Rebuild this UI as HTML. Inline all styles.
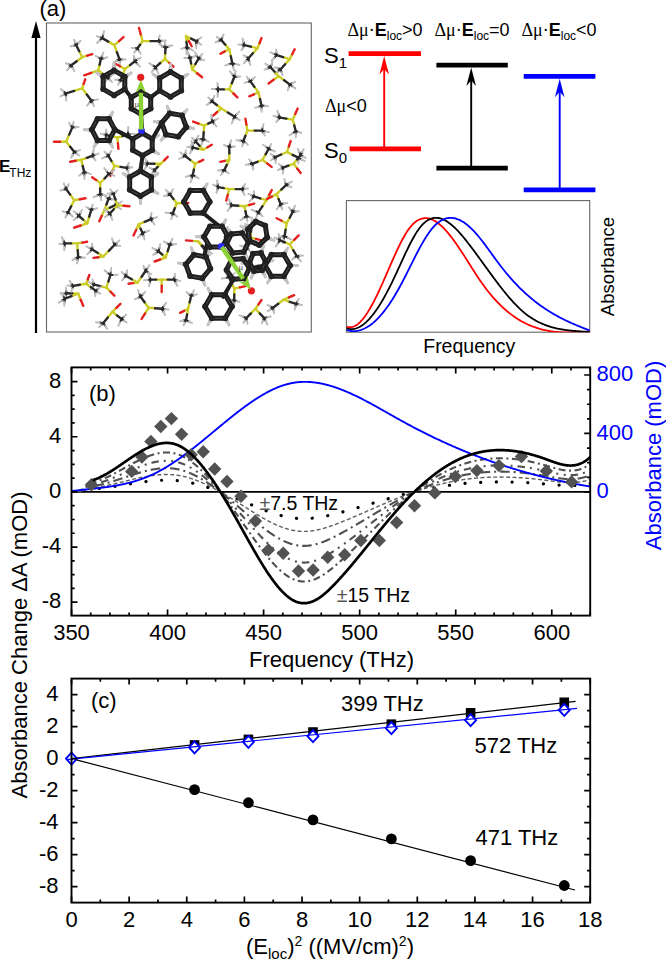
<!DOCTYPE html><html><head><meta charset="utf-8"><style>
html,body{margin:0;padding:0;background:#fff;width:666px;height:961px;overflow:hidden}
svg{display:block} text{font-family:"Liberation Sans", sans-serif;fill:#000}
.t21{font-size:22px}.t20{font-size:20px}.t18{font-size:18px}.t16{font-size:16px}.t15{font-size:15px}.r12{font-size:12px;font-weight:normal}
.b17{font-size:17px;font-weight:bold}.sub{font-size:15px}.sup{font-size:14px}
.serif{font-family:"Liberation Serif", serif}
</style></head><body>
<svg width="666" height="961" viewBox="0 0 666 961">
<rect width="666" height="961" fill="#fff"/>
<g id="panela">
<text x="39.5" y="16" class="t21">(a)</text>
<line x1="36" y1="333" x2="36" y2="34" stroke="#000" stroke-width="2.2"/>
<path d="M36,21 L40.6,38 L31.4,38 Z" fill="#000"/>
<text x="-1" y="172" class="b17">E<tspan class="r12" dy="5" dx="-1">THz</tspan></text>
<rect x="46.5" y="23" width="264.8" height="309" fill="#fff" stroke="#666" stroke-width="1.1"/>
<clipPath id="clipm"><rect x="47" y="23.5" width="263.8" height="308"/></clipPath>
<g clip-path="url(#clipm)">
<line x1="76.2" y1="45.1" x2="73.4" y2="45.7" stroke="#2a2a2a" stroke-width="2.0" stroke-linecap="round"/>
<line x1="73.4" y1="45.7" x2="70.5" y2="46.3" stroke="#bdbdbd" stroke-width="2.0" stroke-linecap="round"/>
<line x1="76.2" y1="45.1" x2="75.1" y2="42.5" stroke="#2a2a2a" stroke-width="2.0" stroke-linecap="round"/>
<line x1="75.1" y1="42.5" x2="74.1" y2="39.9" stroke="#bdbdbd" stroke-width="2.0" stroke-linecap="round"/>
<line x1="76.2" y1="45.1" x2="78.4" y2="42.9" stroke="#2a2a2a" stroke-width="2.0" stroke-linecap="round"/>
<line x1="78.4" y1="42.9" x2="80.6" y2="40.7" stroke="#bdbdbd" stroke-width="2.0" stroke-linecap="round"/>
<line x1="71.2" y1="65.3" x2="72.8" y2="68.1" stroke="#2a2a2a" stroke-width="2.0" stroke-linecap="round"/>
<line x1="72.8" y1="68.1" x2="74.4" y2="71.0" stroke="#bdbdbd" stroke-width="2.0" stroke-linecap="round"/>
<line x1="71.2" y1="65.3" x2="69.2" y2="67.7" stroke="#2a2a2a" stroke-width="2.0" stroke-linecap="round"/>
<line x1="69.2" y1="67.7" x2="67.1" y2="70.2" stroke="#bdbdbd" stroke-width="2.0" stroke-linecap="round"/>
<line x1="71.2" y1="65.3" x2="68.5" y2="64.3" stroke="#2a2a2a" stroke-width="2.0" stroke-linecap="round"/>
<line x1="68.5" y1="64.3" x2="65.9" y2="63.3" stroke="#bdbdbd" stroke-width="2.0" stroke-linecap="round"/>
<line x1="82.2" y1="57.2" x2="79.2" y2="51.2" stroke="#cccc28" stroke-width="2.4" stroke-linecap="round"/>
<line x1="79.2" y1="51.2" x2="76.2" y2="45.1" stroke="#2a2a2a" stroke-width="2.4" stroke-linecap="round"/>
<line x1="82.2" y1="57.2" x2="76.7" y2="61.2" stroke="#cccc28" stroke-width="2.4" stroke-linecap="round"/>
<line x1="76.7" y1="61.2" x2="71.2" y2="65.3" stroke="#2a2a2a" stroke-width="2.4" stroke-linecap="round"/>
<line x1="82.2" y1="57.2" x2="87.2" y2="55.7" stroke="#cccc28" stroke-width="2.4" stroke-linecap="round"/>
<line x1="87.2" y1="55.7" x2="92.3" y2="54.2" stroke="#e42020" stroke-width="2.4" stroke-linecap="round"/>
<line x1="102.3" y1="38.1" x2="99.7" y2="40.5" stroke="#2a2a2a" stroke-width="2.0" stroke-linecap="round"/>
<line x1="99.7" y1="40.5" x2="97.0" y2="42.9" stroke="#bdbdbd" stroke-width="2.0" stroke-linecap="round"/>
<line x1="102.3" y1="38.1" x2="99.5" y2="37.1" stroke="#2a2a2a" stroke-width="2.0" stroke-linecap="round"/>
<line x1="99.5" y1="37.1" x2="96.7" y2="36.2" stroke="#bdbdbd" stroke-width="2.0" stroke-linecap="round"/>
<line x1="102.3" y1="38.1" x2="103.2" y2="34.5" stroke="#2a2a2a" stroke-width="2.0" stroke-linecap="round"/>
<line x1="103.2" y1="34.5" x2="104.1" y2="30.9" stroke="#bdbdbd" stroke-width="2.0" stroke-linecap="round"/>
<line x1="119.4" y1="59.2" x2="122.5" y2="59.4" stroke="#2a2a2a" stroke-width="2.0" stroke-linecap="round"/>
<line x1="122.5" y1="59.4" x2="125.7" y2="59.5" stroke="#bdbdbd" stroke-width="2.0" stroke-linecap="round"/>
<line x1="119.4" y1="59.2" x2="119.7" y2="62.0" stroke="#2a2a2a" stroke-width="2.0" stroke-linecap="round"/>
<line x1="119.7" y1="62.0" x2="119.9" y2="64.8" stroke="#bdbdbd" stroke-width="2.0" stroke-linecap="round"/>
<line x1="119.4" y1="59.2" x2="116.7" y2="60.7" stroke="#2a2a2a" stroke-width="2.0" stroke-linecap="round"/>
<line x1="116.7" y1="60.7" x2="114.1" y2="62.1" stroke="#bdbdbd" stroke-width="2.0" stroke-linecap="round"/>
<line x1="114.4" y1="45.1" x2="108.3" y2="41.6" stroke="#cccc28" stroke-width="2.4" stroke-linecap="round"/>
<line x1="108.3" y1="41.6" x2="102.3" y2="38.1" stroke="#2a2a2a" stroke-width="2.4" stroke-linecap="round"/>
<line x1="114.4" y1="45.1" x2="116.9" y2="52.2" stroke="#cccc28" stroke-width="2.4" stroke-linecap="round"/>
<line x1="116.9" y1="52.2" x2="119.4" y2="59.2" stroke="#2a2a2a" stroke-width="2.4" stroke-linecap="round"/>
<line x1="114.4" y1="45.1" x2="119.0" y2="41.1" stroke="#cccc28" stroke-width="2.4" stroke-linecap="round"/>
<line x1="119.0" y1="41.1" x2="123.5" y2="37.1" stroke="#e42020" stroke-width="2.4" stroke-linecap="round"/>
<line x1="158.7" y1="41.1" x2="159.2" y2="38.3" stroke="#2a2a2a" stroke-width="2.0" stroke-linecap="round"/>
<line x1="159.2" y1="38.3" x2="159.6" y2="35.4" stroke="#bdbdbd" stroke-width="2.0" stroke-linecap="round"/>
<line x1="158.7" y1="41.1" x2="162.2" y2="40.7" stroke="#2a2a2a" stroke-width="2.0" stroke-linecap="round"/>
<line x1="162.2" y1="40.7" x2="165.8" y2="40.4" stroke="#bdbdbd" stroke-width="2.0" stroke-linecap="round"/>
<line x1="158.7" y1="41.1" x2="160.3" y2="44.0" stroke="#2a2a2a" stroke-width="2.0" stroke-linecap="round"/>
<line x1="160.3" y1="44.0" x2="162.0" y2="46.9" stroke="#bdbdbd" stroke-width="2.0" stroke-linecap="round"/>
<line x1="137.5" y1="48.2" x2="139.1" y2="50.9" stroke="#2a2a2a" stroke-width="2.0" stroke-linecap="round"/>
<line x1="139.1" y1="50.9" x2="140.6" y2="53.6" stroke="#bdbdbd" stroke-width="2.0" stroke-linecap="round"/>
<line x1="137.5" y1="48.2" x2="135.8" y2="50.4" stroke="#2a2a2a" stroke-width="2.0" stroke-linecap="round"/>
<line x1="135.8" y1="50.4" x2="134.1" y2="52.7" stroke="#bdbdbd" stroke-width="2.0" stroke-linecap="round"/>
<line x1="137.5" y1="48.2" x2="134.5" y2="48.1" stroke="#2a2a2a" stroke-width="2.0" stroke-linecap="round"/>
<line x1="134.5" y1="48.1" x2="131.6" y2="47.9" stroke="#bdbdbd" stroke-width="2.0" stroke-linecap="round"/>
<line x1="142.6" y1="41.1" x2="150.6" y2="41.1" stroke="#cccc28" stroke-width="2.4" stroke-linecap="round"/>
<line x1="150.6" y1="41.1" x2="158.7" y2="41.1" stroke="#2a2a2a" stroke-width="2.4" stroke-linecap="round"/>
<line x1="142.6" y1="41.1" x2="140.1" y2="44.7" stroke="#cccc28" stroke-width="2.4" stroke-linecap="round"/>
<line x1="140.1" y1="44.7" x2="137.5" y2="48.2" stroke="#2a2a2a" stroke-width="2.4" stroke-linecap="round"/>
<line x1="142.6" y1="41.1" x2="140.8" y2="34.5" stroke="#cccc28" stroke-width="2.4" stroke-linecap="round"/>
<line x1="140.8" y1="34.5" x2="139.0" y2="28.0" stroke="#e42020" stroke-width="2.4" stroke-linecap="round"/>
<line x1="100.8" y1="59.0" x2="98.2" y2="57.4" stroke="#2a2a2a" stroke-width="2.0" stroke-linecap="round"/>
<line x1="98.2" y1="57.4" x2="95.6" y2="55.8" stroke="#bdbdbd" stroke-width="2.0" stroke-linecap="round"/>
<line x1="100.8" y1="59.0" x2="102.1" y2="55.8" stroke="#2a2a2a" stroke-width="2.0" stroke-linecap="round"/>
<line x1="102.1" y1="55.8" x2="103.4" y2="52.6" stroke="#bdbdbd" stroke-width="2.0" stroke-linecap="round"/>
<line x1="100.8" y1="59.0" x2="104.1" y2="58.2" stroke="#2a2a2a" stroke-width="2.0" stroke-linecap="round"/>
<line x1="104.1" y1="58.2" x2="107.3" y2="57.3" stroke="#bdbdbd" stroke-width="2.0" stroke-linecap="round"/>
<line x1="107.7" y1="77.7" x2="110.8" y2="75.8" stroke="#2a2a2a" stroke-width="2.0" stroke-linecap="round"/>
<line x1="110.8" y1="75.8" x2="113.9" y2="73.9" stroke="#bdbdbd" stroke-width="2.0" stroke-linecap="round"/>
<line x1="107.7" y1="77.7" x2="109.9" y2="79.8" stroke="#2a2a2a" stroke-width="2.0" stroke-linecap="round"/>
<line x1="109.9" y1="79.8" x2="112.0" y2="82.0" stroke="#bdbdbd" stroke-width="2.0" stroke-linecap="round"/>
<line x1="107.7" y1="77.7" x2="106.2" y2="80.1" stroke="#2a2a2a" stroke-width="2.0" stroke-linecap="round"/>
<line x1="106.2" y1="80.1" x2="104.6" y2="82.5" stroke="#bdbdbd" stroke-width="2.0" stroke-linecap="round"/>
<line x1="98.3" y1="70.3" x2="99.6" y2="64.7" stroke="#cccc28" stroke-width="2.4" stroke-linecap="round"/>
<line x1="99.6" y1="64.7" x2="100.8" y2="59.0" stroke="#2a2a2a" stroke-width="2.4" stroke-linecap="round"/>
<line x1="98.3" y1="70.3" x2="103.0" y2="74.0" stroke="#cccc28" stroke-width="2.4" stroke-linecap="round"/>
<line x1="103.0" y1="74.0" x2="107.7" y2="77.7" stroke="#2a2a2a" stroke-width="2.4" stroke-linecap="round"/>
<line x1="98.3" y1="70.3" x2="91.2" y2="72.8" stroke="#cccc28" stroke-width="2.4" stroke-linecap="round"/>
<line x1="91.2" y1="72.8" x2="84.2" y2="75.3" stroke="#e42020" stroke-width="2.4" stroke-linecap="round"/>
<line x1="66.1" y1="93.4" x2="66.1" y2="96.9" stroke="#2a2a2a" stroke-width="2.0" stroke-linecap="round"/>
<line x1="66.1" y1="96.9" x2="66.1" y2="100.4" stroke="#bdbdbd" stroke-width="2.0" stroke-linecap="round"/>
<line x1="66.1" y1="93.4" x2="63.2" y2="94.9" stroke="#2a2a2a" stroke-width="2.0" stroke-linecap="round"/>
<line x1="63.2" y1="94.9" x2="60.4" y2="96.4" stroke="#bdbdbd" stroke-width="2.0" stroke-linecap="round"/>
<line x1="66.1" y1="93.4" x2="63.4" y2="91.3" stroke="#2a2a2a" stroke-width="2.0" stroke-linecap="round"/>
<line x1="63.4" y1="91.3" x2="60.8" y2="89.1" stroke="#bdbdbd" stroke-width="2.0" stroke-linecap="round"/>
<line x1="91.3" y1="100.5" x2="94.6" y2="100.0" stroke="#2a2a2a" stroke-width="2.0" stroke-linecap="round"/>
<line x1="94.6" y1="100.0" x2="97.9" y2="99.5" stroke="#bdbdbd" stroke-width="2.0" stroke-linecap="round"/>
<line x1="91.3" y1="100.5" x2="92.6" y2="103.3" stroke="#2a2a2a" stroke-width="2.0" stroke-linecap="round"/>
<line x1="92.6" y1="103.3" x2="94.0" y2="106.0" stroke="#bdbdbd" stroke-width="2.0" stroke-linecap="round"/>
<line x1="91.3" y1="100.5" x2="89.2" y2="103.1" stroke="#2a2a2a" stroke-width="2.0" stroke-linecap="round"/>
<line x1="89.2" y1="103.1" x2="87.1" y2="105.7" stroke="#bdbdbd" stroke-width="2.0" stroke-linecap="round"/>
<line x1="82.2" y1="88.4" x2="74.2" y2="90.9" stroke="#cccc28" stroke-width="2.4" stroke-linecap="round"/>
<line x1="74.2" y1="90.9" x2="66.1" y2="93.4" stroke="#2a2a2a" stroke-width="2.4" stroke-linecap="round"/>
<line x1="82.2" y1="88.4" x2="86.8" y2="94.5" stroke="#cccc28" stroke-width="2.4" stroke-linecap="round"/>
<line x1="86.8" y1="94.5" x2="91.3" y2="100.5" stroke="#2a2a2a" stroke-width="2.4" stroke-linecap="round"/>
<line x1="82.2" y1="88.4" x2="83.7" y2="83.8" stroke="#cccc28" stroke-width="2.4" stroke-linecap="round"/>
<line x1="83.7" y1="83.8" x2="85.2" y2="79.3" stroke="#e42020" stroke-width="2.4" stroke-linecap="round"/>
<line x1="134.9" y1="61.2" x2="134.3" y2="58.5" stroke="#2a2a2a" stroke-width="2.0" stroke-linecap="round"/>
<line x1="134.3" y1="58.5" x2="133.7" y2="55.8" stroke="#bdbdbd" stroke-width="2.0" stroke-linecap="round"/>
<line x1="134.9" y1="61.2" x2="137.8" y2="59.4" stroke="#2a2a2a" stroke-width="2.0" stroke-linecap="round"/>
<line x1="137.8" y1="59.4" x2="140.7" y2="57.6" stroke="#bdbdbd" stroke-width="2.0" stroke-linecap="round"/>
<line x1="134.9" y1="61.2" x2="137.4" y2="63.8" stroke="#2a2a2a" stroke-width="2.0" stroke-linecap="round"/>
<line x1="137.4" y1="63.8" x2="139.8" y2="66.5" stroke="#bdbdbd" stroke-width="2.0" stroke-linecap="round"/>
<line x1="120.7" y1="79.9" x2="123.3" y2="81.7" stroke="#2a2a2a" stroke-width="2.0" stroke-linecap="round"/>
<line x1="123.3" y1="81.7" x2="125.8" y2="83.5" stroke="#bdbdbd" stroke-width="2.0" stroke-linecap="round"/>
<line x1="120.7" y1="79.9" x2="119.5" y2="82.3" stroke="#2a2a2a" stroke-width="2.0" stroke-linecap="round"/>
<line x1="119.5" y1="82.3" x2="118.2" y2="84.8" stroke="#bdbdbd" stroke-width="2.0" stroke-linecap="round"/>
<line x1="120.7" y1="79.9" x2="117.8" y2="79.8" stroke="#2a2a2a" stroke-width="2.0" stroke-linecap="round"/>
<line x1="117.8" y1="79.8" x2="114.9" y2="79.8" stroke="#bdbdbd" stroke-width="2.0" stroke-linecap="round"/>
<line x1="125.0" y1="69.0" x2="130.0" y2="65.1" stroke="#cccc28" stroke-width="2.4" stroke-linecap="round"/>
<line x1="130.0" y1="65.1" x2="134.9" y2="61.2" stroke="#2a2a2a" stroke-width="2.4" stroke-linecap="round"/>
<line x1="125.0" y1="69.0" x2="122.9" y2="74.4" stroke="#cccc28" stroke-width="2.4" stroke-linecap="round"/>
<line x1="122.9" y1="74.4" x2="120.7" y2="79.9" stroke="#2a2a2a" stroke-width="2.4" stroke-linecap="round"/>
<line x1="125.0" y1="69.0" x2="120.0" y2="66.2" stroke="#cccc28" stroke-width="2.4" stroke-linecap="round"/>
<line x1="120.0" y1="66.2" x2="114.9" y2="63.5" stroke="#e42020" stroke-width="2.4" stroke-linecap="round"/>
<line x1="155.6" y1="67.1" x2="157.0" y2="70.4" stroke="#2a2a2a" stroke-width="2.0" stroke-linecap="round"/>
<line x1="157.0" y1="70.4" x2="158.5" y2="73.7" stroke="#bdbdbd" stroke-width="2.0" stroke-linecap="round"/>
<line x1="155.6" y1="67.1" x2="153.6" y2="69.6" stroke="#2a2a2a" stroke-width="2.0" stroke-linecap="round"/>
<line x1="153.6" y1="69.6" x2="151.7" y2="72.2" stroke="#bdbdbd" stroke-width="2.0" stroke-linecap="round"/>
<line x1="155.6" y1="67.1" x2="152.4" y2="65.2" stroke="#2a2a2a" stroke-width="2.0" stroke-linecap="round"/>
<line x1="152.4" y1="65.2" x2="149.3" y2="63.3" stroke="#bdbdbd" stroke-width="2.0" stroke-linecap="round"/>
<line x1="165.5" y1="47.9" x2="162.4" y2="46.0" stroke="#2a2a2a" stroke-width="2.0" stroke-linecap="round"/>
<line x1="162.4" y1="46.0" x2="159.3" y2="44.1" stroke="#bdbdbd" stroke-width="2.0" stroke-linecap="round"/>
<line x1="165.5" y1="47.9" x2="165.2" y2="44.7" stroke="#2a2a2a" stroke-width="2.0" stroke-linecap="round"/>
<line x1="165.2" y1="44.7" x2="165.0" y2="41.6" stroke="#bdbdbd" stroke-width="2.0" stroke-linecap="round"/>
<line x1="165.5" y1="47.9" x2="168.8" y2="46.5" stroke="#2a2a2a" stroke-width="2.0" stroke-linecap="round"/>
<line x1="168.8" y1="46.5" x2="172.2" y2="45.2" stroke="#bdbdbd" stroke-width="2.0" stroke-linecap="round"/>
<line x1="165.0" y1="59.0" x2="160.3" y2="63.0" stroke="#cccc28" stroke-width="2.4" stroke-linecap="round"/>
<line x1="160.3" y1="63.0" x2="155.6" y2="67.1" stroke="#2a2a2a" stroke-width="2.4" stroke-linecap="round"/>
<line x1="165.0" y1="59.0" x2="165.2" y2="53.4" stroke="#cccc28" stroke-width="2.4" stroke-linecap="round"/>
<line x1="165.2" y1="53.4" x2="165.5" y2="47.9" stroke="#2a2a2a" stroke-width="2.4" stroke-linecap="round"/>
<line x1="165.0" y1="59.0" x2="169.3" y2="62.9" stroke="#cccc28" stroke-width="2.4" stroke-linecap="round"/>
<line x1="169.3" y1="62.9" x2="173.5" y2="66.7" stroke="#e42020" stroke-width="2.4" stroke-linecap="round"/>
<line x1="72.2" y1="127.6" x2="70.6" y2="125.2" stroke="#2a2a2a" stroke-width="2.0" stroke-linecap="round"/>
<line x1="70.6" y1="125.2" x2="69.1" y2="122.7" stroke="#bdbdbd" stroke-width="2.0" stroke-linecap="round"/>
<line x1="72.2" y1="127.6" x2="72.9" y2="124.7" stroke="#2a2a2a" stroke-width="2.0" stroke-linecap="round"/>
<line x1="72.9" y1="124.7" x2="73.6" y2="121.8" stroke="#bdbdbd" stroke-width="2.0" stroke-linecap="round"/>
<line x1="72.2" y1="127.6" x2="75.4" y2="127.3" stroke="#2a2a2a" stroke-width="2.0" stroke-linecap="round"/>
<line x1="75.4" y1="127.3" x2="78.6" y2="127.1" stroke="#bdbdbd" stroke-width="2.0" stroke-linecap="round"/>
<line x1="74.2" y1="151.8" x2="77.1" y2="151.0" stroke="#2a2a2a" stroke-width="2.0" stroke-linecap="round"/>
<line x1="77.1" y1="151.0" x2="80.0" y2="150.1" stroke="#bdbdbd" stroke-width="2.0" stroke-linecap="round"/>
<line x1="74.2" y1="151.8" x2="76.8" y2="153.7" stroke="#2a2a2a" stroke-width="2.0" stroke-linecap="round"/>
<line x1="76.8" y1="153.7" x2="79.3" y2="155.6" stroke="#bdbdbd" stroke-width="2.0" stroke-linecap="round"/>
<line x1="74.2" y1="151.8" x2="72.7" y2="154.7" stroke="#2a2a2a" stroke-width="2.0" stroke-linecap="round"/>
<line x1="72.7" y1="154.7" x2="71.2" y2="157.7" stroke="#bdbdbd" stroke-width="2.0" stroke-linecap="round"/>
<line x1="66.1" y1="141.7" x2="69.2" y2="134.6" stroke="#cccc28" stroke-width="2.4" stroke-linecap="round"/>
<line x1="69.2" y1="134.6" x2="72.2" y2="127.6" stroke="#2a2a2a" stroke-width="2.4" stroke-linecap="round"/>
<line x1="66.1" y1="141.7" x2="70.2" y2="146.8" stroke="#cccc28" stroke-width="2.4" stroke-linecap="round"/>
<line x1="70.2" y1="146.8" x2="74.2" y2="151.8" stroke="#2a2a2a" stroke-width="2.4" stroke-linecap="round"/>
<line x1="66.1" y1="141.7" x2="60.0" y2="141.7" stroke="#cccc28" stroke-width="2.4" stroke-linecap="round"/>
<line x1="60.0" y1="141.7" x2="54.0" y2="141.7" stroke="#e42020" stroke-width="2.4" stroke-linecap="round"/>
<line x1="92.3" y1="155.8" x2="93.1" y2="152.5" stroke="#2a2a2a" stroke-width="2.0" stroke-linecap="round"/>
<line x1="93.1" y1="152.5" x2="93.9" y2="149.1" stroke="#bdbdbd" stroke-width="2.0" stroke-linecap="round"/>
<line x1="92.3" y1="155.8" x2="95.5" y2="154.7" stroke="#2a2a2a" stroke-width="2.0" stroke-linecap="round"/>
<line x1="95.5" y1="154.7" x2="98.7" y2="153.6" stroke="#bdbdbd" stroke-width="2.0" stroke-linecap="round"/>
<line x1="92.3" y1="155.8" x2="93.9" y2="158.1" stroke="#2a2a2a" stroke-width="2.0" stroke-linecap="round"/>
<line x1="93.9" y1="158.1" x2="95.5" y2="160.4" stroke="#bdbdbd" stroke-width="2.0" stroke-linecap="round"/>
<line x1="84.2" y1="171.9" x2="87.6" y2="173.0" stroke="#2a2a2a" stroke-width="2.0" stroke-linecap="round"/>
<line x1="87.6" y1="173.0" x2="90.9" y2="174.1" stroke="#bdbdbd" stroke-width="2.0" stroke-linecap="round"/>
<line x1="84.2" y1="171.9" x2="84.4" y2="175.4" stroke="#2a2a2a" stroke-width="2.0" stroke-linecap="round"/>
<line x1="84.4" y1="175.4" x2="84.5" y2="179.0" stroke="#bdbdbd" stroke-width="2.0" stroke-linecap="round"/>
<line x1="84.2" y1="171.9" x2="81.7" y2="173.8" stroke="#2a2a2a" stroke-width="2.0" stroke-linecap="round"/>
<line x1="81.7" y1="173.8" x2="79.2" y2="175.7" stroke="#bdbdbd" stroke-width="2.0" stroke-linecap="round"/>
<line x1="81.2" y1="159.8" x2="86.8" y2="157.8" stroke="#cccc28" stroke-width="2.4" stroke-linecap="round"/>
<line x1="86.8" y1="157.8" x2="92.3" y2="155.8" stroke="#2a2a2a" stroke-width="2.4" stroke-linecap="round"/>
<line x1="81.2" y1="159.8" x2="82.7" y2="165.9" stroke="#cccc28" stroke-width="2.4" stroke-linecap="round"/>
<line x1="82.7" y1="165.9" x2="84.2" y2="171.9" stroke="#2a2a2a" stroke-width="2.4" stroke-linecap="round"/>
<line x1="81.2" y1="159.8" x2="75.7" y2="160.8" stroke="#cccc28" stroke-width="2.4" stroke-linecap="round"/>
<line x1="75.7" y1="160.8" x2="70.1" y2="161.8" stroke="#e42020" stroke-width="2.4" stroke-linecap="round"/>
<line x1="108.4" y1="155.8" x2="105.3" y2="157.1" stroke="#2a2a2a" stroke-width="2.0" stroke-linecap="round"/>
<line x1="105.3" y1="157.1" x2="102.2" y2="158.4" stroke="#bdbdbd" stroke-width="2.0" stroke-linecap="round"/>
<line x1="108.4" y1="155.8" x2="106.4" y2="153.8" stroke="#2a2a2a" stroke-width="2.0" stroke-linecap="round"/>
<line x1="106.4" y1="153.8" x2="104.5" y2="151.7" stroke="#bdbdbd" stroke-width="2.0" stroke-linecap="round"/>
<line x1="108.4" y1="155.8" x2="109.9" y2="153.3" stroke="#2a2a2a" stroke-width="2.0" stroke-linecap="round"/>
<line x1="109.9" y1="153.3" x2="111.4" y2="150.8" stroke="#bdbdbd" stroke-width="2.0" stroke-linecap="round"/>
<line x1="126.5" y1="167.9" x2="127.7" y2="165.4" stroke="#2a2a2a" stroke-width="2.0" stroke-linecap="round"/>
<line x1="127.7" y1="165.4" x2="128.8" y2="162.8" stroke="#bdbdbd" stroke-width="2.0" stroke-linecap="round"/>
<line x1="126.5" y1="167.9" x2="129.4" y2="167.6" stroke="#2a2a2a" stroke-width="2.0" stroke-linecap="round"/>
<line x1="129.4" y1="167.6" x2="132.3" y2="167.3" stroke="#bdbdbd" stroke-width="2.0" stroke-linecap="round"/>
<line x1="126.5" y1="167.9" x2="127.7" y2="170.8" stroke="#2a2a2a" stroke-width="2.0" stroke-linecap="round"/>
<line x1="127.7" y1="170.8" x2="128.9" y2="173.7" stroke="#bdbdbd" stroke-width="2.0" stroke-linecap="round"/>
<line x1="114.4" y1="165.9" x2="111.4" y2="160.9" stroke="#cccc28" stroke-width="2.4" stroke-linecap="round"/>
<line x1="111.4" y1="160.9" x2="108.4" y2="155.8" stroke="#2a2a2a" stroke-width="2.4" stroke-linecap="round"/>
<line x1="114.4" y1="165.9" x2="120.5" y2="166.9" stroke="#cccc28" stroke-width="2.4" stroke-linecap="round"/>
<line x1="120.5" y1="166.9" x2="126.5" y2="167.9" stroke="#2a2a2a" stroke-width="2.4" stroke-linecap="round"/>
<line x1="114.4" y1="165.9" x2="112.4" y2="170.9" stroke="#cccc28" stroke-width="2.4" stroke-linecap="round"/>
<line x1="112.4" y1="170.9" x2="110.4" y2="175.9" stroke="#e42020" stroke-width="2.4" stroke-linecap="round"/>
<line x1="154.7" y1="169.9" x2="155.8" y2="172.6" stroke="#2a2a2a" stroke-width="2.0" stroke-linecap="round"/>
<line x1="155.8" y1="172.6" x2="156.9" y2="175.3" stroke="#bdbdbd" stroke-width="2.0" stroke-linecap="round"/>
<line x1="154.7" y1="169.9" x2="152.8" y2="172.4" stroke="#2a2a2a" stroke-width="2.0" stroke-linecap="round"/>
<line x1="152.8" y1="172.4" x2="151.0" y2="174.8" stroke="#bdbdbd" stroke-width="2.0" stroke-linecap="round"/>
<line x1="154.7" y1="169.9" x2="152.0" y2="168.9" stroke="#2a2a2a" stroke-width="2.0" stroke-linecap="round"/>
<line x1="152.0" y1="168.9" x2="149.3" y2="167.9" stroke="#bdbdbd" stroke-width="2.0" stroke-linecap="round"/>
<line x1="148.0" y1="163.6" x2="146.1" y2="166.8" stroke="#2a2a2a" stroke-width="2.0" stroke-linecap="round"/>
<line x1="146.1" y1="166.8" x2="144.1" y2="170.0" stroke="#bdbdbd" stroke-width="2.0" stroke-linecap="round"/>
<line x1="148.0" y1="163.6" x2="144.8" y2="163.6" stroke="#2a2a2a" stroke-width="2.0" stroke-linecap="round"/>
<line x1="144.8" y1="163.6" x2="141.5" y2="163.6" stroke="#bdbdbd" stroke-width="2.0" stroke-linecap="round"/>
<line x1="148.0" y1="163.6" x2="146.5" y2="161.1" stroke="#2a2a2a" stroke-width="2.0" stroke-linecap="round"/>
<line x1="146.5" y1="161.1" x2="145.0" y2="158.7" stroke="#bdbdbd" stroke-width="2.0" stroke-linecap="round"/>
<line x1="160.7" y1="163.8" x2="157.7" y2="166.9" stroke="#cccc28" stroke-width="2.4" stroke-linecap="round"/>
<line x1="157.7" y1="166.9" x2="154.7" y2="169.9" stroke="#2a2a2a" stroke-width="2.4" stroke-linecap="round"/>
<line x1="160.7" y1="163.8" x2="154.4" y2="163.7" stroke="#cccc28" stroke-width="2.4" stroke-linecap="round"/>
<line x1="154.4" y1="163.7" x2="148.0" y2="163.6" stroke="#2a2a2a" stroke-width="2.4" stroke-linecap="round"/>
<line x1="160.7" y1="163.8" x2="164.2" y2="160.3" stroke="#cccc28" stroke-width="2.4" stroke-linecap="round"/>
<line x1="164.2" y1="160.3" x2="167.7" y2="156.8" stroke="#e42020" stroke-width="2.4" stroke-linecap="round"/>
<line x1="106.5" y1="135.1" x2="105.3" y2="138.6" stroke="#2a2a2a" stroke-width="2.0" stroke-linecap="round"/>
<line x1="105.3" y1="138.6" x2="104.1" y2="142.1" stroke="#bdbdbd" stroke-width="2.0" stroke-linecap="round"/>
<line x1="106.5" y1="135.1" x2="103.7" y2="134.4" stroke="#2a2a2a" stroke-width="2.0" stroke-linecap="round"/>
<line x1="103.7" y1="134.4" x2="100.9" y2="133.6" stroke="#bdbdbd" stroke-width="2.0" stroke-linecap="round"/>
<line x1="106.5" y1="135.1" x2="106.3" y2="132.3" stroke="#2a2a2a" stroke-width="2.0" stroke-linecap="round"/>
<line x1="106.3" y1="132.3" x2="106.1" y2="129.6" stroke="#bdbdbd" stroke-width="2.0" stroke-linecap="round"/>
<line x1="127.8" y1="134.5" x2="128.1" y2="130.8" stroke="#2a2a2a" stroke-width="2.0" stroke-linecap="round"/>
<line x1="128.1" y1="130.8" x2="128.3" y2="127.1" stroke="#bdbdbd" stroke-width="2.0" stroke-linecap="round"/>
<line x1="127.8" y1="134.5" x2="131.3" y2="134.1" stroke="#2a2a2a" stroke-width="2.0" stroke-linecap="round"/>
<line x1="131.3" y1="134.1" x2="134.7" y2="133.8" stroke="#bdbdbd" stroke-width="2.0" stroke-linecap="round"/>
<line x1="127.8" y1="134.5" x2="130.0" y2="136.7" stroke="#2a2a2a" stroke-width="2.0" stroke-linecap="round"/>
<line x1="130.0" y1="136.7" x2="132.2" y2="139.0" stroke="#bdbdbd" stroke-width="2.0" stroke-linecap="round"/>
<line x1="117.4" y1="137.7" x2="112.0" y2="136.4" stroke="#cccc28" stroke-width="2.4" stroke-linecap="round"/>
<line x1="112.0" y1="136.4" x2="106.5" y2="135.1" stroke="#2a2a2a" stroke-width="2.4" stroke-linecap="round"/>
<line x1="117.4" y1="137.7" x2="122.6" y2="136.1" stroke="#cccc28" stroke-width="2.4" stroke-linecap="round"/>
<line x1="122.6" y1="136.1" x2="127.8" y2="134.5" stroke="#2a2a2a" stroke-width="2.4" stroke-linecap="round"/>
<line x1="117.4" y1="137.7" x2="117.9" y2="143.2" stroke="#cccc28" stroke-width="2.4" stroke-linecap="round"/>
<line x1="117.9" y1="143.2" x2="118.4" y2="148.8" stroke="#e42020" stroke-width="2.4" stroke-linecap="round"/>
<line x1="196.1" y1="41.1" x2="198.8" y2="39.2" stroke="#2a2a2a" stroke-width="2.0" stroke-linecap="round"/>
<line x1="198.8" y1="39.2" x2="201.4" y2="37.3" stroke="#bdbdbd" stroke-width="2.0" stroke-linecap="round"/>
<line x1="196.1" y1="41.1" x2="198.6" y2="42.9" stroke="#2a2a2a" stroke-width="2.0" stroke-linecap="round"/>
<line x1="198.6" y1="42.9" x2="201.2" y2="44.6" stroke="#bdbdbd" stroke-width="2.0" stroke-linecap="round"/>
<line x1="196.1" y1="41.1" x2="196.2" y2="44.7" stroke="#2a2a2a" stroke-width="2.0" stroke-linecap="round"/>
<line x1="196.2" y1="44.7" x2="196.3" y2="48.2" stroke="#bdbdbd" stroke-width="2.0" stroke-linecap="round"/>
<line x1="187.0" y1="47.1" x2="190.1" y2="48.9" stroke="#2a2a2a" stroke-width="2.0" stroke-linecap="round"/>
<line x1="190.1" y1="48.9" x2="193.3" y2="50.6" stroke="#bdbdbd" stroke-width="2.0" stroke-linecap="round"/>
<line x1="187.0" y1="47.1" x2="186.8" y2="50.7" stroke="#2a2a2a" stroke-width="2.0" stroke-linecap="round"/>
<line x1="186.8" y1="50.7" x2="186.5" y2="54.2" stroke="#bdbdbd" stroke-width="2.0" stroke-linecap="round"/>
<line x1="187.0" y1="47.1" x2="184.2" y2="48.0" stroke="#2a2a2a" stroke-width="2.0" stroke-linecap="round"/>
<line x1="184.2" y1="48.0" x2="181.3" y2="48.9" stroke="#bdbdbd" stroke-width="2.0" stroke-linecap="round"/>
<line x1="186.0" y1="36.1" x2="191.1" y2="38.6" stroke="#cccc28" stroke-width="2.4" stroke-linecap="round"/>
<line x1="191.1" y1="38.6" x2="196.1" y2="41.1" stroke="#2a2a2a" stroke-width="2.4" stroke-linecap="round"/>
<line x1="186.0" y1="36.1" x2="186.5" y2="41.6" stroke="#cccc28" stroke-width="2.4" stroke-linecap="round"/>
<line x1="186.5" y1="41.6" x2="187.0" y2="47.1" stroke="#2a2a2a" stroke-width="2.4" stroke-linecap="round"/>
<line x1="186.0" y1="36.1" x2="188.9" y2="41.1" stroke="#cccc28" stroke-width="2.4" stroke-linecap="round"/>
<line x1="188.9" y1="41.1" x2="191.7" y2="46.1" stroke="#e42020" stroke-width="2.4" stroke-linecap="round"/>
<line x1="221.3" y1="40.1" x2="218.4" y2="41.2" stroke="#2a2a2a" stroke-width="2.0" stroke-linecap="round"/>
<line x1="218.4" y1="41.2" x2="215.5" y2="42.3" stroke="#bdbdbd" stroke-width="2.0" stroke-linecap="round"/>
<line x1="221.3" y1="40.1" x2="219.0" y2="38.5" stroke="#2a2a2a" stroke-width="2.0" stroke-linecap="round"/>
<line x1="219.0" y1="38.5" x2="216.7" y2="36.9" stroke="#bdbdbd" stroke-width="2.0" stroke-linecap="round"/>
<line x1="221.3" y1="40.1" x2="222.4" y2="37.3" stroke="#2a2a2a" stroke-width="2.0" stroke-linecap="round"/>
<line x1="222.4" y1="37.3" x2="223.6" y2="34.5" stroke="#bdbdbd" stroke-width="2.0" stroke-linecap="round"/>
<line x1="232.3" y1="63.2" x2="235.9" y2="64.1" stroke="#2a2a2a" stroke-width="2.0" stroke-linecap="round"/>
<line x1="235.9" y1="64.1" x2="239.5" y2="65.0" stroke="#bdbdbd" stroke-width="2.0" stroke-linecap="round"/>
<line x1="232.3" y1="63.2" x2="233.2" y2="66.8" stroke="#2a2a2a" stroke-width="2.0" stroke-linecap="round"/>
<line x1="233.2" y1="66.8" x2="234.0" y2="70.4" stroke="#bdbdbd" stroke-width="2.0" stroke-linecap="round"/>
<line x1="232.3" y1="63.2" x2="228.8" y2="64.3" stroke="#2a2a2a" stroke-width="2.0" stroke-linecap="round"/>
<line x1="228.8" y1="64.3" x2="225.2" y2="65.4" stroke="#bdbdbd" stroke-width="2.0" stroke-linecap="round"/>
<line x1="229.3" y1="49.2" x2="225.3" y2="44.7" stroke="#cccc28" stroke-width="2.4" stroke-linecap="round"/>
<line x1="225.3" y1="44.7" x2="221.3" y2="40.1" stroke="#2a2a2a" stroke-width="2.4" stroke-linecap="round"/>
<line x1="229.3" y1="49.2" x2="230.8" y2="56.2" stroke="#cccc28" stroke-width="2.4" stroke-linecap="round"/>
<line x1="230.8" y1="56.2" x2="232.3" y2="63.2" stroke="#2a2a2a" stroke-width="2.4" stroke-linecap="round"/>
<line x1="229.3" y1="49.2" x2="224.8" y2="51.4" stroke="#cccc28" stroke-width="2.4" stroke-linecap="round"/>
<line x1="224.8" y1="51.4" x2="220.4" y2="53.7" stroke="#e42020" stroke-width="2.4" stroke-linecap="round"/>
<line x1="244.4" y1="45.1" x2="242.9" y2="47.7" stroke="#2a2a2a" stroke-width="2.0" stroke-linecap="round"/>
<line x1="242.9" y1="47.7" x2="241.5" y2="50.3" stroke="#bdbdbd" stroke-width="2.0" stroke-linecap="round"/>
<line x1="244.4" y1="45.1" x2="241.5" y2="44.8" stroke="#2a2a2a" stroke-width="2.0" stroke-linecap="round"/>
<line x1="241.5" y1="44.8" x2="238.5" y2="44.6" stroke="#bdbdbd" stroke-width="2.0" stroke-linecap="round"/>
<line x1="244.4" y1="45.1" x2="243.5" y2="41.8" stroke="#2a2a2a" stroke-width="2.0" stroke-linecap="round"/>
<line x1="243.5" y1="41.8" x2="242.6" y2="38.6" stroke="#bdbdbd" stroke-width="2.0" stroke-linecap="round"/>
<line x1="248.4" y1="58.2" x2="249.4" y2="61.7" stroke="#2a2a2a" stroke-width="2.0" stroke-linecap="round"/>
<line x1="249.4" y1="61.7" x2="250.3" y2="65.1" stroke="#bdbdbd" stroke-width="2.0" stroke-linecap="round"/>
<line x1="248.4" y1="58.2" x2="246.1" y2="60.7" stroke="#2a2a2a" stroke-width="2.0" stroke-linecap="round"/>
<line x1="246.1" y1="60.7" x2="243.9" y2="63.3" stroke="#bdbdbd" stroke-width="2.0" stroke-linecap="round"/>
<line x1="248.4" y1="58.2" x2="246.0" y2="56.7" stroke="#2a2a2a" stroke-width="2.0" stroke-linecap="round"/>
<line x1="246.0" y1="56.7" x2="243.6" y2="55.3" stroke="#bdbdbd" stroke-width="2.0" stroke-linecap="round"/>
<line x1="257.5" y1="48.2" x2="250.9" y2="46.7" stroke="#cccc28" stroke-width="2.4" stroke-linecap="round"/>
<line x1="250.9" y1="46.7" x2="244.4" y2="45.1" stroke="#2a2a2a" stroke-width="2.4" stroke-linecap="round"/>
<line x1="257.5" y1="48.2" x2="252.9" y2="53.2" stroke="#cccc28" stroke-width="2.4" stroke-linecap="round"/>
<line x1="252.9" y1="53.2" x2="248.4" y2="58.2" stroke="#2a2a2a" stroke-width="2.4" stroke-linecap="round"/>
<line x1="257.5" y1="48.2" x2="259.5" y2="43.2" stroke="#cccc28" stroke-width="2.4" stroke-linecap="round"/>
<line x1="259.5" y1="43.2" x2="261.5" y2="38.1" stroke="#e42020" stroke-width="2.4" stroke-linecap="round"/>
<line x1="276.6" y1="55.2" x2="274.2" y2="57.9" stroke="#2a2a2a" stroke-width="2.0" stroke-linecap="round"/>
<line x1="274.2" y1="57.9" x2="271.7" y2="60.7" stroke="#bdbdbd" stroke-width="2.0" stroke-linecap="round"/>
<line x1="276.6" y1="55.2" x2="273.4" y2="53.7" stroke="#2a2a2a" stroke-width="2.0" stroke-linecap="round"/>
<line x1="273.4" y1="53.7" x2="270.3" y2="52.2" stroke="#bdbdbd" stroke-width="2.0" stroke-linecap="round"/>
<line x1="276.6" y1="55.2" x2="276.4" y2="52.3" stroke="#2a2a2a" stroke-width="2.0" stroke-linecap="round"/>
<line x1="276.4" y1="52.3" x2="276.2" y2="49.4" stroke="#bdbdbd" stroke-width="2.0" stroke-linecap="round"/>
<line x1="280.6" y1="69.3" x2="281.6" y2="72.2" stroke="#2a2a2a" stroke-width="2.0" stroke-linecap="round"/>
<line x1="281.6" y1="72.2" x2="282.6" y2="75.1" stroke="#bdbdbd" stroke-width="2.0" stroke-linecap="round"/>
<line x1="280.6" y1="69.3" x2="277.7" y2="71.6" stroke="#2a2a2a" stroke-width="2.0" stroke-linecap="round"/>
<line x1="277.7" y1="71.6" x2="274.8" y2="74.0" stroke="#bdbdbd" stroke-width="2.0" stroke-linecap="round"/>
<line x1="280.6" y1="69.3" x2="277.6" y2="68.3" stroke="#2a2a2a" stroke-width="2.0" stroke-linecap="round"/>
<line x1="277.6" y1="68.3" x2="274.6" y2="67.3" stroke="#bdbdbd" stroke-width="2.0" stroke-linecap="round"/>
<line x1="289.7" y1="59.2" x2="283.1" y2="57.2" stroke="#cccc28" stroke-width="2.4" stroke-linecap="round"/>
<line x1="283.1" y1="57.2" x2="276.6" y2="55.2" stroke="#2a2a2a" stroke-width="2.4" stroke-linecap="round"/>
<line x1="289.7" y1="59.2" x2="285.1" y2="64.2" stroke="#cccc28" stroke-width="2.4" stroke-linecap="round"/>
<line x1="285.1" y1="64.2" x2="280.6" y2="69.3" stroke="#2a2a2a" stroke-width="2.4" stroke-linecap="round"/>
<line x1="289.7" y1="59.2" x2="292.2" y2="54.2" stroke="#cccc28" stroke-width="2.4" stroke-linecap="round"/>
<line x1="292.2" y1="54.2" x2="294.7" y2="49.2" stroke="#e42020" stroke-width="2.4" stroke-linecap="round"/>
<line x1="190.1" y1="58.0" x2="187.2" y2="58.0" stroke="#2a2a2a" stroke-width="2.0" stroke-linecap="round"/>
<line x1="187.2" y1="58.0" x2="184.3" y2="58.0" stroke="#bdbdbd" stroke-width="2.0" stroke-linecap="round"/>
<line x1="190.1" y1="58.0" x2="188.8" y2="54.6" stroke="#2a2a2a" stroke-width="2.0" stroke-linecap="round"/>
<line x1="188.8" y1="54.6" x2="187.5" y2="51.2" stroke="#bdbdbd" stroke-width="2.0" stroke-linecap="round"/>
<line x1="190.1" y1="58.0" x2="192.8" y2="57.0" stroke="#2a2a2a" stroke-width="2.0" stroke-linecap="round"/>
<line x1="192.8" y1="57.0" x2="195.5" y2="55.9" stroke="#bdbdbd" stroke-width="2.0" stroke-linecap="round"/>
<line x1="198.5" y1="58.8" x2="196.7" y2="55.5" stroke="#2a2a2a" stroke-width="2.0" stroke-linecap="round"/>
<line x1="196.7" y1="55.5" x2="195.0" y2="52.3" stroke="#bdbdbd" stroke-width="2.0" stroke-linecap="round"/>
<line x1="198.5" y1="58.8" x2="200.4" y2="56.3" stroke="#2a2a2a" stroke-width="2.0" stroke-linecap="round"/>
<line x1="200.4" y1="56.3" x2="202.2" y2="53.8" stroke="#bdbdbd" stroke-width="2.0" stroke-linecap="round"/>
<line x1="198.5" y1="58.8" x2="201.3" y2="59.5" stroke="#2a2a2a" stroke-width="2.0" stroke-linecap="round"/>
<line x1="201.3" y1="59.5" x2="204.2" y2="60.1" stroke="#bdbdbd" stroke-width="2.0" stroke-linecap="round"/>
<line x1="192.1" y1="69.3" x2="191.1" y2="63.6" stroke="#cccc28" stroke-width="2.4" stroke-linecap="round"/>
<line x1="191.1" y1="63.6" x2="190.1" y2="58.0" stroke="#2a2a2a" stroke-width="2.4" stroke-linecap="round"/>
<line x1="192.1" y1="69.3" x2="195.3" y2="64.1" stroke="#cccc28" stroke-width="2.4" stroke-linecap="round"/>
<line x1="195.3" y1="64.1" x2="198.5" y2="58.8" stroke="#2a2a2a" stroke-width="2.4" stroke-linecap="round"/>
<line x1="192.1" y1="69.3" x2="197.1" y2="73.3" stroke="#cccc28" stroke-width="2.4" stroke-linecap="round"/>
<line x1="197.1" y1="73.3" x2="202.1" y2="77.3" stroke="#e42020" stroke-width="2.4" stroke-linecap="round"/>
<line x1="218.2" y1="89.4" x2="217.8" y2="93.1" stroke="#2a2a2a" stroke-width="2.0" stroke-linecap="round"/>
<line x1="217.8" y1="93.1" x2="217.5" y2="96.8" stroke="#bdbdbd" stroke-width="2.0" stroke-linecap="round"/>
<line x1="218.2" y1="89.4" x2="214.9" y2="89.1" stroke="#2a2a2a" stroke-width="2.0" stroke-linecap="round"/>
<line x1="214.9" y1="89.1" x2="211.7" y2="88.9" stroke="#bdbdbd" stroke-width="2.0" stroke-linecap="round"/>
<line x1="218.2" y1="89.4" x2="217.8" y2="86.2" stroke="#2a2a2a" stroke-width="2.0" stroke-linecap="round"/>
<line x1="217.8" y1="86.2" x2="217.4" y2="83.1" stroke="#bdbdbd" stroke-width="2.0" stroke-linecap="round"/>
<line x1="234.3" y1="77.0" x2="232.2" y2="74.1" stroke="#2a2a2a" stroke-width="2.0" stroke-linecap="round"/>
<line x1="232.2" y1="74.1" x2="230.0" y2="71.3" stroke="#bdbdbd" stroke-width="2.0" stroke-linecap="round"/>
<line x1="234.3" y1="77.0" x2="235.0" y2="74.1" stroke="#2a2a2a" stroke-width="2.0" stroke-linecap="round"/>
<line x1="235.0" y1="74.1" x2="235.7" y2="71.2" stroke="#bdbdbd" stroke-width="2.0" stroke-linecap="round"/>
<line x1="234.3" y1="77.0" x2="237.3" y2="76.8" stroke="#2a2a2a" stroke-width="2.0" stroke-linecap="round"/>
<line x1="237.3" y1="76.8" x2="240.3" y2="76.6" stroke="#bdbdbd" stroke-width="2.0" stroke-linecap="round"/>
<line x1="229.3" y1="89.4" x2="223.8" y2="89.4" stroke="#cccc28" stroke-width="2.4" stroke-linecap="round"/>
<line x1="223.8" y1="89.4" x2="218.2" y2="89.4" stroke="#2a2a2a" stroke-width="2.4" stroke-linecap="round"/>
<line x1="229.3" y1="89.4" x2="231.8" y2="83.2" stroke="#cccc28" stroke-width="2.4" stroke-linecap="round"/>
<line x1="231.8" y1="83.2" x2="234.3" y2="77.0" stroke="#2a2a2a" stroke-width="2.4" stroke-linecap="round"/>
<line x1="229.3" y1="89.4" x2="233.4" y2="93.4" stroke="#cccc28" stroke-width="2.4" stroke-linecap="round"/>
<line x1="233.4" y1="93.4" x2="237.4" y2="97.4" stroke="#e42020" stroke-width="2.4" stroke-linecap="round"/>
<line x1="250.4" y1="81.4" x2="247.5" y2="82.1" stroke="#2a2a2a" stroke-width="2.0" stroke-linecap="round"/>
<line x1="247.5" y1="82.1" x2="244.6" y2="82.8" stroke="#bdbdbd" stroke-width="2.0" stroke-linecap="round"/>
<line x1="250.4" y1="81.4" x2="248.6" y2="79.2" stroke="#2a2a2a" stroke-width="2.0" stroke-linecap="round"/>
<line x1="248.6" y1="79.2" x2="246.8" y2="76.9" stroke="#bdbdbd" stroke-width="2.0" stroke-linecap="round"/>
<line x1="250.4" y1="81.4" x2="252.6" y2="79.2" stroke="#2a2a2a" stroke-width="2.0" stroke-linecap="round"/>
<line x1="252.6" y1="79.2" x2="254.9" y2="77.1" stroke="#bdbdbd" stroke-width="2.0" stroke-linecap="round"/>
<line x1="261.5" y1="105.5" x2="264.8" y2="105.8" stroke="#2a2a2a" stroke-width="2.0" stroke-linecap="round"/>
<line x1="264.8" y1="105.8" x2="268.1" y2="106.2" stroke="#bdbdbd" stroke-width="2.0" stroke-linecap="round"/>
<line x1="261.5" y1="105.5" x2="261.5" y2="108.7" stroke="#2a2a2a" stroke-width="2.0" stroke-linecap="round"/>
<line x1="261.5" y1="108.7" x2="261.6" y2="111.8" stroke="#bdbdbd" stroke-width="2.0" stroke-linecap="round"/>
<line x1="261.5" y1="105.5" x2="258.5" y2="106.6" stroke="#2a2a2a" stroke-width="2.0" stroke-linecap="round"/>
<line x1="258.5" y1="106.6" x2="255.4" y2="107.8" stroke="#bdbdbd" stroke-width="2.0" stroke-linecap="round"/>
<line x1="258.5" y1="92.4" x2="254.4" y2="86.9" stroke="#cccc28" stroke-width="2.4" stroke-linecap="round"/>
<line x1="254.4" y1="86.9" x2="250.4" y2="81.4" stroke="#2a2a2a" stroke-width="2.4" stroke-linecap="round"/>
<line x1="258.5" y1="92.4" x2="260.0" y2="99.0" stroke="#cccc28" stroke-width="2.4" stroke-linecap="round"/>
<line x1="260.0" y1="99.0" x2="261.5" y2="105.5" stroke="#2a2a2a" stroke-width="2.4" stroke-linecap="round"/>
<line x1="258.5" y1="92.4" x2="253.9" y2="94.3" stroke="#cccc28" stroke-width="2.4" stroke-linecap="round"/>
<line x1="253.9" y1="94.3" x2="249.3" y2="96.3" stroke="#e42020" stroke-width="2.4" stroke-linecap="round"/>
<line x1="270.6" y1="67.3" x2="267.5" y2="68.5" stroke="#2a2a2a" stroke-width="2.0" stroke-linecap="round"/>
<line x1="267.5" y1="68.5" x2="264.5" y2="69.6" stroke="#bdbdbd" stroke-width="2.0" stroke-linecap="round"/>
<line x1="270.6" y1="67.3" x2="268.0" y2="65.5" stroke="#2a2a2a" stroke-width="2.0" stroke-linecap="round"/>
<line x1="268.0" y1="65.5" x2="265.3" y2="63.7" stroke="#bdbdbd" stroke-width="2.0" stroke-linecap="round"/>
<line x1="270.6" y1="67.3" x2="271.5" y2="64.7" stroke="#2a2a2a" stroke-width="2.0" stroke-linecap="round"/>
<line x1="271.5" y1="64.7" x2="272.4" y2="62.1" stroke="#bdbdbd" stroke-width="2.0" stroke-linecap="round"/>
<line x1="289.7" y1="84.4" x2="292.4" y2="83.2" stroke="#2a2a2a" stroke-width="2.0" stroke-linecap="round"/>
<line x1="292.4" y1="83.2" x2="295.0" y2="81.9" stroke="#bdbdbd" stroke-width="2.0" stroke-linecap="round"/>
<line x1="289.7" y1="84.4" x2="292.5" y2="86.4" stroke="#2a2a2a" stroke-width="2.0" stroke-linecap="round"/>
<line x1="292.5" y1="86.4" x2="295.4" y2="88.4" stroke="#bdbdbd" stroke-width="2.0" stroke-linecap="round"/>
<line x1="289.7" y1="84.4" x2="288.8" y2="87.3" stroke="#2a2a2a" stroke-width="2.0" stroke-linecap="round"/>
<line x1="288.8" y1="87.3" x2="287.8" y2="90.3" stroke="#bdbdbd" stroke-width="2.0" stroke-linecap="round"/>
<line x1="278.6" y1="76.3" x2="274.6" y2="71.8" stroke="#cccc28" stroke-width="2.4" stroke-linecap="round"/>
<line x1="274.6" y1="71.8" x2="270.6" y2="67.3" stroke="#2a2a2a" stroke-width="2.4" stroke-linecap="round"/>
<line x1="278.6" y1="76.3" x2="284.1" y2="80.3" stroke="#cccc28" stroke-width="2.4" stroke-linecap="round"/>
<line x1="284.1" y1="80.3" x2="289.7" y2="84.4" stroke="#2a2a2a" stroke-width="2.4" stroke-linecap="round"/>
<line x1="278.6" y1="76.3" x2="273.6" y2="79.8" stroke="#cccc28" stroke-width="2.4" stroke-linecap="round"/>
<line x1="273.6" y1="79.8" x2="268.5" y2="83.4" stroke="#e42020" stroke-width="2.4" stroke-linecap="round"/>
<line x1="212.2" y1="101.5" x2="209.4" y2="103.2" stroke="#2a2a2a" stroke-width="2.0" stroke-linecap="round"/>
<line x1="209.4" y1="103.2" x2="206.6" y2="105.0" stroke="#bdbdbd" stroke-width="2.0" stroke-linecap="round"/>
<line x1="212.2" y1="101.5" x2="210.2" y2="99.4" stroke="#2a2a2a" stroke-width="2.0" stroke-linecap="round"/>
<line x1="210.2" y1="99.4" x2="208.2" y2="97.4" stroke="#bdbdbd" stroke-width="2.0" stroke-linecap="round"/>
<line x1="212.2" y1="101.5" x2="213.2" y2="98.7" stroke="#2a2a2a" stroke-width="2.0" stroke-linecap="round"/>
<line x1="213.2" y1="98.7" x2="214.2" y2="95.8" stroke="#bdbdbd" stroke-width="2.0" stroke-linecap="round"/>
<line x1="234.3" y1="116.6" x2="236.8" y2="114.1" stroke="#2a2a2a" stroke-width="2.0" stroke-linecap="round"/>
<line x1="236.8" y1="114.1" x2="239.3" y2="111.6" stroke="#bdbdbd" stroke-width="2.0" stroke-linecap="round"/>
<line x1="234.3" y1="116.6" x2="237.1" y2="118.4" stroke="#2a2a2a" stroke-width="2.0" stroke-linecap="round"/>
<line x1="237.1" y1="118.4" x2="239.9" y2="120.1" stroke="#bdbdbd" stroke-width="2.0" stroke-linecap="round"/>
<line x1="234.3" y1="116.6" x2="233.1" y2="120.0" stroke="#2a2a2a" stroke-width="2.0" stroke-linecap="round"/>
<line x1="233.1" y1="120.0" x2="231.8" y2="123.5" stroke="#bdbdbd" stroke-width="2.0" stroke-linecap="round"/>
<line x1="221.3" y1="108.5" x2="216.8" y2="105.0" stroke="#cccc28" stroke-width="2.4" stroke-linecap="round"/>
<line x1="216.8" y1="105.0" x2="212.2" y2="101.5" stroke="#2a2a2a" stroke-width="2.4" stroke-linecap="round"/>
<line x1="221.3" y1="108.5" x2="227.8" y2="112.5" stroke="#cccc28" stroke-width="2.4" stroke-linecap="round"/>
<line x1="227.8" y1="112.5" x2="234.3" y2="116.6" stroke="#2a2a2a" stroke-width="2.4" stroke-linecap="round"/>
<line x1="221.3" y1="108.5" x2="217.2" y2="112.0" stroke="#cccc28" stroke-width="2.4" stroke-linecap="round"/>
<line x1="217.2" y1="112.0" x2="213.2" y2="115.6" stroke="#e42020" stroke-width="2.4" stroke-linecap="round"/>
<line x1="212.2" y1="121.6" x2="211.7" y2="118.3" stroke="#2a2a2a" stroke-width="2.0" stroke-linecap="round"/>
<line x1="211.7" y1="118.3" x2="211.2" y2="114.9" stroke="#bdbdbd" stroke-width="2.0" stroke-linecap="round"/>
<line x1="212.2" y1="121.6" x2="215.1" y2="120.1" stroke="#2a2a2a" stroke-width="2.0" stroke-linecap="round"/>
<line x1="215.1" y1="120.1" x2="218.0" y2="118.7" stroke="#bdbdbd" stroke-width="2.0" stroke-linecap="round"/>
<line x1="212.2" y1="121.6" x2="214.3" y2="124.0" stroke="#2a2a2a" stroke-width="2.0" stroke-linecap="round"/>
<line x1="214.3" y1="124.0" x2="216.4" y2="126.4" stroke="#bdbdbd" stroke-width="2.0" stroke-linecap="round"/>
<line x1="203.2" y1="139.0" x2="206.1" y2="140.4" stroke="#2a2a2a" stroke-width="2.0" stroke-linecap="round"/>
<line x1="206.1" y1="140.4" x2="209.0" y2="141.8" stroke="#bdbdbd" stroke-width="2.0" stroke-linecap="round"/>
<line x1="203.2" y1="139.0" x2="202.2" y2="142.3" stroke="#2a2a2a" stroke-width="2.0" stroke-linecap="round"/>
<line x1="202.2" y1="142.3" x2="201.1" y2="145.6" stroke="#bdbdbd" stroke-width="2.0" stroke-linecap="round"/>
<line x1="203.2" y1="139.0" x2="199.5" y2="139.3" stroke="#2a2a2a" stroke-width="2.0" stroke-linecap="round"/>
<line x1="199.5" y1="139.3" x2="195.8" y2="139.6" stroke="#bdbdbd" stroke-width="2.0" stroke-linecap="round"/>
<line x1="204.2" y1="125.6" x2="208.2" y2="123.6" stroke="#cccc28" stroke-width="2.4" stroke-linecap="round"/>
<line x1="208.2" y1="123.6" x2="212.2" y2="121.6" stroke="#2a2a2a" stroke-width="2.4" stroke-linecap="round"/>
<line x1="204.2" y1="125.6" x2="203.7" y2="132.3" stroke="#cccc28" stroke-width="2.4" stroke-linecap="round"/>
<line x1="203.7" y1="132.3" x2="203.2" y2="139.0" stroke="#2a2a2a" stroke-width="2.4" stroke-linecap="round"/>
<line x1="204.2" y1="125.6" x2="198.6" y2="123.6" stroke="#cccc28" stroke-width="2.4" stroke-linecap="round"/>
<line x1="198.6" y1="123.6" x2="193.1" y2="121.6" stroke="#e42020" stroke-width="2.4" stroke-linecap="round"/>
<line x1="262.0" y1="130.6" x2="262.7" y2="127.4" stroke="#2a2a2a" stroke-width="2.0" stroke-linecap="round"/>
<line x1="262.7" y1="127.4" x2="263.5" y2="124.1" stroke="#bdbdbd" stroke-width="2.0" stroke-linecap="round"/>
<line x1="262.0" y1="130.6" x2="265.5" y2="131.4" stroke="#2a2a2a" stroke-width="2.0" stroke-linecap="round"/>
<line x1="265.5" y1="131.4" x2="269.0" y2="132.3" stroke="#bdbdbd" stroke-width="2.0" stroke-linecap="round"/>
<line x1="262.0" y1="130.6" x2="263.5" y2="133.1" stroke="#2a2a2a" stroke-width="2.0" stroke-linecap="round"/>
<line x1="263.5" y1="133.1" x2="264.9" y2="135.5" stroke="#bdbdbd" stroke-width="2.0" stroke-linecap="round"/>
<line x1="243.4" y1="141.0" x2="245.6" y2="142.8" stroke="#2a2a2a" stroke-width="2.0" stroke-linecap="round"/>
<line x1="245.6" y1="142.8" x2="247.8" y2="144.6" stroke="#bdbdbd" stroke-width="2.0" stroke-linecap="round"/>
<line x1="243.4" y1="141.0" x2="242.8" y2="143.7" stroke="#2a2a2a" stroke-width="2.0" stroke-linecap="round"/>
<line x1="242.8" y1="143.7" x2="242.1" y2="146.5" stroke="#bdbdbd" stroke-width="2.0" stroke-linecap="round"/>
<line x1="243.4" y1="141.0" x2="239.9" y2="140.6" stroke="#2a2a2a" stroke-width="2.0" stroke-linecap="round"/>
<line x1="239.9" y1="140.6" x2="236.4" y2="140.2" stroke="#bdbdbd" stroke-width="2.0" stroke-linecap="round"/>
<line x1="247.4" y1="130.6" x2="254.7" y2="130.6" stroke="#cccc28" stroke-width="2.4" stroke-linecap="round"/>
<line x1="254.7" y1="130.6" x2="262.0" y2="130.6" stroke="#2a2a2a" stroke-width="2.4" stroke-linecap="round"/>
<line x1="247.4" y1="130.6" x2="245.4" y2="135.8" stroke="#cccc28" stroke-width="2.4" stroke-linecap="round"/>
<line x1="245.4" y1="135.8" x2="243.4" y2="141.0" stroke="#2a2a2a" stroke-width="2.4" stroke-linecap="round"/>
<line x1="247.4" y1="130.6" x2="246.4" y2="124.6" stroke="#cccc28" stroke-width="2.4" stroke-linecap="round"/>
<line x1="246.4" y1="124.6" x2="245.4" y2="118.6" stroke="#e42020" stroke-width="2.4" stroke-linecap="round"/>
<line x1="280.0" y1="117.6" x2="278.1" y2="119.8" stroke="#2a2a2a" stroke-width="2.0" stroke-linecap="round"/>
<line x1="278.1" y1="119.8" x2="276.2" y2="122.0" stroke="#bdbdbd" stroke-width="2.0" stroke-linecap="round"/>
<line x1="280.0" y1="117.6" x2="276.7" y2="116.7" stroke="#2a2a2a" stroke-width="2.0" stroke-linecap="round"/>
<line x1="276.7" y1="116.7" x2="273.4" y2="115.8" stroke="#bdbdbd" stroke-width="2.0" stroke-linecap="round"/>
<line x1="280.0" y1="117.6" x2="278.7" y2="114.2" stroke="#2a2a2a" stroke-width="2.0" stroke-linecap="round"/>
<line x1="278.7" y1="114.2" x2="277.3" y2="110.9" stroke="#bdbdbd" stroke-width="2.0" stroke-linecap="round"/>
<line x1="295.7" y1="131.0" x2="298.5" y2="132.0" stroke="#2a2a2a" stroke-width="2.0" stroke-linecap="round"/>
<line x1="298.5" y1="132.0" x2="301.3" y2="133.0" stroke="#bdbdbd" stroke-width="2.0" stroke-linecap="round"/>
<line x1="295.7" y1="131.0" x2="295.8" y2="134.1" stroke="#2a2a2a" stroke-width="2.0" stroke-linecap="round"/>
<line x1="295.8" y1="134.1" x2="295.8" y2="137.3" stroke="#bdbdbd" stroke-width="2.0" stroke-linecap="round"/>
<line x1="295.7" y1="131.0" x2="292.6" y2="133.2" stroke="#2a2a2a" stroke-width="2.0" stroke-linecap="round"/>
<line x1="292.6" y1="133.2" x2="289.6" y2="135.3" stroke="#bdbdbd" stroke-width="2.0" stroke-linecap="round"/>
<line x1="292.7" y1="119.6" x2="286.4" y2="118.6" stroke="#cccc28" stroke-width="2.4" stroke-linecap="round"/>
<line x1="286.4" y1="118.6" x2="280.0" y2="117.6" stroke="#2a2a2a" stroke-width="2.4" stroke-linecap="round"/>
<line x1="292.7" y1="119.6" x2="294.2" y2="125.3" stroke="#cccc28" stroke-width="2.4" stroke-linecap="round"/>
<line x1="294.2" y1="125.3" x2="295.7" y2="131.0" stroke="#2a2a2a" stroke-width="2.4" stroke-linecap="round"/>
<line x1="292.7" y1="119.6" x2="295.2" y2="114.0" stroke="#cccc28" stroke-width="2.4" stroke-linecap="round"/>
<line x1="295.2" y1="114.0" x2="297.7" y2="108.5" stroke="#e42020" stroke-width="2.4" stroke-linecap="round"/>
<line x1="193.1" y1="147.7" x2="191.5" y2="150.5" stroke="#2a2a2a" stroke-width="2.0" stroke-linecap="round"/>
<line x1="191.5" y1="150.5" x2="189.9" y2="153.4" stroke="#bdbdbd" stroke-width="2.0" stroke-linecap="round"/>
<line x1="193.1" y1="147.7" x2="190.2" y2="147.3" stroke="#2a2a2a" stroke-width="2.0" stroke-linecap="round"/>
<line x1="190.2" y1="147.3" x2="187.3" y2="147.0" stroke="#bdbdbd" stroke-width="2.0" stroke-linecap="round"/>
<line x1="193.1" y1="147.7" x2="192.3" y2="144.3" stroke="#2a2a2a" stroke-width="2.0" stroke-linecap="round"/>
<line x1="192.3" y1="144.3" x2="191.5" y2="141.0" stroke="#bdbdbd" stroke-width="2.0" stroke-linecap="round"/>
<line x1="195.9" y1="141.7" x2="193.2" y2="143.7" stroke="#2a2a2a" stroke-width="2.0" stroke-linecap="round"/>
<line x1="193.2" y1="143.7" x2="190.6" y2="145.6" stroke="#bdbdbd" stroke-width="2.0" stroke-linecap="round"/>
<line x1="195.9" y1="141.7" x2="194.0" y2="139.7" stroke="#2a2a2a" stroke-width="2.0" stroke-linecap="round"/>
<line x1="194.0" y1="139.7" x2="192.1" y2="137.7" stroke="#bdbdbd" stroke-width="2.0" stroke-linecap="round"/>
<line x1="195.9" y1="141.7" x2="197.2" y2="138.6" stroke="#2a2a2a" stroke-width="2.0" stroke-linecap="round"/>
<line x1="197.2" y1="138.6" x2="198.5" y2="135.5" stroke="#bdbdbd" stroke-width="2.0" stroke-linecap="round"/>
<line x1="203.2" y1="149.8" x2="198.1" y2="148.8" stroke="#cccc28" stroke-width="2.4" stroke-linecap="round"/>
<line x1="198.1" y1="148.8" x2="193.1" y2="147.7" stroke="#2a2a2a" stroke-width="2.4" stroke-linecap="round"/>
<line x1="203.2" y1="149.8" x2="199.5" y2="145.8" stroke="#cccc28" stroke-width="2.4" stroke-linecap="round"/>
<line x1="199.5" y1="145.8" x2="195.9" y2="141.7" stroke="#2a2a2a" stroke-width="2.4" stroke-linecap="round"/>
<line x1="203.2" y1="149.8" x2="207.5" y2="147.3" stroke="#cccc28" stroke-width="2.4" stroke-linecap="round"/>
<line x1="207.5" y1="147.3" x2="211.8" y2="144.7" stroke="#e42020" stroke-width="2.4" stroke-linecap="round"/>
<line x1="229.3" y1="147.0" x2="226.7" y2="146.0" stroke="#2a2a2a" stroke-width="2.0" stroke-linecap="round"/>
<line x1="226.7" y1="146.0" x2="224.0" y2="145.0" stroke="#bdbdbd" stroke-width="2.0" stroke-linecap="round"/>
<line x1="229.3" y1="147.0" x2="230.2" y2="143.6" stroke="#2a2a2a" stroke-width="2.0" stroke-linecap="round"/>
<line x1="230.2" y1="143.6" x2="231.1" y2="140.2" stroke="#bdbdbd" stroke-width="2.0" stroke-linecap="round"/>
<line x1="229.3" y1="147.0" x2="232.1" y2="146.7" stroke="#2a2a2a" stroke-width="2.0" stroke-linecap="round"/>
<line x1="232.1" y1="146.7" x2="235.0" y2="146.4" stroke="#bdbdbd" stroke-width="2.0" stroke-linecap="round"/>
<line x1="224.3" y1="170.0" x2="226.5" y2="171.8" stroke="#2a2a2a" stroke-width="2.0" stroke-linecap="round"/>
<line x1="226.5" y1="171.8" x2="228.6" y2="173.5" stroke="#bdbdbd" stroke-width="2.0" stroke-linecap="round"/>
<line x1="224.3" y1="170.0" x2="222.6" y2="172.5" stroke="#2a2a2a" stroke-width="2.0" stroke-linecap="round"/>
<line x1="222.6" y1="172.5" x2="220.9" y2="175.0" stroke="#bdbdbd" stroke-width="2.0" stroke-linecap="round"/>
<line x1="224.3" y1="170.0" x2="221.1" y2="170.3" stroke="#2a2a2a" stroke-width="2.0" stroke-linecap="round"/>
<line x1="221.1" y1="170.3" x2="218.0" y2="170.6" stroke="#bdbdbd" stroke-width="2.0" stroke-linecap="round"/>
<line x1="229.3" y1="159.8" x2="229.3" y2="153.4" stroke="#cccc28" stroke-width="2.4" stroke-linecap="round"/>
<line x1="229.3" y1="153.4" x2="229.3" y2="147.0" stroke="#2a2a2a" stroke-width="2.4" stroke-linecap="round"/>
<line x1="229.3" y1="159.8" x2="226.8" y2="164.9" stroke="#cccc28" stroke-width="2.4" stroke-linecap="round"/>
<line x1="226.8" y1="164.9" x2="224.3" y2="170.0" stroke="#2a2a2a" stroke-width="2.4" stroke-linecap="round"/>
<line x1="229.3" y1="159.8" x2="224.8" y2="160.8" stroke="#cccc28" stroke-width="2.4" stroke-linecap="round"/>
<line x1="224.8" y1="160.8" x2="220.3" y2="161.8" stroke="#e42020" stroke-width="2.4" stroke-linecap="round"/>
<line x1="252.4" y1="163.8" x2="252.8" y2="166.7" stroke="#2a2a2a" stroke-width="2.0" stroke-linecap="round"/>
<line x1="252.8" y1="166.7" x2="253.3" y2="169.5" stroke="#bdbdbd" stroke-width="2.0" stroke-linecap="round"/>
<line x1="252.4" y1="163.8" x2="249.1" y2="164.3" stroke="#2a2a2a" stroke-width="2.0" stroke-linecap="round"/>
<line x1="249.1" y1="164.3" x2="245.8" y2="164.8" stroke="#bdbdbd" stroke-width="2.0" stroke-linecap="round"/>
<line x1="252.4" y1="163.8" x2="250.7" y2="161.5" stroke="#2a2a2a" stroke-width="2.0" stroke-linecap="round"/>
<line x1="250.7" y1="161.5" x2="249.1" y2="159.2" stroke="#bdbdbd" stroke-width="2.0" stroke-linecap="round"/>
<line x1="268.7" y1="148.9" x2="265.9" y2="146.8" stroke="#2a2a2a" stroke-width="2.0" stroke-linecap="round"/>
<line x1="265.9" y1="146.8" x2="263.1" y2="144.8" stroke="#bdbdbd" stroke-width="2.0" stroke-linecap="round"/>
<line x1="268.7" y1="148.9" x2="270.0" y2="146.4" stroke="#2a2a2a" stroke-width="2.0" stroke-linecap="round"/>
<line x1="270.0" y1="146.4" x2="271.2" y2="143.8" stroke="#bdbdbd" stroke-width="2.0" stroke-linecap="round"/>
<line x1="268.7" y1="148.9" x2="271.8" y2="150.2" stroke="#2a2a2a" stroke-width="2.0" stroke-linecap="round"/>
<line x1="271.8" y1="150.2" x2="274.9" y2="151.5" stroke="#bdbdbd" stroke-width="2.0" stroke-linecap="round"/>
<line x1="262.5" y1="159.8" x2="257.4" y2="161.8" stroke="#cccc28" stroke-width="2.4" stroke-linecap="round"/>
<line x1="257.4" y1="161.8" x2="252.4" y2="163.8" stroke="#2a2a2a" stroke-width="2.4" stroke-linecap="round"/>
<line x1="262.5" y1="159.8" x2="265.6" y2="154.3" stroke="#cccc28" stroke-width="2.4" stroke-linecap="round"/>
<line x1="265.6" y1="154.3" x2="268.7" y2="148.9" stroke="#2a2a2a" stroke-width="2.4" stroke-linecap="round"/>
<line x1="262.5" y1="159.8" x2="267.1" y2="163.4" stroke="#cccc28" stroke-width="2.4" stroke-linecap="round"/>
<line x1="267.1" y1="163.4" x2="271.6" y2="166.9" stroke="#e42020" stroke-width="2.4" stroke-linecap="round"/>
<line x1="298.3" y1="157.7" x2="300.5" y2="155.6" stroke="#2a2a2a" stroke-width="2.0" stroke-linecap="round"/>
<line x1="300.5" y1="155.6" x2="302.7" y2="153.4" stroke="#bdbdbd" stroke-width="2.0" stroke-linecap="round"/>
<line x1="298.3" y1="157.7" x2="301.5" y2="159.5" stroke="#2a2a2a" stroke-width="2.0" stroke-linecap="round"/>
<line x1="301.5" y1="159.5" x2="304.7" y2="161.2" stroke="#bdbdbd" stroke-width="2.0" stroke-linecap="round"/>
<line x1="298.3" y1="157.7" x2="298.3" y2="160.6" stroke="#2a2a2a" stroke-width="2.0" stroke-linecap="round"/>
<line x1="298.3" y1="160.6" x2="298.3" y2="163.5" stroke="#bdbdbd" stroke-width="2.0" stroke-linecap="round"/>
<line x1="275.4" y1="157.1" x2="275.6" y2="160.1" stroke="#2a2a2a" stroke-width="2.0" stroke-linecap="round"/>
<line x1="275.6" y1="160.1" x2="275.7" y2="163.1" stroke="#bdbdbd" stroke-width="2.0" stroke-linecap="round"/>
<line x1="275.4" y1="157.1" x2="273.0" y2="158.8" stroke="#2a2a2a" stroke-width="2.0" stroke-linecap="round"/>
<line x1="273.0" y1="158.8" x2="270.7" y2="160.5" stroke="#bdbdbd" stroke-width="2.0" stroke-linecap="round"/>
<line x1="275.4" y1="157.1" x2="272.9" y2="155.5" stroke="#2a2a2a" stroke-width="2.0" stroke-linecap="round"/>
<line x1="272.9" y1="155.5" x2="270.5" y2="153.9" stroke="#bdbdbd" stroke-width="2.0" stroke-linecap="round"/>
<line x1="287.0" y1="152.0" x2="292.6" y2="154.9" stroke="#cccc28" stroke-width="2.4" stroke-linecap="round"/>
<line x1="292.6" y1="154.9" x2="298.3" y2="157.7" stroke="#2a2a2a" stroke-width="2.4" stroke-linecap="round"/>
<line x1="287.0" y1="152.0" x2="281.2" y2="154.5" stroke="#cccc28" stroke-width="2.4" stroke-linecap="round"/>
<line x1="281.2" y1="154.5" x2="275.4" y2="157.1" stroke="#2a2a2a" stroke-width="2.4" stroke-linecap="round"/>
<line x1="287.0" y1="152.0" x2="288.8" y2="146.5" stroke="#cccc28" stroke-width="2.4" stroke-linecap="round"/>
<line x1="288.8" y1="146.5" x2="290.7" y2="141.1" stroke="#e42020" stroke-width="2.4" stroke-linecap="round"/>
<line x1="283.1" y1="167.7" x2="283.1" y2="170.6" stroke="#2a2a2a" stroke-width="2.0" stroke-linecap="round"/>
<line x1="283.1" y1="170.6" x2="283.1" y2="173.5" stroke="#bdbdbd" stroke-width="2.0" stroke-linecap="round"/>
<line x1="283.1" y1="167.7" x2="280.6" y2="168.8" stroke="#2a2a2a" stroke-width="2.0" stroke-linecap="round"/>
<line x1="280.6" y1="168.8" x2="278.1" y2="170.0" stroke="#bdbdbd" stroke-width="2.0" stroke-linecap="round"/>
<line x1="283.1" y1="167.7" x2="281.1" y2="165.8" stroke="#2a2a2a" stroke-width="2.0" stroke-linecap="round"/>
<line x1="281.1" y1="165.8" x2="279.0" y2="163.9" stroke="#bdbdbd" stroke-width="2.0" stroke-linecap="round"/>
<line x1="300.6" y1="154.9" x2="299.2" y2="151.9" stroke="#2a2a2a" stroke-width="2.0" stroke-linecap="round"/>
<line x1="299.2" y1="151.9" x2="297.8" y2="149.0" stroke="#bdbdbd" stroke-width="2.0" stroke-linecap="round"/>
<line x1="300.6" y1="154.9" x2="302.1" y2="152.1" stroke="#2a2a2a" stroke-width="2.0" stroke-linecap="round"/>
<line x1="302.1" y1="152.1" x2="303.7" y2="149.3" stroke="#bdbdbd" stroke-width="2.0" stroke-linecap="round"/>
<line x1="300.6" y1="154.9" x2="303.0" y2="156.4" stroke="#2a2a2a" stroke-width="2.0" stroke-linecap="round"/>
<line x1="303.0" y1="156.4" x2="305.5" y2="157.9" stroke="#bdbdbd" stroke-width="2.0" stroke-linecap="round"/>
<line x1="293.7" y1="163.8" x2="288.4" y2="165.7" stroke="#cccc28" stroke-width="2.4" stroke-linecap="round"/>
<line x1="288.4" y1="165.7" x2="283.1" y2="167.7" stroke="#2a2a2a" stroke-width="2.4" stroke-linecap="round"/>
<line x1="293.7" y1="163.8" x2="297.1" y2="159.4" stroke="#cccc28" stroke-width="2.4" stroke-linecap="round"/>
<line x1="297.1" y1="159.4" x2="300.6" y2="154.9" stroke="#2a2a2a" stroke-width="2.4" stroke-linecap="round"/>
<line x1="293.7" y1="163.8" x2="297.2" y2="168.4" stroke="#cccc28" stroke-width="2.4" stroke-linecap="round"/>
<line x1="297.2" y1="168.4" x2="300.7" y2="172.9" stroke="#e42020" stroke-width="2.4" stroke-linecap="round"/>
<line x1="192.8" y1="175.1" x2="195.7" y2="176.7" stroke="#2a2a2a" stroke-width="2.0" stroke-linecap="round"/>
<line x1="195.7" y1="176.7" x2="198.5" y2="178.2" stroke="#bdbdbd" stroke-width="2.0" stroke-linecap="round"/>
<line x1="192.8" y1="175.1" x2="191.7" y2="178.7" stroke="#2a2a2a" stroke-width="2.0" stroke-linecap="round"/>
<line x1="191.7" y1="178.7" x2="190.6" y2="182.3" stroke="#bdbdbd" stroke-width="2.0" stroke-linecap="round"/>
<line x1="192.8" y1="175.1" x2="189.3" y2="176.0" stroke="#2a2a2a" stroke-width="2.0" stroke-linecap="round"/>
<line x1="189.3" y1="176.0" x2="185.8" y2="176.8" stroke="#bdbdbd" stroke-width="2.0" stroke-linecap="round"/>
<line x1="185.3" y1="156.0" x2="182.2" y2="157.4" stroke="#2a2a2a" stroke-width="2.0" stroke-linecap="round"/>
<line x1="182.2" y1="157.4" x2="179.1" y2="158.9" stroke="#bdbdbd" stroke-width="2.0" stroke-linecap="round"/>
<line x1="185.3" y1="156.0" x2="182.7" y2="154.2" stroke="#2a2a2a" stroke-width="2.0" stroke-linecap="round"/>
<line x1="182.7" y1="154.2" x2="180.2" y2="152.3" stroke="#bdbdbd" stroke-width="2.0" stroke-linecap="round"/>
<line x1="185.3" y1="156.0" x2="185.5" y2="153.1" stroke="#2a2a2a" stroke-width="2.0" stroke-linecap="round"/>
<line x1="185.5" y1="153.1" x2="185.8" y2="150.2" stroke="#bdbdbd" stroke-width="2.0" stroke-linecap="round"/>
<line x1="195.1" y1="163.8" x2="193.9" y2="169.5" stroke="#cccc28" stroke-width="2.4" stroke-linecap="round"/>
<line x1="193.9" y1="169.5" x2="192.8" y2="175.1" stroke="#2a2a2a" stroke-width="2.4" stroke-linecap="round"/>
<line x1="195.1" y1="163.8" x2="190.2" y2="159.9" stroke="#cccc28" stroke-width="2.4" stroke-linecap="round"/>
<line x1="190.2" y1="159.9" x2="185.3" y2="156.0" stroke="#2a2a2a" stroke-width="2.4" stroke-linecap="round"/>
<line x1="195.1" y1="163.8" x2="199.1" y2="161.8" stroke="#cccc28" stroke-width="2.4" stroke-linecap="round"/>
<line x1="199.1" y1="161.8" x2="203.2" y2="159.8" stroke="#e42020" stroke-width="2.4" stroke-linecap="round"/>
<line x1="108.8" y1="174.0" x2="106.5" y2="171.2" stroke="#2a2a2a" stroke-width="2.0" stroke-linecap="round"/>
<line x1="106.5" y1="171.2" x2="104.3" y2="168.4" stroke="#bdbdbd" stroke-width="2.0" stroke-linecap="round"/>
<line x1="108.8" y1="174.0" x2="111.6" y2="172.0" stroke="#2a2a2a" stroke-width="2.0" stroke-linecap="round"/>
<line x1="111.6" y1="172.0" x2="114.4" y2="170.0" stroke="#bdbdbd" stroke-width="2.0" stroke-linecap="round"/>
<line x1="108.8" y1="174.0" x2="111.6" y2="174.9" stroke="#2a2a2a" stroke-width="2.0" stroke-linecap="round"/>
<line x1="111.6" y1="174.9" x2="114.5" y2="175.8" stroke="#bdbdbd" stroke-width="2.0" stroke-linecap="round"/>
<line x1="100.2" y1="193.9" x2="103.3" y2="194.7" stroke="#2a2a2a" stroke-width="2.0" stroke-linecap="round"/>
<line x1="103.3" y1="194.7" x2="106.4" y2="195.5" stroke="#bdbdbd" stroke-width="2.0" stroke-linecap="round"/>
<line x1="100.2" y1="193.9" x2="100.7" y2="197.1" stroke="#2a2a2a" stroke-width="2.0" stroke-linecap="round"/>
<line x1="100.7" y1="197.1" x2="101.2" y2="200.2" stroke="#bdbdbd" stroke-width="2.0" stroke-linecap="round"/>
<line x1="100.2" y1="193.9" x2="96.8" y2="195.6" stroke="#2a2a2a" stroke-width="2.0" stroke-linecap="round"/>
<line x1="96.8" y1="195.6" x2="93.5" y2="197.2" stroke="#bdbdbd" stroke-width="2.0" stroke-linecap="round"/>
<line x1="100.3" y1="183.0" x2="104.5" y2="178.5" stroke="#cccc28" stroke-width="2.4" stroke-linecap="round"/>
<line x1="104.5" y1="178.5" x2="108.8" y2="174.0" stroke="#2a2a2a" stroke-width="2.4" stroke-linecap="round"/>
<line x1="100.3" y1="183.0" x2="100.2" y2="188.5" stroke="#cccc28" stroke-width="2.4" stroke-linecap="round"/>
<line x1="100.2" y1="188.5" x2="100.2" y2="193.9" stroke="#2a2a2a" stroke-width="2.4" stroke-linecap="round"/>
<line x1="100.3" y1="183.0" x2="96.2" y2="180.1" stroke="#cccc28" stroke-width="2.4" stroke-linecap="round"/>
<line x1="96.2" y1="180.1" x2="92.2" y2="177.2" stroke="#e42020" stroke-width="2.4" stroke-linecap="round"/>
<line x1="66.1" y1="189.0" x2="63.2" y2="189.7" stroke="#2a2a2a" stroke-width="2.0" stroke-linecap="round"/>
<line x1="63.2" y1="189.7" x2="60.3" y2="190.5" stroke="#bdbdbd" stroke-width="2.0" stroke-linecap="round"/>
<line x1="66.1" y1="189.0" x2="65.0" y2="186.2" stroke="#2a2a2a" stroke-width="2.0" stroke-linecap="round"/>
<line x1="65.0" y1="186.2" x2="63.8" y2="183.3" stroke="#bdbdbd" stroke-width="2.0" stroke-linecap="round"/>
<line x1="66.1" y1="189.0" x2="67.5" y2="186.6" stroke="#2a2a2a" stroke-width="2.0" stroke-linecap="round"/>
<line x1="67.5" y1="186.6" x2="68.8" y2="184.2" stroke="#bdbdbd" stroke-width="2.0" stroke-linecap="round"/>
<line x1="68.1" y1="212.2" x2="70.4" y2="214.4" stroke="#2a2a2a" stroke-width="2.0" stroke-linecap="round"/>
<line x1="70.4" y1="214.4" x2="72.8" y2="216.6" stroke="#bdbdbd" stroke-width="2.0" stroke-linecap="round"/>
<line x1="68.1" y1="212.2" x2="66.8" y2="214.8" stroke="#2a2a2a" stroke-width="2.0" stroke-linecap="round"/>
<line x1="66.8" y1="214.8" x2="65.4" y2="217.5" stroke="#bdbdbd" stroke-width="2.0" stroke-linecap="round"/>
<line x1="68.1" y1="212.2" x2="65.4" y2="211.9" stroke="#2a2a2a" stroke-width="2.0" stroke-linecap="round"/>
<line x1="65.4" y1="211.9" x2="62.6" y2="211.5" stroke="#bdbdbd" stroke-width="2.0" stroke-linecap="round"/>
<line x1="74.2" y1="200.2" x2="70.2" y2="194.6" stroke="#cccc28" stroke-width="2.4" stroke-linecap="round"/>
<line x1="70.2" y1="194.6" x2="66.1" y2="189.0" stroke="#2a2a2a" stroke-width="2.4" stroke-linecap="round"/>
<line x1="74.2" y1="200.2" x2="71.2" y2="206.2" stroke="#cccc28" stroke-width="2.4" stroke-linecap="round"/>
<line x1="71.2" y1="206.2" x2="68.1" y2="212.2" stroke="#2a2a2a" stroke-width="2.4" stroke-linecap="round"/>
<line x1="74.2" y1="200.2" x2="79.9" y2="199.2" stroke="#cccc28" stroke-width="2.4" stroke-linecap="round"/>
<line x1="79.9" y1="199.2" x2="85.5" y2="198.2" stroke="#e42020" stroke-width="2.4" stroke-linecap="round"/>
<line x1="91.3" y1="210.0" x2="88.8" y2="208.6" stroke="#2a2a2a" stroke-width="2.0" stroke-linecap="round"/>
<line x1="88.8" y1="208.6" x2="86.4" y2="207.2" stroke="#bdbdbd" stroke-width="2.0" stroke-linecap="round"/>
<line x1="91.3" y1="210.0" x2="92.0" y2="207.3" stroke="#2a2a2a" stroke-width="2.0" stroke-linecap="round"/>
<line x1="92.0" y1="207.3" x2="92.7" y2="204.6" stroke="#bdbdbd" stroke-width="2.0" stroke-linecap="round"/>
<line x1="91.3" y1="210.0" x2="94.2" y2="209.1" stroke="#2a2a2a" stroke-width="2.0" stroke-linecap="round"/>
<line x1="94.2" y1="209.1" x2="97.1" y2="208.2" stroke="#bdbdbd" stroke-width="2.0" stroke-linecap="round"/>
<line x1="79.0" y1="216.0" x2="76.3" y2="218.0" stroke="#2a2a2a" stroke-width="2.0" stroke-linecap="round"/>
<line x1="76.3" y1="218.0" x2="73.6" y2="220.0" stroke="#bdbdbd" stroke-width="2.0" stroke-linecap="round"/>
<line x1="79.0" y1="216.0" x2="76.4" y2="213.6" stroke="#2a2a2a" stroke-width="2.0" stroke-linecap="round"/>
<line x1="76.4" y1="213.6" x2="73.8" y2="211.3" stroke="#bdbdbd" stroke-width="2.0" stroke-linecap="round"/>
<line x1="79.0" y1="216.0" x2="80.5" y2="212.9" stroke="#2a2a2a" stroke-width="2.0" stroke-linecap="round"/>
<line x1="80.5" y1="212.9" x2="82.1" y2="209.8" stroke="#bdbdbd" stroke-width="2.0" stroke-linecap="round"/>
<line x1="87.2" y1="223.3" x2="89.2" y2="216.7" stroke="#cccc28" stroke-width="2.4" stroke-linecap="round"/>
<line x1="89.2" y1="216.7" x2="91.3" y2="210.0" stroke="#2a2a2a" stroke-width="2.4" stroke-linecap="round"/>
<line x1="87.2" y1="223.3" x2="83.1" y2="219.7" stroke="#cccc28" stroke-width="2.4" stroke-linecap="round"/>
<line x1="83.1" y1="219.7" x2="79.0" y2="216.0" stroke="#2a2a2a" stroke-width="2.4" stroke-linecap="round"/>
<line x1="87.2" y1="223.3" x2="80.7" y2="225.5" stroke="#cccc28" stroke-width="2.4" stroke-linecap="round"/>
<line x1="80.7" y1="225.5" x2="74.2" y2="227.7" stroke="#e42020" stroke-width="2.4" stroke-linecap="round"/>
<line x1="115.4" y1="205.2" x2="115.8" y2="202.1" stroke="#2a2a2a" stroke-width="2.0" stroke-linecap="round"/>
<line x1="115.8" y1="202.1" x2="116.2" y2="199.0" stroke="#bdbdbd" stroke-width="2.0" stroke-linecap="round"/>
<line x1="115.4" y1="205.2" x2="118.6" y2="203.4" stroke="#2a2a2a" stroke-width="2.0" stroke-linecap="round"/>
<line x1="118.6" y1="203.4" x2="121.9" y2="201.5" stroke="#bdbdbd" stroke-width="2.0" stroke-linecap="round"/>
<line x1="115.4" y1="205.2" x2="118.2" y2="207.2" stroke="#2a2a2a" stroke-width="2.0" stroke-linecap="round"/>
<line x1="118.2" y1="207.2" x2="121.1" y2="209.2" stroke="#bdbdbd" stroke-width="2.0" stroke-linecap="round"/>
<line x1="108.4" y1="199.1" x2="106.4" y2="197.2" stroke="#2a2a2a" stroke-width="2.0" stroke-linecap="round"/>
<line x1="106.4" y1="197.2" x2="104.4" y2="195.2" stroke="#bdbdbd" stroke-width="2.0" stroke-linecap="round"/>
<line x1="108.4" y1="199.1" x2="110.2" y2="195.9" stroke="#2a2a2a" stroke-width="2.0" stroke-linecap="round"/>
<line x1="110.2" y1="195.9" x2="112.0" y2="192.8" stroke="#bdbdbd" stroke-width="2.0" stroke-linecap="round"/>
<line x1="108.4" y1="199.1" x2="111.9" y2="199.3" stroke="#2a2a2a" stroke-width="2.0" stroke-linecap="round"/>
<line x1="111.9" y1="199.3" x2="115.4" y2="199.5" stroke="#bdbdbd" stroke-width="2.0" stroke-linecap="round"/>
<line x1="104.4" y1="210.2" x2="109.9" y2="207.7" stroke="#cccc28" stroke-width="2.4" stroke-linecap="round"/>
<line x1="109.9" y1="207.7" x2="115.4" y2="205.2" stroke="#2a2a2a" stroke-width="2.4" stroke-linecap="round"/>
<line x1="104.4" y1="210.2" x2="106.4" y2="204.6" stroke="#cccc28" stroke-width="2.4" stroke-linecap="round"/>
<line x1="106.4" y1="204.6" x2="108.4" y2="199.1" stroke="#2a2a2a" stroke-width="2.4" stroke-linecap="round"/>
<line x1="104.4" y1="210.2" x2="101.8" y2="215.8" stroke="#cccc28" stroke-width="2.4" stroke-linecap="round"/>
<line x1="101.8" y1="215.8" x2="99.3" y2="221.3" stroke="#e42020" stroke-width="2.4" stroke-linecap="round"/>
<line x1="110.1" y1="213.2" x2="111.2" y2="216.6" stroke="#2a2a2a" stroke-width="2.0" stroke-linecap="round"/>
<line x1="111.2" y1="216.6" x2="112.3" y2="220.0" stroke="#bdbdbd" stroke-width="2.0" stroke-linecap="round"/>
<line x1="110.1" y1="213.2" x2="107.5" y2="215.3" stroke="#2a2a2a" stroke-width="2.0" stroke-linecap="round"/>
<line x1="107.5" y1="215.3" x2="104.9" y2="217.3" stroke="#bdbdbd" stroke-width="2.0" stroke-linecap="round"/>
<line x1="110.1" y1="213.2" x2="107.3" y2="211.3" stroke="#2a2a2a" stroke-width="2.0" stroke-linecap="round"/>
<line x1="107.3" y1="211.3" x2="104.4" y2="209.4" stroke="#bdbdbd" stroke-width="2.0" stroke-linecap="round"/>
<line x1="113.5" y1="194.1" x2="110.5" y2="193.8" stroke="#2a2a2a" stroke-width="2.0" stroke-linecap="round"/>
<line x1="110.5" y1="193.8" x2="107.6" y2="193.4" stroke="#bdbdbd" stroke-width="2.0" stroke-linecap="round"/>
<line x1="113.5" y1="194.1" x2="111.9" y2="191.7" stroke="#2a2a2a" stroke-width="2.0" stroke-linecap="round"/>
<line x1="111.9" y1="191.7" x2="110.3" y2="189.3" stroke="#bdbdbd" stroke-width="2.0" stroke-linecap="round"/>
<line x1="113.5" y1="194.1" x2="115.6" y2="192.1" stroke="#2a2a2a" stroke-width="2.0" stroke-linecap="round"/>
<line x1="115.6" y1="192.1" x2="117.6" y2="190.2" stroke="#bdbdbd" stroke-width="2.0" stroke-linecap="round"/>
<line x1="117.4" y1="205.2" x2="113.8" y2="209.2" stroke="#cccc28" stroke-width="2.4" stroke-linecap="round"/>
<line x1="113.8" y1="209.2" x2="110.1" y2="213.2" stroke="#2a2a2a" stroke-width="2.4" stroke-linecap="round"/>
<line x1="117.4" y1="205.2" x2="115.5" y2="199.7" stroke="#cccc28" stroke-width="2.4" stroke-linecap="round"/>
<line x1="115.5" y1="199.7" x2="113.5" y2="194.1" stroke="#2a2a2a" stroke-width="2.4" stroke-linecap="round"/>
<line x1="117.4" y1="205.2" x2="123.5" y2="205.7" stroke="#cccc28" stroke-width="2.4" stroke-linecap="round"/>
<line x1="123.5" y1="205.7" x2="129.5" y2="206.2" stroke="#e42020" stroke-width="2.4" stroke-linecap="round"/>
<line x1="150.6" y1="219.3" x2="151.0" y2="216.0" stroke="#2a2a2a" stroke-width="2.0" stroke-linecap="round"/>
<line x1="151.0" y1="216.0" x2="151.5" y2="212.7" stroke="#bdbdbd" stroke-width="2.0" stroke-linecap="round"/>
<line x1="150.6" y1="219.3" x2="153.8" y2="218.2" stroke="#2a2a2a" stroke-width="2.0" stroke-linecap="round"/>
<line x1="153.8" y1="218.2" x2="157.0" y2="217.1" stroke="#bdbdbd" stroke-width="2.0" stroke-linecap="round"/>
<line x1="150.6" y1="219.3" x2="152.6" y2="221.9" stroke="#2a2a2a" stroke-width="2.0" stroke-linecap="round"/>
<line x1="152.6" y1="221.9" x2="154.5" y2="224.5" stroke="#bdbdbd" stroke-width="2.0" stroke-linecap="round"/>
<line x1="142.6" y1="233.0" x2="145.9" y2="231.8" stroke="#2a2a2a" stroke-width="2.0" stroke-linecap="round"/>
<line x1="145.9" y1="231.8" x2="149.3" y2="230.6" stroke="#bdbdbd" stroke-width="2.0" stroke-linecap="round"/>
<line x1="142.6" y1="233.0" x2="143.6" y2="236.1" stroke="#2a2a2a" stroke-width="2.0" stroke-linecap="round"/>
<line x1="143.6" y1="236.1" x2="144.5" y2="239.2" stroke="#bdbdbd" stroke-width="2.0" stroke-linecap="round"/>
<line x1="142.6" y1="233.0" x2="140.1" y2="235.4" stroke="#2a2a2a" stroke-width="2.0" stroke-linecap="round"/>
<line x1="140.1" y1="235.4" x2="137.7" y2="237.7" stroke="#bdbdbd" stroke-width="2.0" stroke-linecap="round"/>
<line x1="138.6" y1="224.3" x2="144.6" y2="221.8" stroke="#cccc28" stroke-width="2.4" stroke-linecap="round"/>
<line x1="144.6" y1="221.8" x2="150.6" y2="219.3" stroke="#2a2a2a" stroke-width="2.4" stroke-linecap="round"/>
<line x1="138.6" y1="224.3" x2="140.6" y2="228.7" stroke="#cccc28" stroke-width="2.4" stroke-linecap="round"/>
<line x1="140.6" y1="228.7" x2="142.6" y2="233.0" stroke="#2a2a2a" stroke-width="2.4" stroke-linecap="round"/>
<line x1="138.6" y1="224.3" x2="136.1" y2="229.9" stroke="#cccc28" stroke-width="2.4" stroke-linecap="round"/>
<line x1="136.1" y1="229.9" x2="133.5" y2="235.4" stroke="#e42020" stroke-width="2.4" stroke-linecap="round"/>
<line x1="65.0" y1="243.4" x2="64.6" y2="246.9" stroke="#2a2a2a" stroke-width="2.0" stroke-linecap="round"/>
<line x1="64.6" y1="246.9" x2="64.2" y2="250.3" stroke="#bdbdbd" stroke-width="2.0" stroke-linecap="round"/>
<line x1="65.0" y1="243.4" x2="62.2" y2="243.8" stroke="#2a2a2a" stroke-width="2.0" stroke-linecap="round"/>
<line x1="62.2" y1="243.8" x2="59.4" y2="244.1" stroke="#bdbdbd" stroke-width="2.0" stroke-linecap="round"/>
<line x1="65.0" y1="243.4" x2="63.4" y2="240.3" stroke="#2a2a2a" stroke-width="2.0" stroke-linecap="round"/>
<line x1="63.4" y1="240.3" x2="61.8" y2="237.2" stroke="#bdbdbd" stroke-width="2.0" stroke-linecap="round"/>
<line x1="78.2" y1="257.0" x2="81.7" y2="257.4" stroke="#2a2a2a" stroke-width="2.0" stroke-linecap="round"/>
<line x1="81.7" y1="257.4" x2="85.1" y2="257.8" stroke="#bdbdbd" stroke-width="2.0" stroke-linecap="round"/>
<line x1="78.2" y1="257.0" x2="77.6" y2="260.2" stroke="#2a2a2a" stroke-width="2.0" stroke-linecap="round"/>
<line x1="77.6" y1="260.2" x2="77.1" y2="263.4" stroke="#bdbdbd" stroke-width="2.0" stroke-linecap="round"/>
<line x1="78.2" y1="257.0" x2="75.3" y2="258.5" stroke="#2a2a2a" stroke-width="2.0" stroke-linecap="round"/>
<line x1="75.3" y1="258.5" x2="72.5" y2="260.0" stroke="#bdbdbd" stroke-width="2.0" stroke-linecap="round"/>
<line x1="77.2" y1="243.4" x2="71.1" y2="243.4" stroke="#cccc28" stroke-width="2.4" stroke-linecap="round"/>
<line x1="71.1" y1="243.4" x2="65.0" y2="243.4" stroke="#2a2a2a" stroke-width="2.4" stroke-linecap="round"/>
<line x1="77.2" y1="243.4" x2="77.7" y2="250.2" stroke="#cccc28" stroke-width="2.4" stroke-linecap="round"/>
<line x1="77.7" y1="250.2" x2="78.2" y2="257.0" stroke="#2a2a2a" stroke-width="2.4" stroke-linecap="round"/>
<line x1="77.2" y1="243.4" x2="82.1" y2="242.6" stroke="#cccc28" stroke-width="2.4" stroke-linecap="round"/>
<line x1="82.1" y1="242.6" x2="87.1" y2="241.8" stroke="#e42020" stroke-width="2.4" stroke-linecap="round"/>
<line x1="114.4" y1="245.0" x2="113.2" y2="241.7" stroke="#2a2a2a" stroke-width="2.0" stroke-linecap="round"/>
<line x1="113.2" y1="241.7" x2="111.9" y2="238.4" stroke="#bdbdbd" stroke-width="2.0" stroke-linecap="round"/>
<line x1="114.4" y1="245.0" x2="116.9" y2="242.7" stroke="#2a2a2a" stroke-width="2.0" stroke-linecap="round"/>
<line x1="116.9" y1="242.7" x2="119.4" y2="240.4" stroke="#bdbdbd" stroke-width="2.0" stroke-linecap="round"/>
<line x1="114.4" y1="245.0" x2="117.2" y2="245.6" stroke="#2a2a2a" stroke-width="2.0" stroke-linecap="round"/>
<line x1="117.2" y1="245.6" x2="120.1" y2="246.1" stroke="#bdbdbd" stroke-width="2.0" stroke-linecap="round"/>
<line x1="92.3" y1="249.4" x2="89.8" y2="251.9" stroke="#2a2a2a" stroke-width="2.0" stroke-linecap="round"/>
<line x1="89.8" y1="251.9" x2="87.3" y2="254.3" stroke="#bdbdbd" stroke-width="2.0" stroke-linecap="round"/>
<line x1="92.3" y1="249.4" x2="89.3" y2="247.9" stroke="#2a2a2a" stroke-width="2.0" stroke-linecap="round"/>
<line x1="89.3" y1="247.9" x2="86.4" y2="246.4" stroke="#bdbdbd" stroke-width="2.0" stroke-linecap="round"/>
<line x1="92.3" y1="249.4" x2="92.2" y2="246.6" stroke="#2a2a2a" stroke-width="2.0" stroke-linecap="round"/>
<line x1="92.2" y1="246.6" x2="92.1" y2="243.8" stroke="#bdbdbd" stroke-width="2.0" stroke-linecap="round"/>
<line x1="103.3" y1="256.5" x2="108.8" y2="250.8" stroke="#cccc28" stroke-width="2.4" stroke-linecap="round"/>
<line x1="108.8" y1="250.8" x2="114.4" y2="245.0" stroke="#2a2a2a" stroke-width="2.4" stroke-linecap="round"/>
<line x1="103.3" y1="256.5" x2="97.8" y2="252.9" stroke="#cccc28" stroke-width="2.4" stroke-linecap="round"/>
<line x1="97.8" y1="252.9" x2="92.3" y2="249.4" stroke="#2a2a2a" stroke-width="2.4" stroke-linecap="round"/>
<line x1="103.3" y1="256.5" x2="98.4" y2="257.2" stroke="#cccc28" stroke-width="2.4" stroke-linecap="round"/>
<line x1="98.4" y1="257.2" x2="93.4" y2="257.9" stroke="#e42020" stroke-width="2.4" stroke-linecap="round"/>
<line x1="169.7" y1="245.0" x2="166.8" y2="243.2" stroke="#2a2a2a" stroke-width="2.0" stroke-linecap="round"/>
<line x1="166.8" y1="243.2" x2="163.8" y2="241.5" stroke="#bdbdbd" stroke-width="2.0" stroke-linecap="round"/>
<line x1="169.7" y1="245.0" x2="171.1" y2="241.9" stroke="#2a2a2a" stroke-width="2.0" stroke-linecap="round"/>
<line x1="171.1" y1="241.9" x2="172.4" y2="238.7" stroke="#bdbdbd" stroke-width="2.0" stroke-linecap="round"/>
<line x1="169.7" y1="245.0" x2="172.9" y2="244.5" stroke="#2a2a2a" stroke-width="2.0" stroke-linecap="round"/>
<line x1="172.9" y1="244.5" x2="176.2" y2="244.0" stroke="#bdbdbd" stroke-width="2.0" stroke-linecap="round"/>
<line x1="158.7" y1="251.5" x2="155.9" y2="253.1" stroke="#2a2a2a" stroke-width="2.0" stroke-linecap="round"/>
<line x1="155.9" y1="253.1" x2="153.2" y2="254.8" stroke="#bdbdbd" stroke-width="2.0" stroke-linecap="round"/>
<line x1="158.7" y1="251.5" x2="155.5" y2="249.7" stroke="#2a2a2a" stroke-width="2.0" stroke-linecap="round"/>
<line x1="155.5" y1="249.7" x2="152.3" y2="247.9" stroke="#bdbdbd" stroke-width="2.0" stroke-linecap="round"/>
<line x1="158.7" y1="251.5" x2="159.4" y2="247.8" stroke="#2a2a2a" stroke-width="2.0" stroke-linecap="round"/>
<line x1="159.4" y1="247.8" x2="160.2" y2="244.2" stroke="#bdbdbd" stroke-width="2.0" stroke-linecap="round"/>
<line x1="165.7" y1="257.5" x2="167.7" y2="251.2" stroke="#cccc28" stroke-width="2.4" stroke-linecap="round"/>
<line x1="167.7" y1="251.2" x2="169.7" y2="245.0" stroke="#2a2a2a" stroke-width="2.4" stroke-linecap="round"/>
<line x1="165.7" y1="257.5" x2="162.2" y2="254.5" stroke="#cccc28" stroke-width="2.4" stroke-linecap="round"/>
<line x1="162.2" y1="254.5" x2="158.7" y2="251.5" stroke="#2a2a2a" stroke-width="2.4" stroke-linecap="round"/>
<line x1="165.7" y1="257.5" x2="160.2" y2="259.5" stroke="#cccc28" stroke-width="2.4" stroke-linecap="round"/>
<line x1="160.2" y1="259.5" x2="154.7" y2="261.5" stroke="#e42020" stroke-width="2.4" stroke-linecap="round"/>
<line x1="145.6" y1="271.0" x2="144.5" y2="268.4" stroke="#2a2a2a" stroke-width="2.0" stroke-linecap="round"/>
<line x1="144.5" y1="268.4" x2="143.5" y2="265.9" stroke="#bdbdbd" stroke-width="2.0" stroke-linecap="round"/>
<line x1="145.6" y1="271.0" x2="147.6" y2="268.0" stroke="#2a2a2a" stroke-width="2.0" stroke-linecap="round"/>
<line x1="147.6" y1="268.0" x2="149.5" y2="265.0" stroke="#bdbdbd" stroke-width="2.0" stroke-linecap="round"/>
<line x1="145.6" y1="271.0" x2="148.4" y2="272.5" stroke="#2a2a2a" stroke-width="2.0" stroke-linecap="round"/>
<line x1="148.4" y1="272.5" x2="151.2" y2="274.1" stroke="#bdbdbd" stroke-width="2.0" stroke-linecap="round"/>
<line x1="126.0" y1="276.0" x2="124.0" y2="278.2" stroke="#2a2a2a" stroke-width="2.0" stroke-linecap="round"/>
<line x1="124.0" y1="278.2" x2="122.0" y2="280.4" stroke="#bdbdbd" stroke-width="2.0" stroke-linecap="round"/>
<line x1="126.0" y1="276.0" x2="123.8" y2="274.0" stroke="#2a2a2a" stroke-width="2.0" stroke-linecap="round"/>
<line x1="123.8" y1="274.0" x2="121.7" y2="272.0" stroke="#bdbdbd" stroke-width="2.0" stroke-linecap="round"/>
<line x1="126.0" y1="276.0" x2="126.6" y2="273.2" stroke="#2a2a2a" stroke-width="2.0" stroke-linecap="round"/>
<line x1="126.6" y1="273.2" x2="127.2" y2="270.3" stroke="#bdbdbd" stroke-width="2.0" stroke-linecap="round"/>
<line x1="137.6" y1="282.6" x2="141.6" y2="276.8" stroke="#cccc28" stroke-width="2.4" stroke-linecap="round"/>
<line x1="141.6" y1="276.8" x2="145.6" y2="271.0" stroke="#2a2a2a" stroke-width="2.4" stroke-linecap="round"/>
<line x1="137.6" y1="282.6" x2="131.8" y2="279.3" stroke="#cccc28" stroke-width="2.4" stroke-linecap="round"/>
<line x1="131.8" y1="279.3" x2="126.0" y2="276.0" stroke="#2a2a2a" stroke-width="2.4" stroke-linecap="round"/>
<line x1="137.6" y1="282.6" x2="133.1" y2="283.1" stroke="#cccc28" stroke-width="2.4" stroke-linecap="round"/>
<line x1="133.1" y1="283.1" x2="128.5" y2="283.7" stroke="#e42020" stroke-width="2.4" stroke-linecap="round"/>
<line x1="110.4" y1="275.0" x2="107.5" y2="272.7" stroke="#2a2a2a" stroke-width="2.0" stroke-linecap="round"/>
<line x1="107.5" y1="272.7" x2="104.6" y2="270.4" stroke="#bdbdbd" stroke-width="2.0" stroke-linecap="round"/>
<line x1="110.4" y1="275.0" x2="110.8" y2="271.5" stroke="#2a2a2a" stroke-width="2.0" stroke-linecap="round"/>
<line x1="110.8" y1="271.5" x2="111.2" y2="267.9" stroke="#bdbdbd" stroke-width="2.0" stroke-linecap="round"/>
<line x1="110.4" y1="275.0" x2="114.0" y2="274.9" stroke="#2a2a2a" stroke-width="2.0" stroke-linecap="round"/>
<line x1="114.0" y1="274.9" x2="117.7" y2="274.7" stroke="#bdbdbd" stroke-width="2.0" stroke-linecap="round"/>
<line x1="94.3" y1="284.7" x2="92.4" y2="287.0" stroke="#2a2a2a" stroke-width="2.0" stroke-linecap="round"/>
<line x1="92.4" y1="287.0" x2="90.5" y2="289.3" stroke="#bdbdbd" stroke-width="2.0" stroke-linecap="round"/>
<line x1="94.3" y1="284.7" x2="91.4" y2="283.3" stroke="#2a2a2a" stroke-width="2.0" stroke-linecap="round"/>
<line x1="91.4" y1="283.3" x2="88.5" y2="281.9" stroke="#bdbdbd" stroke-width="2.0" stroke-linecap="round"/>
<line x1="94.3" y1="284.7" x2="93.3" y2="282.1" stroke="#2a2a2a" stroke-width="2.0" stroke-linecap="round"/>
<line x1="93.3" y1="282.1" x2="92.4" y2="279.5" stroke="#bdbdbd" stroke-width="2.0" stroke-linecap="round"/>
<line x1="106.4" y1="287.7" x2="108.4" y2="281.4" stroke="#cccc28" stroke-width="2.4" stroke-linecap="round"/>
<line x1="108.4" y1="281.4" x2="110.4" y2="275.0" stroke="#2a2a2a" stroke-width="2.4" stroke-linecap="round"/>
<line x1="106.4" y1="287.7" x2="100.3" y2="286.2" stroke="#cccc28" stroke-width="2.4" stroke-linecap="round"/>
<line x1="100.3" y1="286.2" x2="94.3" y2="284.7" stroke="#2a2a2a" stroke-width="2.4" stroke-linecap="round"/>
<line x1="106.4" y1="287.7" x2="110.4" y2="291.7" stroke="#cccc28" stroke-width="2.4" stroke-linecap="round"/>
<line x1="110.4" y1="291.7" x2="114.4" y2="295.7" stroke="#e42020" stroke-width="2.4" stroke-linecap="round"/>
<line x1="66.6" y1="293.3" x2="65.8" y2="296.0" stroke="#2a2a2a" stroke-width="2.0" stroke-linecap="round"/>
<line x1="65.8" y1="296.0" x2="65.0" y2="298.8" stroke="#bdbdbd" stroke-width="2.0" stroke-linecap="round"/>
<line x1="66.6" y1="293.3" x2="63.5" y2="293.4" stroke="#2a2a2a" stroke-width="2.0" stroke-linecap="round"/>
<line x1="63.5" y1="293.4" x2="60.5" y2="293.5" stroke="#bdbdbd" stroke-width="2.0" stroke-linecap="round"/>
<line x1="66.6" y1="293.3" x2="66.2" y2="290.5" stroke="#2a2a2a" stroke-width="2.0" stroke-linecap="round"/>
<line x1="66.2" y1="290.5" x2="65.9" y2="287.8" stroke="#bdbdbd" stroke-width="2.0" stroke-linecap="round"/>
<line x1="65.0" y1="298.7" x2="64.6" y2="302.3" stroke="#2a2a2a" stroke-width="2.0" stroke-linecap="round"/>
<line x1="64.6" y1="302.3" x2="64.2" y2="305.8" stroke="#bdbdbd" stroke-width="2.0" stroke-linecap="round"/>
<line x1="65.0" y1="298.7" x2="61.9" y2="300.7" stroke="#2a2a2a" stroke-width="2.0" stroke-linecap="round"/>
<line x1="61.9" y1="300.7" x2="58.8" y2="302.6" stroke="#bdbdbd" stroke-width="2.0" stroke-linecap="round"/>
<line x1="65.0" y1="298.7" x2="62.9" y2="295.7" stroke="#2a2a2a" stroke-width="2.0" stroke-linecap="round"/>
<line x1="62.9" y1="295.7" x2="60.9" y2="292.7" stroke="#bdbdbd" stroke-width="2.0" stroke-linecap="round"/>
<line x1="78.2" y1="293.7" x2="72.4" y2="293.5" stroke="#cccc28" stroke-width="2.4" stroke-linecap="round"/>
<line x1="72.4" y1="293.5" x2="66.6" y2="293.3" stroke="#2a2a2a" stroke-width="2.4" stroke-linecap="round"/>
<line x1="78.2" y1="293.7" x2="71.6" y2="296.2" stroke="#cccc28" stroke-width="2.4" stroke-linecap="round"/>
<line x1="71.6" y1="296.2" x2="65.0" y2="298.7" stroke="#2a2a2a" stroke-width="2.4" stroke-linecap="round"/>
<line x1="78.2" y1="293.7" x2="80.7" y2="299.8" stroke="#cccc28" stroke-width="2.4" stroke-linecap="round"/>
<line x1="80.7" y1="299.8" x2="83.2" y2="305.8" stroke="#e42020" stroke-width="2.4" stroke-linecap="round"/>
<line x1="95.4" y1="290.5" x2="98.1" y2="288.8" stroke="#2a2a2a" stroke-width="2.0" stroke-linecap="round"/>
<line x1="98.1" y1="288.8" x2="100.7" y2="287.2" stroke="#bdbdbd" stroke-width="2.0" stroke-linecap="round"/>
<line x1="95.4" y1="290.5" x2="97.9" y2="292.1" stroke="#2a2a2a" stroke-width="2.0" stroke-linecap="round"/>
<line x1="97.9" y1="292.1" x2="100.4" y2="293.8" stroke="#bdbdbd" stroke-width="2.0" stroke-linecap="round"/>
<line x1="95.4" y1="290.5" x2="95.3" y2="293.3" stroke="#2a2a2a" stroke-width="2.0" stroke-linecap="round"/>
<line x1="95.3" y1="293.3" x2="95.2" y2="296.1" stroke="#bdbdbd" stroke-width="2.0" stroke-linecap="round"/>
<line x1="73.4" y1="285.9" x2="72.3" y2="288.7" stroke="#2a2a2a" stroke-width="2.0" stroke-linecap="round"/>
<line x1="72.3" y1="288.7" x2="71.3" y2="291.6" stroke="#bdbdbd" stroke-width="2.0" stroke-linecap="round"/>
<line x1="73.4" y1="285.9" x2="70.4" y2="285.7" stroke="#2a2a2a" stroke-width="2.0" stroke-linecap="round"/>
<line x1="70.4" y1="285.7" x2="67.4" y2="285.5" stroke="#bdbdbd" stroke-width="2.0" stroke-linecap="round"/>
<line x1="73.4" y1="285.9" x2="71.4" y2="283.3" stroke="#2a2a2a" stroke-width="2.0" stroke-linecap="round"/>
<line x1="71.4" y1="283.3" x2="69.5" y2="280.7" stroke="#bdbdbd" stroke-width="2.0" stroke-linecap="round"/>
<line x1="86.2" y1="283.7" x2="90.8" y2="287.1" stroke="#cccc28" stroke-width="2.4" stroke-linecap="round"/>
<line x1="90.8" y1="287.1" x2="95.4" y2="290.5" stroke="#2a2a2a" stroke-width="2.4" stroke-linecap="round"/>
<line x1="86.2" y1="283.7" x2="79.8" y2="284.8" stroke="#cccc28" stroke-width="2.4" stroke-linecap="round"/>
<line x1="79.8" y1="284.8" x2="73.4" y2="285.9" stroke="#2a2a2a" stroke-width="2.4" stroke-linecap="round"/>
<line x1="86.2" y1="283.7" x2="87.8" y2="279.4" stroke="#cccc28" stroke-width="2.4" stroke-linecap="round"/>
<line x1="87.8" y1="279.4" x2="89.3" y2="275.0" stroke="#e42020" stroke-width="2.4" stroke-linecap="round"/>
<line x1="140.6" y1="296.7" x2="137.8" y2="298.0" stroke="#2a2a2a" stroke-width="2.0" stroke-linecap="round"/>
<line x1="137.8" y1="298.0" x2="134.9" y2="299.3" stroke="#bdbdbd" stroke-width="2.0" stroke-linecap="round"/>
<line x1="140.6" y1="296.7" x2="139.2" y2="293.3" stroke="#2a2a2a" stroke-width="2.0" stroke-linecap="round"/>
<line x1="139.2" y1="293.3" x2="137.9" y2="290.0" stroke="#bdbdbd" stroke-width="2.0" stroke-linecap="round"/>
<line x1="140.6" y1="296.7" x2="142.9" y2="294.3" stroke="#2a2a2a" stroke-width="2.0" stroke-linecap="round"/>
<line x1="142.9" y1="294.3" x2="145.3" y2="291.8" stroke="#bdbdbd" stroke-width="2.0" stroke-linecap="round"/>
<line x1="161.7" y1="308.8" x2="163.9" y2="305.8" stroke="#2a2a2a" stroke-width="2.0" stroke-linecap="round"/>
<line x1="163.9" y1="305.8" x2="166.1" y2="302.9" stroke="#bdbdbd" stroke-width="2.0" stroke-linecap="round"/>
<line x1="161.7" y1="308.8" x2="165.2" y2="309.2" stroke="#2a2a2a" stroke-width="2.0" stroke-linecap="round"/>
<line x1="165.2" y1="309.2" x2="168.6" y2="309.5" stroke="#bdbdbd" stroke-width="2.0" stroke-linecap="round"/>
<line x1="161.7" y1="308.8" x2="163.4" y2="311.8" stroke="#2a2a2a" stroke-width="2.0" stroke-linecap="round"/>
<line x1="163.4" y1="311.8" x2="165.1" y2="314.9" stroke="#bdbdbd" stroke-width="2.0" stroke-linecap="round"/>
<line x1="148.6" y1="307.8" x2="144.6" y2="302.2" stroke="#cccc28" stroke-width="2.4" stroke-linecap="round"/>
<line x1="144.6" y1="302.2" x2="140.6" y2="296.7" stroke="#2a2a2a" stroke-width="2.4" stroke-linecap="round"/>
<line x1="148.6" y1="307.8" x2="155.1" y2="308.3" stroke="#cccc28" stroke-width="2.4" stroke-linecap="round"/>
<line x1="155.1" y1="308.3" x2="161.7" y2="308.8" stroke="#2a2a2a" stroke-width="2.4" stroke-linecap="round"/>
<line x1="148.6" y1="307.8" x2="145.1" y2="313.4" stroke="#cccc28" stroke-width="2.4" stroke-linecap="round"/>
<line x1="145.1" y1="313.4" x2="141.6" y2="318.9" stroke="#e42020" stroke-width="2.4" stroke-linecap="round"/>
<line x1="103.3" y1="322.9" x2="105.2" y2="325.9" stroke="#2a2a2a" stroke-width="2.0" stroke-linecap="round"/>
<line x1="105.2" y1="325.9" x2="107.0" y2="328.8" stroke="#bdbdbd" stroke-width="2.0" stroke-linecap="round"/>
<line x1="103.3" y1="322.9" x2="101.2" y2="325.1" stroke="#2a2a2a" stroke-width="2.0" stroke-linecap="round"/>
<line x1="101.2" y1="325.1" x2="99.1" y2="327.3" stroke="#bdbdbd" stroke-width="2.0" stroke-linecap="round"/>
<line x1="103.3" y1="322.9" x2="99.6" y2="322.5" stroke="#2a2a2a" stroke-width="2.0" stroke-linecap="round"/>
<line x1="99.6" y1="322.5" x2="96.0" y2="322.2" stroke="#bdbdbd" stroke-width="2.0" stroke-linecap="round"/>
<line x1="121.5" y1="319.0" x2="123.9" y2="316.8" stroke="#2a2a2a" stroke-width="2.0" stroke-linecap="round"/>
<line x1="123.9" y1="316.8" x2="126.2" y2="314.6" stroke="#bdbdbd" stroke-width="2.0" stroke-linecap="round"/>
<line x1="121.5" y1="319.0" x2="124.0" y2="320.7" stroke="#2a2a2a" stroke-width="2.0" stroke-linecap="round"/>
<line x1="124.0" y1="320.7" x2="126.6" y2="322.4" stroke="#bdbdbd" stroke-width="2.0" stroke-linecap="round"/>
<line x1="121.5" y1="319.0" x2="119.9" y2="322.4" stroke="#2a2a2a" stroke-width="2.0" stroke-linecap="round"/>
<line x1="119.9" y1="322.4" x2="118.3" y2="325.7" stroke="#bdbdbd" stroke-width="2.0" stroke-linecap="round"/>
<line x1="112.4" y1="311.8" x2="107.8" y2="317.4" stroke="#cccc28" stroke-width="2.4" stroke-linecap="round"/>
<line x1="107.8" y1="317.4" x2="103.3" y2="322.9" stroke="#2a2a2a" stroke-width="2.4" stroke-linecap="round"/>
<line x1="112.4" y1="311.8" x2="117.0" y2="315.4" stroke="#cccc28" stroke-width="2.4" stroke-linecap="round"/>
<line x1="117.0" y1="315.4" x2="121.5" y2="319.0" stroke="#2a2a2a" stroke-width="2.4" stroke-linecap="round"/>
<line x1="112.4" y1="311.8" x2="116.4" y2="307.8" stroke="#cccc28" stroke-width="2.4" stroke-linecap="round"/>
<line x1="116.4" y1="307.8" x2="120.4" y2="303.8" stroke="#e42020" stroke-width="2.4" stroke-linecap="round"/>
<line x1="150.6" y1="279.6" x2="149.8" y2="282.9" stroke="#2a2a2a" stroke-width="2.0" stroke-linecap="round"/>
<line x1="149.8" y1="282.9" x2="149.1" y2="286.2" stroke="#bdbdbd" stroke-width="2.0" stroke-linecap="round"/>
<line x1="150.6" y1="279.6" x2="147.3" y2="279.9" stroke="#2a2a2a" stroke-width="2.0" stroke-linecap="round"/>
<line x1="147.3" y1="279.9" x2="144.0" y2="280.3" stroke="#bdbdbd" stroke-width="2.0" stroke-linecap="round"/>
<line x1="150.6" y1="279.6" x2="149.5" y2="276.9" stroke="#2a2a2a" stroke-width="2.0" stroke-linecap="round"/>
<line x1="149.5" y1="276.9" x2="148.3" y2="274.2" stroke="#bdbdbd" stroke-width="2.0" stroke-linecap="round"/>
<line x1="174.0" y1="279.6" x2="174.5" y2="276.7" stroke="#2a2a2a" stroke-width="2.0" stroke-linecap="round"/>
<line x1="174.5" y1="276.7" x2="175.0" y2="273.8" stroke="#bdbdbd" stroke-width="2.0" stroke-linecap="round"/>
<line x1="174.0" y1="279.6" x2="177.2" y2="280.3" stroke="#2a2a2a" stroke-width="2.0" stroke-linecap="round"/>
<line x1="177.2" y1="280.3" x2="180.3" y2="281.0" stroke="#bdbdbd" stroke-width="2.0" stroke-linecap="round"/>
<line x1="174.0" y1="279.6" x2="175.7" y2="282.8" stroke="#2a2a2a" stroke-width="2.0" stroke-linecap="round"/>
<line x1="175.7" y1="282.8" x2="177.5" y2="286.0" stroke="#bdbdbd" stroke-width="2.0" stroke-linecap="round"/>
<line x1="161.7" y1="279.6" x2="156.1" y2="279.6" stroke="#cccc28" stroke-width="2.4" stroke-linecap="round"/>
<line x1="156.1" y1="279.6" x2="150.6" y2="279.6" stroke="#2a2a2a" stroke-width="2.4" stroke-linecap="round"/>
<line x1="161.7" y1="279.6" x2="167.8" y2="279.6" stroke="#cccc28" stroke-width="2.4" stroke-linecap="round"/>
<line x1="167.8" y1="279.6" x2="174.0" y2="279.6" stroke="#2a2a2a" stroke-width="2.4" stroke-linecap="round"/>
<line x1="161.7" y1="279.6" x2="161.7" y2="285.8" stroke="#cccc28" stroke-width="2.4" stroke-linecap="round"/>
<line x1="161.7" y1="285.8" x2="161.7" y2="292.0" stroke="#e42020" stroke-width="2.4" stroke-linecap="round"/>
<line x1="172.8" y1="213.3" x2="175.1" y2="215.0" stroke="#2a2a2a" stroke-width="2.0" stroke-linecap="round"/>
<line x1="175.1" y1="215.0" x2="177.3" y2="216.7" stroke="#bdbdbd" stroke-width="2.0" stroke-linecap="round"/>
<line x1="172.8" y1="213.3" x2="172.1" y2="216.2" stroke="#2a2a2a" stroke-width="2.0" stroke-linecap="round"/>
<line x1="172.1" y1="216.2" x2="171.3" y2="219.1" stroke="#bdbdbd" stroke-width="2.0" stroke-linecap="round"/>
<line x1="172.8" y1="213.3" x2="169.2" y2="213.0" stroke="#2a2a2a" stroke-width="2.0" stroke-linecap="round"/>
<line x1="169.2" y1="213.0" x2="165.5" y2="212.8" stroke="#bdbdbd" stroke-width="2.0" stroke-linecap="round"/>
<line x1="170.1" y1="194.8" x2="167.0" y2="195.4" stroke="#2a2a2a" stroke-width="2.0" stroke-linecap="round"/>
<line x1="167.0" y1="195.4" x2="163.9" y2="196.0" stroke="#bdbdbd" stroke-width="2.0" stroke-linecap="round"/>
<line x1="170.1" y1="194.8" x2="168.0" y2="192.3" stroke="#2a2a2a" stroke-width="2.0" stroke-linecap="round"/>
<line x1="168.0" y1="192.3" x2="165.8" y2="189.9" stroke="#bdbdbd" stroke-width="2.0" stroke-linecap="round"/>
<line x1="170.1" y1="194.8" x2="171.5" y2="192.1" stroke="#2a2a2a" stroke-width="2.0" stroke-linecap="round"/>
<line x1="171.5" y1="192.1" x2="173.0" y2="189.3" stroke="#bdbdbd" stroke-width="2.0" stroke-linecap="round"/>
<line x1="176.8" y1="203.2" x2="174.8" y2="208.2" stroke="#cccc28" stroke-width="2.4" stroke-linecap="round"/>
<line x1="174.8" y1="208.2" x2="172.8" y2="213.3" stroke="#2a2a2a" stroke-width="2.4" stroke-linecap="round"/>
<line x1="176.8" y1="203.2" x2="173.5" y2="199.0" stroke="#cccc28" stroke-width="2.4" stroke-linecap="round"/>
<line x1="173.5" y1="199.0" x2="170.1" y2="194.8" stroke="#2a2a2a" stroke-width="2.4" stroke-linecap="round"/>
<line x1="176.8" y1="203.2" x2="182.5" y2="203.1" stroke="#cccc28" stroke-width="2.4" stroke-linecap="round"/>
<line x1="182.5" y1="203.1" x2="188.3" y2="202.9" stroke="#e42020" stroke-width="2.4" stroke-linecap="round"/>
<line x1="218.2" y1="187.1" x2="217.3" y2="190.0" stroke="#2a2a2a" stroke-width="2.0" stroke-linecap="round"/>
<line x1="217.3" y1="190.0" x2="216.4" y2="192.9" stroke="#bdbdbd" stroke-width="2.0" stroke-linecap="round"/>
<line x1="218.2" y1="187.1" x2="215.6" y2="185.9" stroke="#2a2a2a" stroke-width="2.0" stroke-linecap="round"/>
<line x1="215.6" y1="185.9" x2="213.0" y2="184.7" stroke="#bdbdbd" stroke-width="2.0" stroke-linecap="round"/>
<line x1="218.2" y1="187.1" x2="217.6" y2="183.8" stroke="#2a2a2a" stroke-width="2.0" stroke-linecap="round"/>
<line x1="217.6" y1="183.8" x2="217.1" y2="180.4" stroke="#bdbdbd" stroke-width="2.0" stroke-linecap="round"/>
<line x1="242.0" y1="189.1" x2="243.5" y2="186.6" stroke="#2a2a2a" stroke-width="2.0" stroke-linecap="round"/>
<line x1="243.5" y1="186.6" x2="245.0" y2="184.0" stroke="#bdbdbd" stroke-width="2.0" stroke-linecap="round"/>
<line x1="242.0" y1="189.1" x2="245.0" y2="188.7" stroke="#2a2a2a" stroke-width="2.0" stroke-linecap="round"/>
<line x1="245.0" y1="188.7" x2="248.0" y2="188.4" stroke="#bdbdbd" stroke-width="2.0" stroke-linecap="round"/>
<line x1="242.0" y1="189.1" x2="243.2" y2="192.0" stroke="#2a2a2a" stroke-width="2.0" stroke-linecap="round"/>
<line x1="243.2" y1="192.0" x2="244.5" y2="195.0" stroke="#bdbdbd" stroke-width="2.0" stroke-linecap="round"/>
<line x1="229.3" y1="189.1" x2="223.8" y2="188.1" stroke="#cccc28" stroke-width="2.4" stroke-linecap="round"/>
<line x1="223.8" y1="188.1" x2="218.2" y2="187.1" stroke="#2a2a2a" stroke-width="2.4" stroke-linecap="round"/>
<line x1="229.3" y1="189.1" x2="235.7" y2="189.1" stroke="#cccc28" stroke-width="2.4" stroke-linecap="round"/>
<line x1="235.7" y1="189.1" x2="242.0" y2="189.1" stroke="#2a2a2a" stroke-width="2.4" stroke-linecap="round"/>
<line x1="229.3" y1="189.1" x2="227.8" y2="194.8" stroke="#cccc28" stroke-width="2.4" stroke-linecap="round"/>
<line x1="227.8" y1="194.8" x2="226.3" y2="200.5" stroke="#e42020" stroke-width="2.4" stroke-linecap="round"/>
<line x1="232.0" y1="205.2" x2="229.8" y2="208.0" stroke="#2a2a2a" stroke-width="2.0" stroke-linecap="round"/>
<line x1="229.8" y1="208.0" x2="227.5" y2="210.9" stroke="#bdbdbd" stroke-width="2.0" stroke-linecap="round"/>
<line x1="232.0" y1="205.2" x2="229.3" y2="204.4" stroke="#2a2a2a" stroke-width="2.0" stroke-linecap="round"/>
<line x1="229.3" y1="204.4" x2="226.7" y2="203.7" stroke="#bdbdbd" stroke-width="2.0" stroke-linecap="round"/>
<line x1="232.0" y1="205.2" x2="230.3" y2="202.2" stroke="#2a2a2a" stroke-width="2.0" stroke-linecap="round"/>
<line x1="230.3" y1="202.2" x2="228.6" y2="199.2" stroke="#bdbdbd" stroke-width="2.0" stroke-linecap="round"/>
<line x1="246.4" y1="216.0" x2="249.4" y2="217.1" stroke="#2a2a2a" stroke-width="2.0" stroke-linecap="round"/>
<line x1="249.4" y1="217.1" x2="252.4" y2="218.2" stroke="#bdbdbd" stroke-width="2.0" stroke-linecap="round"/>
<line x1="246.4" y1="216.0" x2="246.8" y2="218.7" stroke="#2a2a2a" stroke-width="2.0" stroke-linecap="round"/>
<line x1="246.8" y1="218.7" x2="247.3" y2="221.4" stroke="#bdbdbd" stroke-width="2.0" stroke-linecap="round"/>
<line x1="246.4" y1="216.0" x2="243.4" y2="218.1" stroke="#2a2a2a" stroke-width="2.0" stroke-linecap="round"/>
<line x1="243.4" y1="218.1" x2="240.4" y2="220.2" stroke="#bdbdbd" stroke-width="2.0" stroke-linecap="round"/>
<line x1="244.4" y1="206.2" x2="238.2" y2="205.7" stroke="#cccc28" stroke-width="2.4" stroke-linecap="round"/>
<line x1="238.2" y1="205.7" x2="232.0" y2="205.2" stroke="#2a2a2a" stroke-width="2.4" stroke-linecap="round"/>
<line x1="244.4" y1="206.2" x2="245.4" y2="211.1" stroke="#cccc28" stroke-width="2.4" stroke-linecap="round"/>
<line x1="245.4" y1="211.1" x2="246.4" y2="216.0" stroke="#2a2a2a" stroke-width="2.4" stroke-linecap="round"/>
<line x1="244.4" y1="206.2" x2="249.2" y2="205.0" stroke="#cccc28" stroke-width="2.4" stroke-linecap="round"/>
<line x1="249.2" y1="205.0" x2="254.1" y2="203.7" stroke="#e42020" stroke-width="2.4" stroke-linecap="round"/>
<line x1="258.5" y1="212.2" x2="260.5" y2="214.3" stroke="#2a2a2a" stroke-width="2.0" stroke-linecap="round"/>
<line x1="260.5" y1="214.3" x2="262.5" y2="216.3" stroke="#bdbdbd" stroke-width="2.0" stroke-linecap="round"/>
<line x1="258.5" y1="212.2" x2="257.2" y2="215.2" stroke="#2a2a2a" stroke-width="2.0" stroke-linecap="round"/>
<line x1="257.2" y1="215.2" x2="255.9" y2="218.2" stroke="#bdbdbd" stroke-width="2.0" stroke-linecap="round"/>
<line x1="258.5" y1="212.2" x2="255.0" y2="211.0" stroke="#2a2a2a" stroke-width="2.0" stroke-linecap="round"/>
<line x1="255.0" y1="211.0" x2="251.5" y2="209.8" stroke="#bdbdbd" stroke-width="2.0" stroke-linecap="round"/>
<line x1="254.1" y1="196.5" x2="251.8" y2="199.0" stroke="#2a2a2a" stroke-width="2.0" stroke-linecap="round"/>
<line x1="251.8" y1="199.0" x2="249.5" y2="201.5" stroke="#bdbdbd" stroke-width="2.0" stroke-linecap="round"/>
<line x1="254.1" y1="196.5" x2="251.2" y2="195.2" stroke="#2a2a2a" stroke-width="2.0" stroke-linecap="round"/>
<line x1="251.2" y1="195.2" x2="248.3" y2="193.9" stroke="#bdbdbd" stroke-width="2.0" stroke-linecap="round"/>
<line x1="254.1" y1="196.5" x2="254.0" y2="193.8" stroke="#2a2a2a" stroke-width="2.0" stroke-linecap="round"/>
<line x1="254.0" y1="193.8" x2="253.9" y2="191.0" stroke="#bdbdbd" stroke-width="2.0" stroke-linecap="round"/>
<line x1="266.5" y1="200.2" x2="262.5" y2="206.2" stroke="#cccc28" stroke-width="2.4" stroke-linecap="round"/>
<line x1="262.5" y1="206.2" x2="258.5" y2="212.2" stroke="#2a2a2a" stroke-width="2.4" stroke-linecap="round"/>
<line x1="266.5" y1="200.2" x2="260.3" y2="198.4" stroke="#cccc28" stroke-width="2.4" stroke-linecap="round"/>
<line x1="260.3" y1="198.4" x2="254.1" y2="196.5" stroke="#2a2a2a" stroke-width="2.4" stroke-linecap="round"/>
<line x1="266.5" y1="200.2" x2="269.1" y2="195.1" stroke="#cccc28" stroke-width="2.4" stroke-linecap="round"/>
<line x1="269.1" y1="195.1" x2="271.8" y2="190.0" stroke="#e42020" stroke-width="2.4" stroke-linecap="round"/>
<line x1="286.0" y1="185.1" x2="285.2" y2="182.2" stroke="#2a2a2a" stroke-width="2.0" stroke-linecap="round"/>
<line x1="285.2" y1="182.2" x2="284.4" y2="179.3" stroke="#bdbdbd" stroke-width="2.0" stroke-linecap="round"/>
<line x1="286.0" y1="185.1" x2="288.9" y2="183.3" stroke="#2a2a2a" stroke-width="2.0" stroke-linecap="round"/>
<line x1="288.9" y1="183.3" x2="291.8" y2="181.6" stroke="#bdbdbd" stroke-width="2.0" stroke-linecap="round"/>
<line x1="286.0" y1="185.1" x2="288.7" y2="186.1" stroke="#2a2a2a" stroke-width="2.0" stroke-linecap="round"/>
<line x1="288.7" y1="186.1" x2="291.4" y2="187.1" stroke="#bdbdbd" stroke-width="2.0" stroke-linecap="round"/>
<line x1="280.6" y1="204.0" x2="283.9" y2="203.4" stroke="#2a2a2a" stroke-width="2.0" stroke-linecap="round"/>
<line x1="283.9" y1="203.4" x2="287.3" y2="202.9" stroke="#bdbdbd" stroke-width="2.0" stroke-linecap="round"/>
<line x1="280.6" y1="204.0" x2="281.4" y2="206.8" stroke="#2a2a2a" stroke-width="2.0" stroke-linecap="round"/>
<line x1="281.4" y1="206.8" x2="282.2" y2="209.5" stroke="#bdbdbd" stroke-width="2.0" stroke-linecap="round"/>
<line x1="280.6" y1="204.0" x2="278.7" y2="206.7" stroke="#2a2a2a" stroke-width="2.0" stroke-linecap="round"/>
<line x1="278.7" y1="206.7" x2="276.8" y2="209.4" stroke="#bdbdbd" stroke-width="2.0" stroke-linecap="round"/>
<line x1="276.6" y1="194.1" x2="281.3" y2="189.6" stroke="#cccc28" stroke-width="2.4" stroke-linecap="round"/>
<line x1="281.3" y1="189.6" x2="286.0" y2="185.1" stroke="#2a2a2a" stroke-width="2.4" stroke-linecap="round"/>
<line x1="276.6" y1="194.1" x2="278.6" y2="199.1" stroke="#cccc28" stroke-width="2.4" stroke-linecap="round"/>
<line x1="278.6" y1="199.1" x2="280.6" y2="204.0" stroke="#2a2a2a" stroke-width="2.4" stroke-linecap="round"/>
<line x1="276.6" y1="194.1" x2="271.8" y2="196.6" stroke="#cccc28" stroke-width="2.4" stroke-linecap="round"/>
<line x1="271.8" y1="196.6" x2="267.0" y2="199.0" stroke="#e42020" stroke-width="2.4" stroke-linecap="round"/>
<line x1="292.7" y1="212.0" x2="290.7" y2="209.6" stroke="#2a2a2a" stroke-width="2.0" stroke-linecap="round"/>
<line x1="290.7" y1="209.6" x2="288.7" y2="207.2" stroke="#bdbdbd" stroke-width="2.0" stroke-linecap="round"/>
<line x1="292.7" y1="212.0" x2="293.8" y2="208.8" stroke="#2a2a2a" stroke-width="2.0" stroke-linecap="round"/>
<line x1="293.8" y1="208.8" x2="295.0" y2="205.7" stroke="#bdbdbd" stroke-width="2.0" stroke-linecap="round"/>
<line x1="292.7" y1="212.0" x2="295.7" y2="211.6" stroke="#2a2a2a" stroke-width="2.0" stroke-linecap="round"/>
<line x1="295.7" y1="211.6" x2="298.8" y2="211.3" stroke="#bdbdbd" stroke-width="2.0" stroke-linecap="round"/>
<line x1="284.6" y1="236.0" x2="287.9" y2="237.8" stroke="#2a2a2a" stroke-width="2.0" stroke-linecap="round"/>
<line x1="287.9" y1="237.8" x2="291.1" y2="239.5" stroke="#bdbdbd" stroke-width="2.0" stroke-linecap="round"/>
<line x1="284.6" y1="236.0" x2="283.7" y2="239.5" stroke="#2a2a2a" stroke-width="2.0" stroke-linecap="round"/>
<line x1="283.7" y1="239.5" x2="282.9" y2="243.1" stroke="#bdbdbd" stroke-width="2.0" stroke-linecap="round"/>
<line x1="284.6" y1="236.0" x2="281.7" y2="236.6" stroke="#2a2a2a" stroke-width="2.0" stroke-linecap="round"/>
<line x1="281.7" y1="236.6" x2="278.7" y2="237.2" stroke="#bdbdbd" stroke-width="2.0" stroke-linecap="round"/>
<line x1="286.7" y1="223.3" x2="289.7" y2="217.7" stroke="#cccc28" stroke-width="2.4" stroke-linecap="round"/>
<line x1="289.7" y1="217.7" x2="292.7" y2="212.0" stroke="#2a2a2a" stroke-width="2.4" stroke-linecap="round"/>
<line x1="286.7" y1="223.3" x2="285.6" y2="229.7" stroke="#cccc28" stroke-width="2.4" stroke-linecap="round"/>
<line x1="285.6" y1="229.7" x2="284.6" y2="236.0" stroke="#2a2a2a" stroke-width="2.4" stroke-linecap="round"/>
<line x1="286.7" y1="223.3" x2="281.6" y2="220.8" stroke="#cccc28" stroke-width="2.4" stroke-linecap="round"/>
<line x1="281.6" y1="220.8" x2="276.6" y2="218.3" stroke="#e42020" stroke-width="2.4" stroke-linecap="round"/>
<line x1="280.0" y1="240.4" x2="277.9" y2="243.4" stroke="#2a2a2a" stroke-width="2.0" stroke-linecap="round"/>
<line x1="277.9" y1="243.4" x2="275.8" y2="246.5" stroke="#bdbdbd" stroke-width="2.0" stroke-linecap="round"/>
<line x1="280.0" y1="240.4" x2="277.3" y2="238.9" stroke="#2a2a2a" stroke-width="2.0" stroke-linecap="round"/>
<line x1="277.3" y1="238.9" x2="274.6" y2="237.5" stroke="#bdbdbd" stroke-width="2.0" stroke-linecap="round"/>
<line x1="280.0" y1="240.4" x2="279.3" y2="237.2" stroke="#2a2a2a" stroke-width="2.0" stroke-linecap="round"/>
<line x1="279.3" y1="237.2" x2="278.7" y2="234.0" stroke="#bdbdbd" stroke-width="2.0" stroke-linecap="round"/>
<line x1="296.7" y1="256.0" x2="299.9" y2="255.7" stroke="#2a2a2a" stroke-width="2.0" stroke-linecap="round"/>
<line x1="299.9" y1="255.7" x2="303.0" y2="255.4" stroke="#bdbdbd" stroke-width="2.0" stroke-linecap="round"/>
<line x1="296.7" y1="256.0" x2="298.8" y2="258.7" stroke="#2a2a2a" stroke-width="2.0" stroke-linecap="round"/>
<line x1="298.8" y1="258.7" x2="300.9" y2="261.4" stroke="#bdbdbd" stroke-width="2.0" stroke-linecap="round"/>
<line x1="296.7" y1="256.0" x2="294.4" y2="257.8" stroke="#2a2a2a" stroke-width="2.0" stroke-linecap="round"/>
<line x1="294.4" y1="257.8" x2="292.0" y2="259.7" stroke="#bdbdbd" stroke-width="2.0" stroke-linecap="round"/>
<line x1="289.7" y1="244.4" x2="284.9" y2="242.4" stroke="#cccc28" stroke-width="2.4" stroke-linecap="round"/>
<line x1="284.9" y1="242.4" x2="280.0" y2="240.4" stroke="#2a2a2a" stroke-width="2.4" stroke-linecap="round"/>
<line x1="289.7" y1="244.4" x2="293.2" y2="250.2" stroke="#cccc28" stroke-width="2.4" stroke-linecap="round"/>
<line x1="293.2" y1="250.2" x2="296.7" y2="256.0" stroke="#2a2a2a" stroke-width="2.4" stroke-linecap="round"/>
<line x1="289.7" y1="244.4" x2="294.2" y2="239.9" stroke="#cccc28" stroke-width="2.4" stroke-linecap="round"/>
<line x1="294.2" y1="239.9" x2="298.7" y2="235.4" stroke="#e42020" stroke-width="2.4" stroke-linecap="round"/>
<line x1="206.2" y1="249.4" x2="209.2" y2="247.8" stroke="#2a2a2a" stroke-width="2.0" stroke-linecap="round"/>
<line x1="209.2" y1="247.8" x2="212.3" y2="246.2" stroke="#bdbdbd" stroke-width="2.0" stroke-linecap="round"/>
<line x1="206.2" y1="249.4" x2="209.1" y2="251.5" stroke="#2a2a2a" stroke-width="2.0" stroke-linecap="round"/>
<line x1="209.1" y1="251.5" x2="212.0" y2="253.5" stroke="#bdbdbd" stroke-width="2.0" stroke-linecap="round"/>
<line x1="206.2" y1="249.4" x2="204.5" y2="252.2" stroke="#2a2a2a" stroke-width="2.0" stroke-linecap="round"/>
<line x1="204.5" y1="252.2" x2="202.8" y2="254.9" stroke="#bdbdbd" stroke-width="2.0" stroke-linecap="round"/>
<line x1="205.2" y1="250.2" x2="208.5" y2="248.5" stroke="#2a2a2a" stroke-width="2.0" stroke-linecap="round"/>
<line x1="208.5" y1="248.5" x2="211.8" y2="246.8" stroke="#bdbdbd" stroke-width="2.0" stroke-linecap="round"/>
<line x1="205.2" y1="250.2" x2="207.7" y2="252.8" stroke="#2a2a2a" stroke-width="2.0" stroke-linecap="round"/>
<line x1="207.7" y1="252.8" x2="210.2" y2="255.3" stroke="#bdbdbd" stroke-width="2.0" stroke-linecap="round"/>
<line x1="205.2" y1="250.2" x2="204.1" y2="253.0" stroke="#2a2a2a" stroke-width="2.0" stroke-linecap="round"/>
<line x1="204.1" y1="253.0" x2="202.9" y2="255.7" stroke="#bdbdbd" stroke-width="2.0" stroke-linecap="round"/>
<line x1="198.1" y1="241.4" x2="202.1" y2="245.4" stroke="#cccc28" stroke-width="2.4" stroke-linecap="round"/>
<line x1="202.1" y1="245.4" x2="206.2" y2="249.4" stroke="#2a2a2a" stroke-width="2.4" stroke-linecap="round"/>
<line x1="198.1" y1="241.4" x2="201.7" y2="245.8" stroke="#cccc28" stroke-width="2.4" stroke-linecap="round"/>
<line x1="201.7" y1="245.8" x2="205.2" y2="250.2" stroke="#2a2a2a" stroke-width="2.4" stroke-linecap="round"/>
<line x1="198.1" y1="241.4" x2="192.1" y2="240.9" stroke="#cccc28" stroke-width="2.4" stroke-linecap="round"/>
<line x1="192.1" y1="240.9" x2="186.0" y2="240.4" stroke="#e42020" stroke-width="2.4" stroke-linecap="round"/>
<line x1="191.1" y1="296.0" x2="188.8" y2="294.0" stroke="#2a2a2a" stroke-width="2.0" stroke-linecap="round"/>
<line x1="188.8" y1="294.0" x2="186.5" y2="292.0" stroke="#bdbdbd" stroke-width="2.0" stroke-linecap="round"/>
<line x1="191.1" y1="296.0" x2="192.6" y2="293.1" stroke="#2a2a2a" stroke-width="2.0" stroke-linecap="round"/>
<line x1="192.6" y1="293.1" x2="194.0" y2="290.2" stroke="#bdbdbd" stroke-width="2.0" stroke-linecap="round"/>
<line x1="191.1" y1="296.0" x2="194.0" y2="295.2" stroke="#2a2a2a" stroke-width="2.0" stroke-linecap="round"/>
<line x1="194.0" y1="295.2" x2="196.8" y2="294.3" stroke="#bdbdbd" stroke-width="2.0" stroke-linecap="round"/>
<line x1="186.0" y1="320.0" x2="189.0" y2="321.6" stroke="#2a2a2a" stroke-width="2.0" stroke-linecap="round"/>
<line x1="189.0" y1="321.6" x2="192.0" y2="323.2" stroke="#bdbdbd" stroke-width="2.0" stroke-linecap="round"/>
<line x1="186.0" y1="320.0" x2="184.8" y2="322.6" stroke="#2a2a2a" stroke-width="2.0" stroke-linecap="round"/>
<line x1="184.8" y1="322.6" x2="183.6" y2="325.3" stroke="#bdbdbd" stroke-width="2.0" stroke-linecap="round"/>
<line x1="186.0" y1="320.0" x2="183.1" y2="320.6" stroke="#2a2a2a" stroke-width="2.0" stroke-linecap="round"/>
<line x1="183.1" y1="320.6" x2="180.2" y2="321.3" stroke="#bdbdbd" stroke-width="2.0" stroke-linecap="round"/>
<line x1="188.1" y1="308.8" x2="189.6" y2="302.4" stroke="#cccc28" stroke-width="2.4" stroke-linecap="round"/>
<line x1="189.6" y1="302.4" x2="191.1" y2="296.0" stroke="#2a2a2a" stroke-width="2.4" stroke-linecap="round"/>
<line x1="188.1" y1="308.8" x2="187.1" y2="314.4" stroke="#cccc28" stroke-width="2.4" stroke-linecap="round"/>
<line x1="187.1" y1="314.4" x2="186.0" y2="320.0" stroke="#2a2a2a" stroke-width="2.4" stroke-linecap="round"/>
<line x1="188.1" y1="308.8" x2="184.1" y2="310.8" stroke="#cccc28" stroke-width="2.4" stroke-linecap="round"/>
<line x1="184.1" y1="310.8" x2="180.0" y2="312.8" stroke="#e42020" stroke-width="2.4" stroke-linecap="round"/>
<line x1="246.4" y1="318.0" x2="247.0" y2="320.8" stroke="#2a2a2a" stroke-width="2.0" stroke-linecap="round"/>
<line x1="247.0" y1="320.8" x2="247.5" y2="323.7" stroke="#bdbdbd" stroke-width="2.0" stroke-linecap="round"/>
<line x1="246.4" y1="318.0" x2="244.9" y2="320.4" stroke="#2a2a2a" stroke-width="2.0" stroke-linecap="round"/>
<line x1="244.9" y1="320.4" x2="243.5" y2="322.8" stroke="#bdbdbd" stroke-width="2.0" stroke-linecap="round"/>
<line x1="246.4" y1="318.0" x2="243.0" y2="316.7" stroke="#2a2a2a" stroke-width="2.0" stroke-linecap="round"/>
<line x1="243.0" y1="316.7" x2="239.6" y2="315.3" stroke="#bdbdbd" stroke-width="2.0" stroke-linecap="round"/>
<line x1="264.0" y1="317.9" x2="267.4" y2="317.2" stroke="#2a2a2a" stroke-width="2.0" stroke-linecap="round"/>
<line x1="267.4" y1="317.2" x2="270.8" y2="316.5" stroke="#bdbdbd" stroke-width="2.0" stroke-linecap="round"/>
<line x1="264.0" y1="317.9" x2="265.7" y2="321.1" stroke="#2a2a2a" stroke-width="2.0" stroke-linecap="round"/>
<line x1="265.7" y1="321.1" x2="267.5" y2="324.4" stroke="#bdbdbd" stroke-width="2.0" stroke-linecap="round"/>
<line x1="264.0" y1="317.9" x2="262.9" y2="320.6" stroke="#2a2a2a" stroke-width="2.0" stroke-linecap="round"/>
<line x1="262.9" y1="320.6" x2="261.8" y2="323.4" stroke="#bdbdbd" stroke-width="2.0" stroke-linecap="round"/>
<line x1="255.5" y1="308.8" x2="250.9" y2="313.4" stroke="#cccc28" stroke-width="2.4" stroke-linecap="round"/>
<line x1="250.9" y1="313.4" x2="246.4" y2="318.0" stroke="#2a2a2a" stroke-width="2.4" stroke-linecap="round"/>
<line x1="255.5" y1="308.8" x2="259.8" y2="313.4" stroke="#cccc28" stroke-width="2.4" stroke-linecap="round"/>
<line x1="259.8" y1="313.4" x2="264.0" y2="317.9" stroke="#2a2a2a" stroke-width="2.4" stroke-linecap="round"/>
<line x1="255.5" y1="308.8" x2="258.5" y2="304.4" stroke="#cccc28" stroke-width="2.4" stroke-linecap="round"/>
<line x1="258.5" y1="304.4" x2="261.5" y2="300.0" stroke="#e42020" stroke-width="2.4" stroke-linecap="round"/>
<line x1="273.0" y1="307.8" x2="273.5" y2="310.5" stroke="#2a2a2a" stroke-width="2.0" stroke-linecap="round"/>
<line x1="273.5" y1="310.5" x2="274.0" y2="313.3" stroke="#bdbdbd" stroke-width="2.0" stroke-linecap="round"/>
<line x1="273.0" y1="307.8" x2="270.4" y2="309.5" stroke="#2a2a2a" stroke-width="2.0" stroke-linecap="round"/>
<line x1="270.4" y1="309.5" x2="267.7" y2="311.2" stroke="#bdbdbd" stroke-width="2.0" stroke-linecap="round"/>
<line x1="273.0" y1="307.8" x2="270.3" y2="306.3" stroke="#2a2a2a" stroke-width="2.0" stroke-linecap="round"/>
<line x1="270.3" y1="306.3" x2="267.6" y2="304.8" stroke="#bdbdbd" stroke-width="2.0" stroke-linecap="round"/>
<line x1="296.0" y1="303.8" x2="297.3" y2="301.4" stroke="#2a2a2a" stroke-width="2.0" stroke-linecap="round"/>
<line x1="297.3" y1="301.4" x2="298.6" y2="299.0" stroke="#bdbdbd" stroke-width="2.0" stroke-linecap="round"/>
<line x1="296.0" y1="303.8" x2="299.0" y2="304.4" stroke="#2a2a2a" stroke-width="2.0" stroke-linecap="round"/>
<line x1="299.0" y1="304.4" x2="302.1" y2="305.1" stroke="#bdbdbd" stroke-width="2.0" stroke-linecap="round"/>
<line x1="296.0" y1="303.8" x2="295.4" y2="306.6" stroke="#2a2a2a" stroke-width="2.0" stroke-linecap="round"/>
<line x1="295.4" y1="306.6" x2="294.8" y2="309.4" stroke="#bdbdbd" stroke-width="2.0" stroke-linecap="round"/>
<line x1="283.6" y1="299.7" x2="278.3" y2="303.8" stroke="#cccc28" stroke-width="2.4" stroke-linecap="round"/>
<line x1="278.3" y1="303.8" x2="273.0" y2="307.8" stroke="#2a2a2a" stroke-width="2.4" stroke-linecap="round"/>
<line x1="283.6" y1="299.7" x2="289.8" y2="301.8" stroke="#cccc28" stroke-width="2.4" stroke-linecap="round"/>
<line x1="289.8" y1="301.8" x2="296.0" y2="303.8" stroke="#2a2a2a" stroke-width="2.4" stroke-linecap="round"/>
<line x1="283.6" y1="299.7" x2="288.9" y2="297.4" stroke="#cccc28" stroke-width="2.4" stroke-linecap="round"/>
<line x1="288.9" y1="297.4" x2="294.2" y2="295.2" stroke="#e42020" stroke-width="2.4" stroke-linecap="round"/>
<line x1="234.2" y1="300.1" x2="236.9" y2="301.0" stroke="#2a2a2a" stroke-width="2.0" stroke-linecap="round"/>
<line x1="236.9" y1="301.0" x2="239.5" y2="301.9" stroke="#bdbdbd" stroke-width="2.0" stroke-linecap="round"/>
<line x1="234.2" y1="300.1" x2="234.2" y2="303.2" stroke="#2a2a2a" stroke-width="2.0" stroke-linecap="round"/>
<line x1="234.2" y1="303.2" x2="234.3" y2="306.3" stroke="#bdbdbd" stroke-width="2.0" stroke-linecap="round"/>
<line x1="234.2" y1="300.1" x2="231.3" y2="300.4" stroke="#2a2a2a" stroke-width="2.0" stroke-linecap="round"/>
<line x1="231.3" y1="300.4" x2="228.4" y2="300.8" stroke="#bdbdbd" stroke-width="2.0" stroke-linecap="round"/>
<line x1="229.0" y1="277.3" x2="225.4" y2="277.9" stroke="#2a2a2a" stroke-width="2.0" stroke-linecap="round"/>
<line x1="225.4" y1="277.9" x2="221.8" y2="278.5" stroke="#bdbdbd" stroke-width="2.0" stroke-linecap="round"/>
<line x1="229.0" y1="277.3" x2="227.0" y2="274.9" stroke="#2a2a2a" stroke-width="2.0" stroke-linecap="round"/>
<line x1="227.0" y1="274.9" x2="225.0" y2="272.4" stroke="#bdbdbd" stroke-width="2.0" stroke-linecap="round"/>
<line x1="229.0" y1="277.3" x2="231.9" y2="275.3" stroke="#2a2a2a" stroke-width="2.0" stroke-linecap="round"/>
<line x1="231.9" y1="275.3" x2="234.7" y2="273.2" stroke="#bdbdbd" stroke-width="2.0" stroke-linecap="round"/>
<line x1="234.3" y1="288.7" x2="234.3" y2="294.4" stroke="#cccc28" stroke-width="2.4" stroke-linecap="round"/>
<line x1="234.3" y1="294.4" x2="234.2" y2="300.1" stroke="#2a2a2a" stroke-width="2.4" stroke-linecap="round"/>
<line x1="234.3" y1="288.7" x2="231.6" y2="283.0" stroke="#cccc28" stroke-width="2.4" stroke-linecap="round"/>
<line x1="231.6" y1="283.0" x2="229.0" y2="277.3" stroke="#2a2a2a" stroke-width="2.4" stroke-linecap="round"/>
<line x1="234.3" y1="288.7" x2="239.9" y2="287.4" stroke="#cccc28" stroke-width="2.4" stroke-linecap="round"/>
<line x1="239.9" y1="287.4" x2="245.5" y2="286.1" stroke="#e42020" stroke-width="2.4" stroke-linecap="round"/>
<line x1="246.6" y1="247.3" x2="249.0" y2="250.1" stroke="#2a2a2a" stroke-width="2.0" stroke-linecap="round"/>
<line x1="249.0" y1="250.1" x2="251.4" y2="252.8" stroke="#bdbdbd" stroke-width="2.0" stroke-linecap="round"/>
<line x1="246.6" y1="247.3" x2="245.7" y2="250.2" stroke="#2a2a2a" stroke-width="2.0" stroke-linecap="round"/>
<line x1="245.7" y1="250.2" x2="244.9" y2="253.2" stroke="#bdbdbd" stroke-width="2.0" stroke-linecap="round"/>
<line x1="246.6" y1="247.3" x2="243.3" y2="246.5" stroke="#2a2a2a" stroke-width="2.0" stroke-linecap="round"/>
<line x1="243.3" y1="246.5" x2="240.1" y2="245.6" stroke="#bdbdbd" stroke-width="2.0" stroke-linecap="round"/>
<line x1="251.6" y1="226.3" x2="248.4" y2="225.2" stroke="#2a2a2a" stroke-width="2.0" stroke-linecap="round"/>
<line x1="248.4" y1="225.2" x2="245.1" y2="224.0" stroke="#bdbdbd" stroke-width="2.0" stroke-linecap="round"/>
<line x1="251.6" y1="226.3" x2="251.7" y2="223.3" stroke="#2a2a2a" stroke-width="2.0" stroke-linecap="round"/>
<line x1="251.7" y1="223.3" x2="251.7" y2="220.3" stroke="#bdbdbd" stroke-width="2.0" stroke-linecap="round"/>
<line x1="251.6" y1="226.3" x2="254.7" y2="224.7" stroke="#2a2a2a" stroke-width="2.0" stroke-linecap="round"/>
<line x1="254.7" y1="224.7" x2="257.8" y2="223.0" stroke="#bdbdbd" stroke-width="2.0" stroke-linecap="round"/>
<line x1="250.4" y1="237.4" x2="248.5" y2="242.4" stroke="#cccc28" stroke-width="2.4" stroke-linecap="round"/>
<line x1="248.5" y1="242.4" x2="246.6" y2="247.3" stroke="#2a2a2a" stroke-width="2.4" stroke-linecap="round"/>
<line x1="250.4" y1="237.4" x2="251.0" y2="231.9" stroke="#cccc28" stroke-width="2.4" stroke-linecap="round"/>
<line x1="251.0" y1="231.9" x2="251.6" y2="226.3" stroke="#2a2a2a" stroke-width="2.4" stroke-linecap="round"/>
<line x1="250.4" y1="237.4" x2="256.0" y2="238.9" stroke="#cccc28" stroke-width="2.4" stroke-linecap="round"/>
<line x1="256.0" y1="238.9" x2="261.5" y2="240.3" stroke="#e42020" stroke-width="2.4" stroke-linecap="round"/>
<line x1="103.2" y1="76.7" x2="99.9" y2="74.8" stroke="#444" stroke-width="3.2" stroke-linecap="round"/>
<line x1="99.9" y1="74.8" x2="96.7" y2="72.9" stroke="#c4c4c4" stroke-width="3.2" stroke-linecap="round"/>
<line x1="114.0" y1="70.4" x2="114.0" y2="66.7" stroke="#444" stroke-width="3.2" stroke-linecap="round"/>
<line x1="114.0" y1="66.7" x2="114.0" y2="62.9" stroke="#c4c4c4" stroke-width="3.2" stroke-linecap="round"/>
<line x1="124.8" y1="76.7" x2="128.1" y2="74.8" stroke="#444" stroke-width="3.2" stroke-linecap="round"/>
<line x1="128.1" y1="74.8" x2="131.3" y2="72.9" stroke="#c4c4c4" stroke-width="3.2" stroke-linecap="round"/>
<line x1="159.7" y1="90.7" x2="156.4" y2="92.5" stroke="#444" stroke-width="3.2" stroke-linecap="round"/>
<line x1="156.4" y1="92.5" x2="153.2" y2="94.4" stroke="#c4c4c4" stroke-width="3.2" stroke-linecap="round"/>
<line x1="159.7" y1="78.2" x2="156.4" y2="76.3" stroke="#444" stroke-width="3.2" stroke-linecap="round"/>
<line x1="156.4" y1="76.3" x2="153.2" y2="74.4" stroke="#c4c4c4" stroke-width="3.2" stroke-linecap="round"/>
<line x1="170.5" y1="71.9" x2="170.5" y2="68.2" stroke="#444" stroke-width="3.2" stroke-linecap="round"/>
<line x1="170.5" y1="68.2" x2="170.5" y2="64.4" stroke="#c4c4c4" stroke-width="3.2" stroke-linecap="round"/>
<line x1="181.3" y1="78.2" x2="184.6" y2="76.3" stroke="#444" stroke-width="3.2" stroke-linecap="round"/>
<line x1="184.6" y1="76.3" x2="187.8" y2="74.4" stroke="#c4c4c4" stroke-width="3.2" stroke-linecap="round"/>
<line x1="141.0" y1="114.2" x2="141.0" y2="118.0" stroke="#444" stroke-width="3.2" stroke-linecap="round"/>
<line x1="141.0" y1="118.0" x2="141.0" y2="121.7" stroke="#c4c4c4" stroke-width="3.2" stroke-linecap="round"/>
<line x1="109.0" y1="140.4" x2="110.8" y2="143.7" stroke="#444" stroke-width="3.2" stroke-linecap="round"/>
<line x1="110.8" y1="143.7" x2="112.6" y2="147.0" stroke="#c4c4c4" stroke-width="3.2" stroke-linecap="round"/>
<line x1="97.5" y1="140.4" x2="95.8" y2="143.7" stroke="#444" stroke-width="3.2" stroke-linecap="round"/>
<line x1="95.8" y1="143.7" x2="94.0" y2="147.0" stroke="#c4c4c4" stroke-width="3.2" stroke-linecap="round"/>
<line x1="91.8" y1="129.6" x2="88.0" y2="129.6" stroke="#444" stroke-width="3.2" stroke-linecap="round"/>
<line x1="88.0" y1="129.6" x2="84.3" y2="129.6" stroke="#c4c4c4" stroke-width="3.2" stroke-linecap="round"/>
<line x1="109.0" y1="118.8" x2="110.8" y2="115.5" stroke="#444" stroke-width="3.2" stroke-linecap="round"/>
<line x1="110.8" y1="115.5" x2="112.6" y2="112.2" stroke="#c4c4c4" stroke-width="3.2" stroke-linecap="round"/>
<line x1="186.3" y1="127.2" x2="190.0" y2="127.8" stroke="#444" stroke-width="3.2" stroke-linecap="round"/>
<line x1="190.0" y1="127.8" x2="193.7" y2="128.5" stroke="#c4c4c4" stroke-width="3.2" stroke-linecap="round"/>
<line x1="166.0" y1="134.6" x2="163.6" y2="137.4" stroke="#444" stroke-width="3.2" stroke-linecap="round"/>
<line x1="163.6" y1="137.4" x2="161.1" y2="140.3" stroke="#c4c4c4" stroke-width="3.2" stroke-linecap="round"/>
<line x1="161.7" y1="122.8" x2="158.0" y2="122.2" stroke="#444" stroke-width="3.2" stroke-linecap="round"/>
<line x1="158.0" y1="122.2" x2="154.3" y2="121.5" stroke="#c4c4c4" stroke-width="3.2" stroke-linecap="round"/>
<line x1="169.7" y1="113.3" x2="168.4" y2="109.7" stroke="#444" stroke-width="3.2" stroke-linecap="round"/>
<line x1="168.4" y1="109.7" x2="167.2" y2="106.2" stroke="#c4c4c4" stroke-width="3.2" stroke-linecap="round"/>
<line x1="182.0" y1="115.4" x2="184.4" y2="112.6" stroke="#444" stroke-width="3.2" stroke-linecap="round"/>
<line x1="184.4" y1="112.6" x2="186.9" y2="109.7" stroke="#c4c4c4" stroke-width="3.2" stroke-linecap="round"/>
<line x1="152.2" y1="150.1" x2="155.4" y2="152.0" stroke="#444" stroke-width="3.2" stroke-linecap="round"/>
<line x1="155.4" y1="152.0" x2="158.7" y2="153.8" stroke="#c4c4c4" stroke-width="3.2" stroke-linecap="round"/>
<line x1="142.5" y1="133.3" x2="142.5" y2="129.6" stroke="#444" stroke-width="3.2" stroke-linecap="round"/>
<line x1="142.5" y1="129.6" x2="142.5" y2="125.8" stroke="#c4c4c4" stroke-width="3.2" stroke-linecap="round"/>
<line x1="152.2" y1="138.9" x2="155.4" y2="137.0" stroke="#444" stroke-width="3.2" stroke-linecap="round"/>
<line x1="155.4" y1="137.0" x2="158.7" y2="135.2" stroke="#c4c4c4" stroke-width="3.2" stroke-linecap="round"/>
<line x1="151.3" y1="189.8" x2="154.6" y2="191.6" stroke="#444" stroke-width="3.2" stroke-linecap="round"/>
<line x1="154.6" y1="191.6" x2="157.8" y2="193.5" stroke="#c4c4c4" stroke-width="3.2" stroke-linecap="round"/>
<line x1="140.5" y1="196.0" x2="140.5" y2="199.8" stroke="#444" stroke-width="3.2" stroke-linecap="round"/>
<line x1="140.5" y1="199.8" x2="140.5" y2="203.5" stroke="#c4c4c4" stroke-width="3.2" stroke-linecap="round"/>
<line x1="129.7" y1="177.2" x2="126.4" y2="175.4" stroke="#444" stroke-width="3.2" stroke-linecap="round"/>
<line x1="126.4" y1="175.4" x2="123.2" y2="173.5" stroke="#c4c4c4" stroke-width="3.2" stroke-linecap="round"/>
<line x1="140.5" y1="171.0" x2="140.5" y2="167.2" stroke="#444" stroke-width="3.2" stroke-linecap="round"/>
<line x1="140.5" y1="167.2" x2="140.5" y2="163.5" stroke="#c4c4c4" stroke-width="3.2" stroke-linecap="round"/>
<line x1="151.3" y1="177.2" x2="154.6" y2="175.4" stroke="#444" stroke-width="3.2" stroke-linecap="round"/>
<line x1="154.6" y1="175.4" x2="157.8" y2="173.5" stroke="#c4c4c4" stroke-width="3.2" stroke-linecap="round"/>
<line x1="131.3" y1="97.4" x2="124.8" y2="89.2" stroke="#1e1e1e" stroke-width="4" stroke-linecap="round"/>
<line x1="150.7" y1="97.4" x2="159.7" y2="90.7" stroke="#1e1e1e" stroke-width="4" stroke-linecap="round"/>
<line x1="141.0" y1="114.2" x2="142.5" y2="133.3" stroke="#1e1e1e" stroke-width="4" stroke-linecap="round"/>
<line x1="132.8" y1="138.9" x2="114.8" y2="129.6" stroke="#1e1e1e" stroke-width="4" stroke-linecap="round"/>
<line x1="152.2" y1="138.9" x2="161.7" y2="122.8" stroke="#1e1e1e" stroke-width="4" stroke-linecap="round"/>
<line x1="142.5" y1="155.7" x2="140.5" y2="171.0" stroke="#1e1e1e" stroke-width="4" stroke-linecap="round"/>
<path d="M124.8,89.2 L114.0,95.4 L103.2,89.2 L103.2,76.7 L114.0,70.4 L124.8,76.7Z" fill="none" stroke="#1c1c1c" stroke-width="5" stroke-linejoin="round"/>
<path d="M124.8,89.2 L114.0,95.4 L103.2,89.2 L103.2,76.7 L114.0,70.4 L124.8,76.7Z" fill="none" stroke="#555" stroke-width="0.9" stroke-linejoin="round"/>
<circle cx="124.8" cy="89.2" r="2.9" fill="#222"/>
<circle cx="114.0" cy="95.4" r="2.9" fill="#222"/>
<circle cx="103.2" cy="89.2" r="2.9" fill="#222"/>
<circle cx="103.2" cy="76.7" r="2.9" fill="#222"/>
<circle cx="114.0" cy="70.4" r="2.9" fill="#222"/>
<circle cx="124.8" cy="76.7" r="2.9" fill="#222"/>
<path d="M181.3,90.7 L170.5,96.9 L159.7,90.7 L159.7,78.2 L170.5,71.9 L181.3,78.2Z" fill="none" stroke="#1c1c1c" stroke-width="5" stroke-linejoin="round"/>
<path d="M181.3,90.7 L170.5,96.9 L159.7,90.7 L159.7,78.2 L170.5,71.9 L181.3,78.2Z" fill="none" stroke="#555" stroke-width="0.9" stroke-linejoin="round"/>
<circle cx="181.3" cy="90.7" r="2.9" fill="#222"/>
<circle cx="170.5" cy="96.9" r="2.9" fill="#222"/>
<circle cx="159.7" cy="90.7" r="2.9" fill="#222"/>
<circle cx="159.7" cy="78.2" r="2.9" fill="#222"/>
<circle cx="170.5" cy="71.9" r="2.9" fill="#222"/>
<circle cx="181.3" cy="78.2" r="2.9" fill="#222"/>
<path d="M150.7,108.6 L141.0,114.2 L131.3,108.6 L131.3,97.4 L141.0,91.8 L150.7,97.4Z" fill="none" stroke="#1c1c1c" stroke-width="5" stroke-linejoin="round"/>
<path d="M150.7,108.6 L141.0,114.2 L131.3,108.6 L131.3,97.4 L141.0,91.8 L150.7,97.4Z" fill="none" stroke="#555" stroke-width="0.9" stroke-linejoin="round"/>
<circle cx="150.7" cy="108.6" r="2.9" fill="#222"/>
<circle cx="141.0" cy="114.2" r="2.9" fill="#222"/>
<circle cx="131.3" cy="108.6" r="2.9" fill="#222"/>
<circle cx="131.3" cy="97.4" r="2.9" fill="#222"/>
<circle cx="141.0" cy="91.8" r="2.9" fill="#222"/>
<circle cx="150.7" cy="97.4" r="2.9" fill="#222"/>
<path d="M114.8,129.6 L109.0,140.4 L97.5,140.4 L91.8,129.6 L97.5,118.8 L109.0,118.8Z" fill="none" stroke="#1c1c1c" stroke-width="5" stroke-linejoin="round"/>
<path d="M114.8,129.6 L109.0,140.4 L97.5,140.4 L91.8,129.6 L97.5,118.8 L109.0,118.8Z" fill="none" stroke="#555" stroke-width="0.9" stroke-linejoin="round"/>
<circle cx="114.8" cy="129.6" r="2.9" fill="#222"/>
<circle cx="109.0" cy="140.4" r="2.9" fill="#222"/>
<circle cx="97.5" cy="140.4" r="2.9" fill="#222"/>
<circle cx="91.8" cy="129.6" r="2.9" fill="#222"/>
<circle cx="97.5" cy="118.8" r="2.9" fill="#222"/>
<circle cx="109.0" cy="118.8" r="2.9" fill="#222"/>
<path d="M186.3,127.2 L178.3,136.7 L166.0,134.6 L161.7,122.8 L169.7,113.3 L182.0,115.4Z" fill="none" stroke="#1c1c1c" stroke-width="5" stroke-linejoin="round"/>
<path d="M186.3,127.2 L178.3,136.7 L166.0,134.6 L161.7,122.8 L169.7,113.3 L182.0,115.4Z" fill="none" stroke="#555" stroke-width="0.9" stroke-linejoin="round"/>
<circle cx="186.3" cy="127.2" r="2.9" fill="#222"/>
<circle cx="178.3" cy="136.7" r="2.9" fill="#222"/>
<circle cx="166.0" cy="134.6" r="2.9" fill="#222"/>
<circle cx="161.7" cy="122.8" r="2.9" fill="#222"/>
<circle cx="169.7" cy="113.3" r="2.9" fill="#222"/>
<circle cx="182.0" cy="115.4" r="2.9" fill="#222"/>
<path d="M152.2,150.1 L142.5,155.7 L132.8,150.1 L132.8,138.9 L142.5,133.3 L152.2,138.9Z" fill="none" stroke="#1c1c1c" stroke-width="5" stroke-linejoin="round"/>
<path d="M152.2,150.1 L142.5,155.7 L132.8,150.1 L132.8,138.9 L142.5,133.3 L152.2,138.9Z" fill="none" stroke="#555" stroke-width="0.9" stroke-linejoin="round"/>
<circle cx="152.2" cy="150.1" r="2.9" fill="#222"/>
<circle cx="142.5" cy="155.7" r="2.9" fill="#222"/>
<circle cx="132.8" cy="150.1" r="2.9" fill="#222"/>
<circle cx="132.8" cy="138.9" r="2.9" fill="#222"/>
<circle cx="142.5" cy="133.3" r="2.9" fill="#222"/>
<circle cx="152.2" cy="138.9" r="2.9" fill="#222"/>
<path d="M151.3,189.8 L140.5,196.0 L129.7,189.8 L129.7,177.2 L140.5,171.0 L151.3,177.2Z" fill="none" stroke="#1c1c1c" stroke-width="5" stroke-linejoin="round"/>
<path d="M151.3,189.8 L140.5,196.0 L129.7,189.8 L129.7,177.2 L140.5,171.0 L151.3,177.2Z" fill="none" stroke="#555" stroke-width="0.9" stroke-linejoin="round"/>
<circle cx="151.3" cy="189.8" r="2.9" fill="#222"/>
<circle cx="140.5" cy="196.0" r="2.9" fill="#222"/>
<circle cx="129.7" cy="189.8" r="2.9" fill="#222"/>
<circle cx="129.7" cy="177.2" r="2.9" fill="#222"/>
<circle cx="140.5" cy="171.0" r="2.9" fill="#222"/>
<circle cx="151.3" cy="177.2" r="2.9" fill="#222"/>
<circle cx="141.5" cy="130.8" r="3.3" fill="#2a2aff"/>
<circle cx="140.7" cy="77.3" r="3.6" fill="#e22020"/>
<line x1="141.2" y1="129.5" x2="140.9" y2="92.8" stroke="#8cd232" stroke-width="4.4"/>
<path d="M140.8,79.8 L146.1,92.8 L140.9,88.8 L135.7,92.8Z" fill="#8cd232"/>
<line x1="203.3" y1="190.5" x2="205.2" y2="187.3" stroke="#444" stroke-width="3.2" stroke-linecap="round"/>
<line x1="205.2" y1="187.3" x2="207.1" y2="184.0" stroke="#c4c4c4" stroke-width="3.2" stroke-linecap="round"/>
<line x1="222.0" y1="247.1" x2="223.9" y2="250.3" stroke="#444" stroke-width="3.2" stroke-linecap="round"/>
<line x1="223.9" y1="250.3" x2="225.8" y2="253.6" stroke="#c4c4c4" stroke-width="3.2" stroke-linecap="round"/>
<line x1="210.0" y1="247.1" x2="208.1" y2="250.3" stroke="#444" stroke-width="3.2" stroke-linecap="round"/>
<line x1="208.1" y1="250.3" x2="206.2" y2="253.6" stroke="#c4c4c4" stroke-width="3.2" stroke-linecap="round"/>
<line x1="204.0" y1="236.7" x2="200.2" y2="236.7" stroke="#444" stroke-width="3.2" stroke-linecap="round"/>
<line x1="200.2" y1="236.7" x2="196.5" y2="236.7" stroke="#c4c4c4" stroke-width="3.2" stroke-linecap="round"/>
<line x1="222.0" y1="226.3" x2="223.9" y2="223.1" stroke="#444" stroke-width="3.2" stroke-linecap="round"/>
<line x1="223.9" y1="223.1" x2="225.8" y2="219.8" stroke="#c4c4c4" stroke-width="3.2" stroke-linecap="round"/>
<line x1="248.5" y1="242.2" x2="252.2" y2="242.0" stroke="#444" stroke-width="3.2" stroke-linecap="round"/>
<line x1="252.2" y1="242.0" x2="256.0" y2="241.7" stroke="#c4c4c4" stroke-width="3.2" stroke-linecap="round"/>
<line x1="243.7" y1="252.1" x2="245.7" y2="255.2" stroke="#444" stroke-width="3.2" stroke-linecap="round"/>
<line x1="245.7" y1="255.2" x2="247.8" y2="258.3" stroke="#c4c4c4" stroke-width="3.2" stroke-linecap="round"/>
<line x1="232.7" y1="252.9" x2="231.0" y2="256.3" stroke="#444" stroke-width="3.2" stroke-linecap="round"/>
<line x1="231.0" y1="256.3" x2="229.4" y2="259.6" stroke="#c4c4c4" stroke-width="3.2" stroke-linecap="round"/>
<line x1="231.3" y1="233.9" x2="229.3" y2="230.8" stroke="#444" stroke-width="3.2" stroke-linecap="round"/>
<line x1="229.3" y1="230.8" x2="227.2" y2="227.7" stroke="#c4c4c4" stroke-width="3.2" stroke-linecap="round"/>
<line x1="242.3" y1="233.1" x2="244.0" y2="229.7" stroke="#444" stroke-width="3.2" stroke-linecap="round"/>
<line x1="244.0" y1="229.7" x2="245.6" y2="226.4" stroke="#c4c4c4" stroke-width="3.2" stroke-linecap="round"/>
<line x1="267.1" y1="237.4" x2="270.5" y2="238.9" stroke="#444" stroke-width="3.2" stroke-linecap="round"/>
<line x1="270.5" y1="238.9" x2="274.0" y2="240.4" stroke="#c4c4c4" stroke-width="3.2" stroke-linecap="round"/>
<line x1="249.7" y1="241.0" x2="247.0" y2="243.6" stroke="#444" stroke-width="3.2" stroke-linecap="round"/>
<line x1="247.0" y1="243.6" x2="244.3" y2="246.3" stroke="#c4c4c4" stroke-width="3.2" stroke-linecap="round"/>
<line x1="247.9" y1="229.2" x2="244.5" y2="227.7" stroke="#444" stroke-width="3.2" stroke-linecap="round"/>
<line x1="244.5" y1="227.7" x2="241.0" y2="226.2" stroke="#c4c4c4" stroke-width="3.2" stroke-linecap="round"/>
<line x1="244.4" y1="278.5" x2="246.5" y2="281.6" stroke="#444" stroke-width="3.2" stroke-linecap="round"/>
<line x1="246.5" y1="281.6" x2="248.6" y2="284.8" stroke="#c4c4c4" stroke-width="3.2" stroke-linecap="round"/>
<line x1="233.0" y1="279.3" x2="231.3" y2="282.7" stroke="#444" stroke-width="3.2" stroke-linecap="round"/>
<line x1="231.3" y1="282.7" x2="229.7" y2="286.1" stroke="#c4c4c4" stroke-width="3.2" stroke-linecap="round"/>
<line x1="290.1" y1="265.5" x2="293.9" y2="265.5" stroke="#444" stroke-width="3.2" stroke-linecap="round"/>
<line x1="293.9" y1="265.5" x2="297.6" y2="265.5" stroke="#c4c4c4" stroke-width="3.2" stroke-linecap="round"/>
<line x1="283.9" y1="276.3" x2="285.7" y2="279.6" stroke="#444" stroke-width="3.2" stroke-linecap="round"/>
<line x1="285.7" y1="279.6" x2="287.6" y2="282.8" stroke="#c4c4c4" stroke-width="3.2" stroke-linecap="round"/>
<line x1="271.4" y1="276.3" x2="269.5" y2="279.6" stroke="#444" stroke-width="3.2" stroke-linecap="round"/>
<line x1="269.5" y1="279.6" x2="267.6" y2="282.8" stroke="#c4c4c4" stroke-width="3.2" stroke-linecap="round"/>
<line x1="265.1" y1="265.5" x2="261.4" y2="265.5" stroke="#444" stroke-width="3.2" stroke-linecap="round"/>
<line x1="261.4" y1="265.5" x2="257.6" y2="265.5" stroke="#c4c4c4" stroke-width="3.2" stroke-linecap="round"/>
<line x1="283.9" y1="254.7" x2="285.7" y2="251.4" stroke="#444" stroke-width="3.2" stroke-linecap="round"/>
<line x1="285.7" y1="251.4" x2="287.6" y2="248.2" stroke="#c4c4c4" stroke-width="3.2" stroke-linecap="round"/>
<line x1="202.4" y1="278.2" x2="203.7" y2="281.8" stroke="#444" stroke-width="3.2" stroke-linecap="round"/>
<line x1="203.7" y1="281.8" x2="204.9" y2="285.3" stroke="#c4c4c4" stroke-width="3.2" stroke-linecap="round"/>
<line x1="185.8" y1="264.3" x2="182.1" y2="263.7" stroke="#444" stroke-width="3.2" stroke-linecap="round"/>
<line x1="182.1" y1="263.7" x2="178.4" y2="263.0" stroke="#c4c4c4" stroke-width="3.2" stroke-linecap="round"/>
<line x1="193.8" y1="254.8" x2="192.5" y2="251.2" stroke="#444" stroke-width="3.2" stroke-linecap="round"/>
<line x1="192.5" y1="251.2" x2="191.3" y2="247.7" stroke="#c4c4c4" stroke-width="3.2" stroke-linecap="round"/>
<line x1="225.2" y1="318.2" x2="227.1" y2="321.4" stroke="#444" stroke-width="3.2" stroke-linecap="round"/>
<line x1="227.1" y1="321.4" x2="229.0" y2="324.7" stroke="#c4c4c4" stroke-width="3.2" stroke-linecap="round"/>
<line x1="211.8" y1="318.2" x2="209.9" y2="321.4" stroke="#444" stroke-width="3.2" stroke-linecap="round"/>
<line x1="209.9" y1="321.4" x2="208.0" y2="324.7" stroke="#c4c4c4" stroke-width="3.2" stroke-linecap="round"/>
<line x1="211.8" y1="294.8" x2="209.9" y2="291.6" stroke="#444" stroke-width="3.2" stroke-linecap="round"/>
<line x1="209.9" y1="291.6" x2="208.0" y2="288.3" stroke="#c4c4c4" stroke-width="3.2" stroke-linecap="round"/>
<line x1="225.2" y1="294.8" x2="227.1" y2="291.6" stroke="#444" stroke-width="3.2" stroke-linecap="round"/>
<line x1="227.1" y1="291.6" x2="229.0" y2="288.3" stroke="#c4c4c4" stroke-width="3.2" stroke-linecap="round"/>
<line x1="265.5" y1="261.3" x2="269.2" y2="261.0" stroke="#444" stroke-width="3.2" stroke-linecap="round"/>
<line x1="269.2" y1="261.0" x2="273.0" y2="260.6" stroke="#c4c4c4" stroke-width="3.2" stroke-linecap="round"/>
<line x1="262.0" y1="270.3" x2="263.8" y2="273.6" stroke="#444" stroke-width="3.2" stroke-linecap="round"/>
<line x1="263.8" y1="273.6" x2="265.5" y2="276.9" stroke="#c4c4c4" stroke-width="3.2" stroke-linecap="round"/>
<line x1="254.0" y1="271.0" x2="252.6" y2="274.5" stroke="#444" stroke-width="3.2" stroke-linecap="round"/>
<line x1="252.6" y1="274.5" x2="251.3" y2="278.0" stroke="#c4c4c4" stroke-width="3.2" stroke-linecap="round"/>
<line x1="249.5" y1="262.7" x2="245.8" y2="263.0" stroke="#444" stroke-width="3.2" stroke-linecap="round"/>
<line x1="245.8" y1="263.0" x2="242.0" y2="263.4" stroke="#c4c4c4" stroke-width="3.2" stroke-linecap="round"/>
<line x1="261.0" y1="253.0" x2="262.4" y2="249.5" stroke="#444" stroke-width="3.2" stroke-linecap="round"/>
<line x1="262.4" y1="249.5" x2="263.7" y2="246.0" stroke="#c4c4c4" stroke-width="3.2" stroke-linecap="round"/>
<line x1="219.8" y1="226.5" x2="202.1" y2="212.2" stroke="#1e1e1e" stroke-width="4" stroke-linecap="round"/>
<line x1="225.8" y1="236.5" x2="225.8" y2="243.0" stroke="#1e1e1e" stroke-width="4" stroke-linecap="round"/>
<line x1="246.8" y1="240.0" x2="248.5" y2="235.3" stroke="#1e1e1e" stroke-width="4" stroke-linecap="round"/>
<line x1="221.3" y1="246.4" x2="232.0" y2="259.5" stroke="#1e1e1e" stroke-width="4" stroke-linecap="round"/>
<line x1="249.0" y1="268.5" x2="266.1" y2="265.5" stroke="#1e1e1e" stroke-width="4" stroke-linecap="round"/>
<line x1="206.8" y1="244.5" x2="204.1" y2="257.5" stroke="#1e1e1e" stroke-width="4" stroke-linecap="round"/>
<line x1="234.0" y1="278.5" x2="223.2" y2="296.8" stroke="#1e1e1e" stroke-width="4" stroke-linecap="round"/>
<path d="M209.8,201.8 L203.3,213.1 L190.3,213.1 L183.8,201.8 L190.3,190.5 L203.3,190.5Z" fill="none" stroke="#1c1c1c" stroke-width="5" stroke-linejoin="round"/>
<path d="M209.8,201.8 L203.3,213.1 L190.3,213.1 L183.8,201.8 L190.3,190.5 L203.3,190.5Z" fill="none" stroke="#555" stroke-width="0.9" stroke-linejoin="round"/>
<circle cx="209.8" cy="201.8" r="2.9" fill="#222"/>
<circle cx="203.3" cy="213.1" r="2.9" fill="#222"/>
<circle cx="190.3" cy="213.1" r="2.9" fill="#222"/>
<circle cx="183.8" cy="201.8" r="2.9" fill="#222"/>
<circle cx="190.3" cy="190.5" r="2.9" fill="#222"/>
<circle cx="203.3" cy="190.5" r="2.9" fill="#222"/>
<path d="M228.0,236.7 L222.0,247.1 L210.0,247.1 L204.0,236.7 L210.0,226.3 L222.0,226.3Z" fill="none" stroke="#1c1c1c" stroke-width="5" stroke-linejoin="round"/>
<path d="M228.0,236.7 L222.0,247.1 L210.0,247.1 L204.0,236.7 L210.0,226.3 L222.0,226.3Z" fill="none" stroke="#555" stroke-width="0.9" stroke-linejoin="round"/>
<circle cx="228.0" cy="236.7" r="2.9" fill="#222"/>
<circle cx="222.0" cy="247.1" r="2.9" fill="#222"/>
<circle cx="210.0" cy="247.1" r="2.9" fill="#222"/>
<circle cx="204.0" cy="236.7" r="2.9" fill="#222"/>
<circle cx="210.0" cy="226.3" r="2.9" fill="#222"/>
<circle cx="222.0" cy="226.3" r="2.9" fill="#222"/>
<path d="M248.5,242.2 L243.7,252.1 L232.7,252.9 L226.5,243.8 L231.3,233.9 L242.3,233.1Z" fill="none" stroke="#1c1c1c" stroke-width="5" stroke-linejoin="round"/>
<path d="M248.5,242.2 L243.7,252.1 L232.7,252.9 L226.5,243.8 L231.3,233.9 L242.3,233.1Z" fill="none" stroke="#555" stroke-width="0.9" stroke-linejoin="round"/>
<circle cx="248.5" cy="242.2" r="2.9" fill="#222"/>
<circle cx="243.7" cy="252.1" r="2.9" fill="#222"/>
<circle cx="232.7" cy="252.9" r="2.9" fill="#222"/>
<circle cx="226.5" cy="243.8" r="2.9" fill="#222"/>
<circle cx="231.3" cy="233.9" r="2.9" fill="#222"/>
<circle cx="242.3" cy="233.1" r="2.9" fill="#222"/>
<path d="M267.1,237.4 L259.3,245.1 L249.7,241.0 L247.9,229.2 L255.7,221.5 L265.3,225.6Z" fill="none" stroke="#1c1c1c" stroke-width="5" stroke-linejoin="round"/>
<path d="M267.1,237.4 L259.3,245.1 L249.7,241.0 L247.9,229.2 L255.7,221.5 L265.3,225.6Z" fill="none" stroke="#555" stroke-width="0.9" stroke-linejoin="round"/>
<circle cx="267.1" cy="237.4" r="2.9" fill="#222"/>
<circle cx="259.3" cy="245.1" r="2.9" fill="#222"/>
<circle cx="249.7" cy="241.0" r="2.9" fill="#222"/>
<circle cx="247.9" cy="229.2" r="2.9" fill="#222"/>
<circle cx="255.7" cy="221.5" r="2.9" fill="#222"/>
<circle cx="265.3" cy="225.6" r="2.9" fill="#222"/>
<path d="M249.5,268.2 L244.4,278.5 L233.0,279.3 L226.5,269.8 L231.6,259.5 L243.0,258.7Z" fill="none" stroke="#1c1c1c" stroke-width="5" stroke-linejoin="round"/>
<path d="M249.5,268.2 L244.4,278.5 L233.0,279.3 L226.5,269.8 L231.6,259.5 L243.0,258.7Z" fill="none" stroke="#555" stroke-width="0.9" stroke-linejoin="round"/>
<circle cx="249.5" cy="268.2" r="2.9" fill="#222"/>
<circle cx="244.4" cy="278.5" r="2.9" fill="#222"/>
<circle cx="233.0" cy="279.3" r="2.9" fill="#222"/>
<circle cx="226.5" cy="269.8" r="2.9" fill="#222"/>
<circle cx="231.6" cy="259.5" r="2.9" fill="#222"/>
<circle cx="243.0" cy="258.7" r="2.9" fill="#222"/>
<path d="M290.1,265.5 L283.9,276.3 L271.4,276.3 L265.1,265.5 L271.4,254.7 L283.9,254.7Z" fill="none" stroke="#1c1c1c" stroke-width="5" stroke-linejoin="round"/>
<path d="M290.1,265.5 L283.9,276.3 L271.4,276.3 L265.1,265.5 L271.4,254.7 L283.9,254.7Z" fill="none" stroke="#555" stroke-width="0.9" stroke-linejoin="round"/>
<circle cx="290.1" cy="265.5" r="2.9" fill="#222"/>
<circle cx="283.9" cy="276.3" r="2.9" fill="#222"/>
<circle cx="271.4" cy="276.3" r="2.9" fill="#222"/>
<circle cx="265.1" cy="265.5" r="2.9" fill="#222"/>
<circle cx="271.4" cy="254.7" r="2.9" fill="#222"/>
<circle cx="283.9" cy="254.7" r="2.9" fill="#222"/>
<path d="M210.4,268.7 L202.4,278.2 L190.1,276.1 L185.8,264.3 L193.8,254.8 L206.1,256.9Z" fill="none" stroke="#1c1c1c" stroke-width="5" stroke-linejoin="round"/>
<path d="M210.4,268.7 L202.4,278.2 L190.1,276.1 L185.8,264.3 L193.8,254.8 L206.1,256.9Z" fill="none" stroke="#555" stroke-width="0.9" stroke-linejoin="round"/>
<circle cx="210.4" cy="268.7" r="2.9" fill="#222"/>
<circle cx="202.4" cy="278.2" r="2.9" fill="#222"/>
<circle cx="190.1" cy="276.1" r="2.9" fill="#222"/>
<circle cx="185.8" cy="264.3" r="2.9" fill="#222"/>
<circle cx="193.8" cy="254.8" r="2.9" fill="#222"/>
<circle cx="206.1" cy="256.9" r="2.9" fill="#222"/>
<path d="M232.0,306.5 L225.2,318.2 L211.8,318.2 L205.0,306.5 L211.8,294.8 L225.2,294.8Z" fill="none" stroke="#1c1c1c" stroke-width="5" stroke-linejoin="round"/>
<path d="M232.0,306.5 L225.2,318.2 L211.8,318.2 L205.0,306.5 L211.8,294.8 L225.2,294.8Z" fill="none" stroke="#555" stroke-width="0.9" stroke-linejoin="round"/>
<circle cx="232.0" cy="306.5" r="2.9" fill="#222"/>
<circle cx="225.2" cy="318.2" r="2.9" fill="#222"/>
<circle cx="211.8" cy="318.2" r="2.9" fill="#222"/>
<circle cx="205.0" cy="306.5" r="2.9" fill="#222"/>
<circle cx="211.8" cy="294.8" r="2.9" fill="#222"/>
<circle cx="225.2" cy="294.8" r="2.9" fill="#222"/>
<path d="M265.5,261.3 L262.0,270.3 L254.0,271.0 L249.5,262.7 L253.0,253.7 L261.0,253.0Z" fill="none" stroke="#1c1c1c" stroke-width="5" stroke-linejoin="round"/>
<path d="M265.5,261.3 L262.0,270.3 L254.0,271.0 L249.5,262.7 L253.0,253.7 L261.0,253.0Z" fill="none" stroke="#555" stroke-width="0.9" stroke-linejoin="round"/>
<circle cx="265.5" cy="261.3" r="2.9" fill="#222"/>
<circle cx="262.0" cy="270.3" r="2.9" fill="#222"/>
<circle cx="254.0" cy="271.0" r="2.9" fill="#222"/>
<circle cx="249.5" cy="262.7" r="2.9" fill="#222"/>
<circle cx="253.0" cy="253.7" r="2.9" fill="#222"/>
<circle cx="261.0" cy="253.0" r="2.9" fill="#222"/>
<circle cx="221.3" cy="246.4" r="3.3" fill="#2a2aff"/>
<circle cx="251.4" cy="290.8" r="3.6" fill="#e22020"/>
<line x1="221.8" y1="247" x2="243.2" y2="278.7" stroke="#8cd232" stroke-width="4.4"/>
<path d="M250.5,289.5 L238.9,281.6 L245.5,282.0 L247.5,275.8Z" fill="#8cd232"/>
</g>
<text x="134.5" y="106.5" font-size="9" style="fill:#444;font-family:&quot;Liberation Serif&quot;,serif">μ</text>
<text x="238.5" y="270" font-size="9" style="fill:#444;font-family:&quot;Liberation Serif&quot;,serif">μ</text>
<line x1="348.6" y1="53.6" x2="421" y2="53.6" stroke="#ff0000" stroke-width="4.8"/>
<line x1="349.6" y1="148.8" x2="421" y2="148.8" stroke="#ff0000" stroke-width="4.8"/>
<line x1="384.2" y1="148" x2="384.2" y2="66.1" stroke="#ff0000" stroke-width="1.9"/>
<path d="M384.2,56.1 L389.0,74.6 L384.2,69.1 L379.4,74.6 Z" fill="#ff0000"/>
<line x1="436.4" y1="65.2" x2="507.8" y2="65.2" stroke="#000" stroke-width="4.8"/>
<line x1="436.4" y1="168.1" x2="507.8" y2="168.1" stroke="#000" stroke-width="4.8"/>
<line x1="471.2" y1="167" x2="471.2" y2="77.5" stroke="#000" stroke-width="1.9"/>
<path d="M471.2,67.5 L476.0,86.0 L471.2,80.5 L466.4,86.0 Z" fill="#000"/>
<line x1="523.7" y1="76.4" x2="595.4" y2="76.4" stroke="#0000ff" stroke-width="4.8"/>
<line x1="523.7" y1="189.9" x2="595.4" y2="189.9" stroke="#0000ff" stroke-width="4.8"/>
<line x1="559.7" y1="189" x2="559.7" y2="88.8" stroke="#0000ff" stroke-width="1.9"/>
<path d="M559.7,78.8 L564.5,97.3 L559.7,91.8 L554.9000000000001,97.3 Z" fill="#0000ff"/>
<text x="324" y="63" class="t21">S<tspan class="t15" dy="5">1</tspan></text>
<text x="324" y="157.5" class="t21">S<tspan class="t15" dy="5">0</tspan></text>
<text x="347.5" y="35.5" class="t18"><tspan class="serif">Δμ·</tspan><tspan font-weight="bold">E</tspan><tspan class="r12" dy="4">loc</tspan><tspan dy="-4">&gt;0</tspan></text>
<text x="434.5" y="35.5" class="t18"><tspan class="serif">Δμ·</tspan><tspan font-weight="bold">E</tspan><tspan class="r12" dy="4">loc</tspan><tspan dy="-4">=0</tspan></text>
<text x="521.5" y="35.5" class="t18"><tspan class="serif">Δμ·</tspan><tspan font-weight="bold">E</tspan><tspan class="r12" dy="4">loc</tspan><tspan dy="-4">&lt;0</tspan></text>
<text x="325" y="111.5" class="t18"><tspan class="serif">Δμ</tspan>&lt;0</text>
<rect x="346.4" y="200.6" width="243.3" height="131.6" fill="none" stroke="#666" stroke-width="1.1"/>
<clipPath id="clipi"><rect x="346.4" y="200.6" width="243.3" height="131.6"/></clipPath>
<g clip-path="url(#clipi)">
<path d="M346.40,326.45 L347.40,326.82 L348.40,327.08 L349.40,327.22 L350.40,327.25 L351.40,327.16 L352.40,326.97 L353.40,326.66 L354.40,326.26 L355.40,325.75 L356.40,325.14 L357.40,324.44 L358.40,323.65 L359.40,322.76 L360.40,321.78 L361.40,320.72 L362.40,319.58 L363.40,318.36 L364.40,317.06 L365.40,315.68 L366.40,314.24 L367.40,312.72 L368.40,311.14 L369.40,309.49 L370.40,307.79 L371.40,306.02 L372.40,304.20 L373.40,302.32 L374.40,300.40 L375.40,298.42 L376.40,296.41 L377.40,294.34 L378.40,292.24 L379.40,290.11 L380.40,287.93 L381.40,285.73 L382.40,283.50 L383.40,281.24 L384.40,278.96 L385.40,276.67 L386.40,274.37 L387.40,272.06 L388.40,269.75 L389.40,267.44 L390.40,265.13 L391.40,262.84 L392.40,260.56 L393.40,258.30 L394.40,256.07 L395.40,253.86 L396.40,251.68 L397.40,249.54 L398.40,247.44 L399.40,245.39 L400.40,243.38 L401.40,241.43 L402.40,239.54 L403.40,237.71 L404.40,235.94 L405.40,234.25 L406.40,232.63 L407.40,231.09 L408.40,229.63 L409.40,228.27 L410.40,226.99 L411.40,225.81 L412.40,224.72 L413.40,223.72 L414.40,222.81 L415.40,221.98 L416.40,221.24 L417.40,220.58 L418.40,220.01 L419.40,219.51 L420.40,219.10 L421.40,218.76 L422.40,218.50 L423.40,218.31 L424.40,218.19 L425.40,218.15 L426.40,218.18 L427.40,218.27 L428.40,218.44 L429.40,218.67 L430.40,218.96 L431.40,219.31 L432.40,219.73 L433.40,220.20 L434.40,220.74 L435.40,221.33 L436.40,221.97 L437.40,222.67 L438.40,223.42 L439.40,224.22 L440.40,225.07 L441.40,225.96 L442.40,226.90 L443.40,227.89 L444.40,228.92 L445.40,229.99 L446.40,231.10 L447.40,232.24 L448.40,233.43 L449.40,234.65 L450.40,235.90 L451.40,237.19 L452.40,238.50 L453.40,239.85 L454.40,241.22 L455.40,242.62 L456.40,244.04 L457.40,245.49 L458.40,246.96 L459.40,248.45 L460.40,249.95 L461.40,251.47 L462.40,253.01 L463.40,254.56 L464.40,256.12 L465.40,257.68 L466.40,259.26 L467.40,260.84 L468.40,262.42 L469.40,264.00 L470.40,265.58 L471.40,267.16 L472.40,268.73 L473.40,270.29 L474.40,271.85 L475.40,273.40 L476.40,274.93 L477.40,276.45 L478.40,277.95 L479.40,279.43 L480.40,280.90 L481.40,282.34 L482.40,283.76 L483.40,285.15 L484.40,286.52 L485.40,287.86 L486.40,289.18 L487.40,290.47 L488.40,291.74 L489.40,292.98 L490.40,294.21 L491.40,295.40 L492.40,296.58 L493.40,297.73 L494.40,298.85 L495.40,299.96 L496.40,301.04 L497.40,302.10 L498.40,303.13 L499.40,304.15 L500.40,305.14 L501.40,306.11 L502.40,307.05 L503.40,307.98 L504.40,308.88 L505.40,309.77 L506.40,310.63 L507.40,311.47 L508.40,312.29 L509.40,313.09 L510.40,313.87 L511.40,314.63 L512.40,315.37 L513.40,316.09 L514.40,316.79 L515.40,317.47 L516.40,318.14 L517.40,318.78 L518.40,319.41 L519.40,320.01 L520.40,320.60 L521.40,321.18 L522.40,321.73 L523.40,322.27 L524.40,322.79 L525.40,323.30 L526.40,323.78 L527.40,324.26 L528.40,324.71 L529.40,325.15 L530.40,325.58 L531.40,325.99 L532.40,326.38 L533.40,326.76 L534.40,327.12 L535.40,327.47 L536.40,327.81 L537.40,328.13 L538.40,328.44 L539.40,328.74 L540.40,329.02 L541.40,329.29 L542.40,329.54 L543.40,329.79 L544.40,330.02 L545.40,330.24 L546.40,330.44 L547.40,330.64 L548.40,330.83 L549.40,331.00 L550.40,331.16 L551.40,331.31 L552.40,331.46 L553.40,331.59 L554.40,331.71 L555.40,331.82 L556.40,331.92 L557.40,332.01 L558.40,332.10 L559.40,332.17 L560.40,332.24 L561.40,332.30 L562.40,332.35 L563.40,332.39 L564.40,332.43 L565.40,332.45 L566.40,332.47 L567.40,332.49 L568.40,332.49 L569.40,332.49 L570.40,332.49 L571.40,332.48 L572.40,332.46 L573.40,332.43 L574.40,332.41 L575.40,332.37 L576.40,332.33 L577.40,332.29 L578.40,332.24 L579.40,332.19 L580.40,332.14 L581.40,332.08 L582.40,332.01 L583.40,331.95 L584.40,331.88 L585.40,331.81 L586.40,331.73 L587.40,331.66 L588.40,331.58 L589.40,331.50 L590.00,331.45" fill="none" stroke="#ff0000" stroke-width="1.8" stroke-linejoin="round"/>
<path d="M346.40,328.18 L347.40,328.51 L348.40,328.76 L349.40,328.94 L350.40,329.05 L351.40,329.09 L352.40,329.06 L353.40,328.96 L354.40,328.79 L355.40,328.56 L356.40,328.26 L357.40,327.90 L358.40,327.47 L359.40,326.98 L360.40,326.43 L361.40,325.81 L362.40,325.14 L363.40,324.41 L364.40,323.62 L365.40,322.77 L366.40,321.86 L367.40,320.90 L368.40,319.89 L369.40,318.82 L370.40,317.69 L371.40,316.52 L372.40,315.30 L373.40,314.02 L374.40,312.70 L375.40,311.33 L376.40,309.91 L377.40,308.44 L378.40,306.93 L379.40,305.37 L380.40,303.77 L381.40,302.13 L382.40,300.45 L383.40,298.73 L384.40,296.96 L385.40,295.16 L386.40,293.32 L387.40,291.44 L388.40,289.53 L389.40,287.58 L390.40,285.59 L391.40,283.58 L392.40,281.53 L393.40,279.45 L394.40,277.34 L395.40,275.20 L396.40,273.05 L397.40,270.88 L398.40,268.69 L399.40,266.51 L400.40,264.32 L401.40,262.13 L402.40,259.95 L403.40,257.78 L404.40,255.62 L405.40,253.49 L406.40,251.38 L407.40,249.30 L408.40,247.25 L409.40,245.24 L410.40,243.28 L411.40,241.36 L412.40,239.50 L413.40,237.69 L414.40,235.94 L415.40,234.25 L416.40,232.64 L417.40,231.10 L418.40,229.64 L419.40,228.26 L420.40,226.97 L421.40,225.77 L422.40,224.67 L423.40,223.65 L424.40,222.72 L425.40,221.88 L426.40,221.12 L427.40,220.44 L428.40,219.85 L429.40,219.33 L430.40,218.89 L431.40,218.53 L432.40,218.25 L433.40,218.03 L434.40,217.89 L435.40,217.82 L436.40,217.81 L437.40,217.87 L438.40,218.00 L439.40,218.18 L440.40,218.43 L441.40,218.74 L442.40,219.11 L443.40,219.53 L444.40,220.01 L445.40,220.54 L446.40,221.12 L447.40,221.75 L448.40,222.43 L449.40,223.16 L450.40,223.93 L451.40,224.74 L452.40,225.59 L453.40,226.48 L454.40,227.41 L455.40,228.38 L456.40,229.38 L457.40,230.42 L458.40,231.48 L459.40,232.58 L460.40,233.70 L461.40,234.85 L462.40,236.02 L463.40,237.22 L464.40,238.43 L465.40,239.67 L466.40,240.92 L467.40,242.19 L468.40,243.48 L469.40,244.78 L470.40,246.08 L471.40,247.40 L472.40,248.73 L473.40,250.07 L474.40,251.41 L475.40,252.76 L476.40,254.12 L477.40,255.48 L478.40,256.85 L479.40,258.22 L480.40,259.59 L481.40,260.97 L482.40,262.35 L483.40,263.73 L484.40,265.11 L485.40,266.50 L486.40,267.88 L487.40,269.26 L488.40,270.63 L489.40,272.01 L490.40,273.38 L491.40,274.75 L492.40,276.11 L493.40,277.47 L494.40,278.82 L495.40,280.16 L496.40,281.49 L497.40,282.82 L498.40,284.14 L499.40,285.44 L500.40,286.74 L501.40,288.02 L502.40,289.30 L503.40,290.56 L504.40,291.80 L505.40,293.04 L506.40,294.26 L507.40,295.46 L508.40,296.64 L509.40,297.81 L510.40,298.96 L511.40,300.10 L512.40,301.21 L513.40,302.31 L514.40,303.38 L515.40,304.43 L516.40,305.46 L517.40,306.47 L518.40,307.45 L519.40,308.42 L520.40,309.35 L521.40,310.26 L522.40,311.15 L523.40,312.00 L524.40,312.84 L525.40,313.64 L526.40,314.42 L527.40,315.18 L528.40,315.91 L529.40,316.62 L530.40,317.31 L531.40,317.97 L532.40,318.61 L533.40,319.23 L534.40,319.82 L535.40,320.40 L536.40,320.95 L537.40,321.49 L538.40,322.00 L539.40,322.49 L540.40,322.97 L541.40,323.43 L542.40,323.87 L543.40,324.29 L544.40,324.69 L545.40,325.08 L546.40,325.45 L547.40,325.80 L548.40,326.14 L549.40,326.47 L550.40,326.78 L551.40,327.07 L552.40,327.35 L553.40,327.62 L554.40,327.88 L555.40,328.12 L556.40,328.35 L557.40,328.57 L558.40,328.78 L559.40,328.97 L560.40,329.16 L561.40,329.34 L562.40,329.50 L563.40,329.66 L564.40,329.81 L565.40,329.95 L566.40,330.09 L567.40,330.21 L568.40,330.33 L569.40,330.45 L570.40,330.55 L571.40,330.66 L572.40,330.75 L573.40,330.84 L574.40,330.93 L575.40,331.02 L576.40,331.10 L577.40,331.18 L578.40,331.25 L579.40,331.32 L580.40,331.40 L581.40,331.47 L582.40,331.54 L583.40,331.60 L584.40,331.67 L585.40,331.74 L586.40,331.81 L587.40,331.89 L588.40,331.96 L589.40,332.04 L590.00,332.09" fill="none" stroke="#000" stroke-width="1.8" stroke-linejoin="round"/>
<path d="M346.40,329.91 L347.40,330.22 L348.40,330.48 L349.40,330.70 L350.40,330.87 L351.40,331.00 L352.40,331.08 L353.40,331.11 L354.40,331.10 L355.40,331.05 L356.40,330.95 L357.40,330.80 L358.40,330.61 L359.40,330.38 L360.40,330.10 L361.40,329.78 L362.40,329.41 L363.40,329.00 L364.40,328.55 L365.40,328.05 L366.40,327.52 L367.40,326.94 L368.40,326.32 L369.40,325.65 L370.40,324.95 L371.40,324.20 L372.40,323.42 L373.40,322.59 L374.40,321.72 L375.40,320.81 L376.40,319.86 L377.40,318.87 L378.40,317.84 L379.40,316.77 L380.40,315.66 L381.40,314.52 L382.40,313.33 L383.40,312.11 L384.40,310.84 L385.40,309.54 L386.40,308.20 L387.40,306.83 L388.40,305.41 L389.40,303.96 L390.40,302.48 L391.40,300.95 L392.40,299.39 L393.40,297.79 L394.40,296.16 L395.40,294.49 L396.40,292.79 L397.40,291.05 L398.40,289.27 L399.40,287.47 L400.40,285.62 L401.40,283.75 L402.40,281.85 L403.40,279.93 L404.40,277.98 L405.40,276.02 L406.40,274.05 L407.40,272.06 L408.40,270.06 L409.40,268.07 L410.40,266.07 L411.40,264.07 L412.40,262.07 L413.40,260.09 L414.40,258.11 L415.40,256.16 L416.40,254.21 L417.40,252.29 L418.40,250.40 L419.40,248.53 L420.40,246.69 L421.40,244.89 L422.40,243.12 L423.40,241.39 L424.40,239.71 L425.40,238.07 L426.40,236.49 L427.40,234.95 L428.40,233.48 L429.40,232.06 L430.40,230.70 L431.40,229.41 L432.40,228.19 L433.40,227.04 L434.40,225.97 L435.40,224.96 L436.40,224.03 L437.40,223.17 L438.40,222.37 L439.40,221.64 L440.40,220.98 L441.40,220.39 L442.40,219.86 L443.40,219.39 L444.40,218.99 L445.40,218.65 L446.40,218.37 L447.40,218.16 L448.40,218.00 L449.40,217.90 L450.40,217.86 L451.40,217.87 L452.40,217.94 L453.40,218.07 L454.40,218.24 L455.40,218.48 L456.40,218.76 L457.40,219.09 L458.40,219.48 L459.40,219.91 L460.40,220.40 L461.40,220.93 L462.40,221.50 L463.40,222.12 L464.40,222.79 L465.40,223.50 L466.40,224.25 L467.40,225.04 L468.40,225.88 L469.40,226.75 L470.40,227.67 L471.40,228.62 L472.40,229.61 L473.40,230.63 L474.40,231.69 L475.40,232.78 L476.40,233.91 L477.40,235.07 L478.40,236.26 L479.40,237.47 L480.40,238.72 L481.40,239.98 L482.40,241.27 L483.40,242.58 L484.40,243.90 L485.40,245.24 L486.40,246.59 L487.40,247.95 L488.40,249.32 L489.40,250.70 L490.40,252.08 L491.40,253.47 L492.40,254.86 L493.40,256.24 L494.40,257.62 L495.40,259.00 L496.40,260.36 L497.40,261.72 L498.40,263.07 L499.40,264.40 L500.40,265.71 L501.40,267.01 L502.40,268.29 L503.40,269.55 L504.40,270.80 L505.40,272.03 L506.40,273.24 L507.40,274.43 L508.40,275.61 L509.40,276.78 L510.40,277.92 L511.40,279.05 L512.40,280.17 L513.40,281.27 L514.40,282.35 L515.40,283.42 L516.40,284.47 L517.40,285.50 L518.40,286.53 L519.40,287.53 L520.40,288.52 L521.40,289.50 L522.40,290.46 L523.40,291.41 L524.40,292.34 L525.40,293.26 L526.40,294.17 L527.40,295.06 L528.40,295.93 L529.40,296.80 L530.40,297.65 L531.40,298.48 L532.40,299.31 L533.40,300.12 L534.40,300.91 L535.40,301.70 L536.40,302.47 L537.40,303.23 L538.40,303.98 L539.40,304.71 L540.40,305.44 L541.40,306.15 L542.40,306.85 L543.40,307.54 L544.40,308.22 L545.40,308.88 L546.40,309.54 L547.40,310.19 L548.40,310.82 L549.40,311.45 L550.40,312.06 L551.40,312.67 L552.40,313.27 L553.40,313.85 L554.40,314.43 L555.40,315.00 L556.40,315.56 L557.40,316.11 L558.40,316.66 L559.40,317.19 L560.40,317.72 L561.40,318.24 L562.40,318.75 L563.40,319.25 L564.40,319.75 L565.40,320.24 L566.40,320.72 L567.40,321.20 L568.40,321.67 L569.40,322.13 L570.40,322.59 L571.40,323.04 L572.40,323.48 L573.40,323.92 L574.40,324.36 L575.40,324.79 L576.40,325.21 L577.40,325.63 L578.40,326.04 L579.40,326.45 L580.40,326.86 L581.40,327.26 L582.40,327.65 L583.40,328.05 L584.40,328.44 L585.40,328.82 L586.40,329.21 L587.40,329.59 L588.40,329.96 L589.40,330.34 L589.60,330.41" fill="none" stroke="#0000ff" stroke-width="1.8" stroke-linejoin="round"/>
</g>
<text x="469.3" y="352.5" text-anchor="middle" style="font-size:19.5px">Frequency</text>
<text transform="translate(614.2,266.6) rotate(-90)" text-anchor="middle" style="font-size:18.6px">Absorbance</text>
</g>
<g id="panelb">
<clipPath id="clipb"><rect x="71.5" y="367.4" width="518.7" height="248.20000000000005"/></clipPath>
<line x1="71.5" y1="491.9" x2="590.2" y2="491.9" stroke="#000" stroke-width="1.6"/>
<g clip-path="url(#clipb)">
<path d="M76.00,491.82 L79.00,491.56 L82.00,491.17 L85.00,490.69 L88.00,490.12 L91.00,489.47 L92.60,489.10 L93.10,489.06 L93.60,489.02 L94.10,488.98 L94.60,488.94 L95.10,488.90 L95.60,488.85 L96.10,488.81 L96.60,488.76 L97.10,488.71 L97.60,488.66 L98.10,488.61 L98.60,488.56 L99.10,488.51 L99.60,488.45 L100.10,488.40 L100.60,488.34 L101.10,488.28 L101.60,488.22 L102.10,488.16 L102.60,488.10 L103.10,488.04 L103.60,487.98 L104.10,487.91 L104.60,487.85 L105.10,487.78 L105.60,487.72 L106.10,487.65 L106.60,487.58 L107.10,487.51 L107.60,487.44 L108.10,487.37 L108.60,487.30 L109.10,487.23 L109.60,487.15 L110.10,487.08 L110.60,487.01 L111.10,486.93 L111.60,486.86 L112.10,486.78 L112.60,486.70 L113.10,486.63 L113.60,486.55 L114.10,486.47 L114.60,486.39 L115.10,486.31 L115.60,486.23 L116.10,486.16 L116.60,486.08 L117.10,485.99 L117.60,485.91 L118.10,485.83 L118.60,485.75 L119.10,485.67 L119.60,485.59 L120.10,485.51 L120.60,485.42 L121.10,485.34 L121.60,485.26 L122.10,485.18 L122.60,485.09 L123.10,485.01 L123.60,484.93 L124.10,484.84 L124.60,484.76 L125.10,484.68 L125.60,484.60 L126.10,484.51 L126.60,484.43 L127.10,484.35 L127.60,484.26 L128.10,484.18 L128.60,484.10 L129.10,484.02 L129.60,483.94 L130.10,483.86 L130.60,483.77 L131.10,483.69 L131.60,483.61 L132.10,483.53 L132.60,483.45 L133.10,483.37 L133.60,483.29 L134.10,483.22 L134.60,483.14 L135.10,483.06 L135.60,482.98 L136.10,482.91 L136.60,482.83 L137.10,482.75 L137.60,482.68 L138.10,482.60 L138.60,482.53 L139.10,482.46 L139.60,482.39 L140.10,482.31 L140.60,482.24 L141.10,482.17 L141.60,482.10 L142.10,482.04 L142.60,481.97 L143.10,481.90 L143.60,481.83 L144.10,481.77 L144.60,481.71 L145.10,481.64 L145.60,481.58 L146.10,481.52 L146.60,481.46 L147.10,481.40 L147.60,481.34 L148.10,481.28 L148.60,481.23 L149.10,481.17 L149.60,481.12 L150.10,481.07 L150.60,481.02 L151.10,480.97 L151.60,480.92 L152.10,480.87 L152.60,480.82 L153.10,480.78 L153.60,480.73 L154.10,480.69 L154.60,480.65 L155.10,480.61 L155.60,480.57 L156.10,480.54 L156.60,480.50 L157.10,480.47 L157.60,480.44 L158.10,480.41 L158.60,480.38 L159.10,480.35 L159.60,480.32 L160.10,480.30 L160.60,480.28 L161.10,480.26 L161.60,480.24 L162.10,480.22 L162.60,480.20 L163.10,480.19 L163.60,480.18 L164.10,480.17 L164.60,480.16 L165.10,480.15 L165.60,480.15 L166.10,480.15 L166.60,480.14 L167.10,480.15 L167.60,480.15 L168.10,480.15 L168.60,480.16 L169.10,480.17 L169.60,480.18 L170.10,480.20 L170.60,480.21 L171.10,480.23 L171.60,480.25 L172.10,480.27 L172.60,480.30 L173.10,480.32 L173.60,480.35 L174.10,480.38 L174.60,480.41 L175.10,480.45 L175.60,480.49 L176.10,480.53 L176.60,480.57 L177.10,480.62 L177.60,480.66 L178.10,480.72 L178.60,480.77 L179.10,480.82 L179.60,480.88 L180.10,480.94 L180.60,481.00 L181.10,481.07 L181.60,481.13 L182.10,481.20 L182.60,481.28 L183.10,481.35 L183.60,481.43 L184.10,481.51 L184.60,481.59 L185.10,481.67 L185.60,481.75 L186.10,481.84 L186.60,481.93 L187.10,482.02 L187.60,482.12 L188.10,482.21 L188.60,482.31 L189.10,482.41 L189.60,482.51 L190.10,482.62 L190.60,482.72 L191.10,482.83 L191.60,482.94 L192.10,483.05 L192.60,483.17 L193.10,483.28 L193.60,483.40 L194.10,483.52 L194.60,483.64 L195.10,483.77 L195.60,483.89 L196.10,484.02 L196.60,484.15 L197.10,484.28 L197.60,484.41 L198.10,484.54 L198.60,484.68 L199.10,484.82 L199.60,484.95 L200.10,485.09 L200.60,485.24 L201.10,485.38 L201.60,485.52 L202.10,485.67 L202.60,485.82 L203.10,485.97 L203.60,486.12 L204.10,486.27 L204.60,486.43 L205.10,486.58 L205.60,486.74 L206.10,486.90 L206.60,487.05 L207.10,487.22 L207.60,487.38 L208.10,487.54 L208.60,487.70 L209.10,487.87 L209.60,488.04 L210.10,488.21 L210.60,488.37 L211.10,488.55 L211.60,488.72 L212.10,488.89 L212.60,489.06 L213.10,489.24 L213.60,489.42 L214.10,489.59 L214.60,489.77 L215.10,489.95 L215.60,490.13 L216.10,490.31 L216.60,490.50 L217.10,490.68 L217.60,490.87 L218.10,491.05 L218.60,491.24 L219.10,491.43 L219.60,491.61 L220.10,491.80 L220.60,491.99 L221.10,492.19 L221.60,492.38 L222.10,492.57 L222.60,492.77 L223.10,492.96 L223.60,493.16 L224.10,493.35 L224.60,493.55 L225.10,493.75 L225.60,493.95 L226.10,494.15 L226.60,494.35 L227.10,494.55 L227.60,494.75 L228.10,494.95 L228.60,495.16 L229.10,495.36 L229.60,495.56 L230.10,495.77 L230.60,495.98 L231.10,496.18 L231.60,496.39 L232.10,496.60 L232.60,496.81 L233.10,497.01 L233.60,497.22 L234.10,497.43 L234.60,497.64 L235.10,497.85 L235.60,498.07 L236.10,498.28 L236.60,498.49 L237.10,498.70 L237.60,498.92 L238.10,499.13 L238.60,499.34 L239.10,499.56 L239.60,499.77 L240.10,499.99 L240.60,500.20 L241.10,500.42 L241.60,500.63 L242.10,500.85 L242.60,501.06 L243.10,501.28 L243.60,501.49 L244.10,501.71 L244.60,501.93 L245.10,502.14 L245.60,502.36 L246.10,502.57 L246.60,502.79 L247.10,503.00 L247.60,503.22 L248.10,503.43 L248.60,503.65 L249.10,503.86 L249.60,504.07 L250.10,504.29 L250.60,504.50 L251.10,504.71 L251.60,504.92 L252.10,505.13 L252.60,505.35 L253.10,505.56 L253.60,505.77 L254.10,505.98 L254.60,506.18 L255.10,506.39 L255.60,506.60 L256.10,506.81 L256.60,507.01 L257.10,507.22 L257.60,507.42 L258.10,507.62 L258.60,507.83 L259.10,508.03 L259.60,508.23 L260.10,508.43 L260.60,508.63 L261.10,508.82 L261.60,509.02 L262.10,509.21 L262.60,509.41 L263.10,509.60 L263.60,509.79 L264.10,509.98 L264.60,510.17 L265.10,510.36 L265.60,510.55 L266.10,510.73 L266.60,510.92 L267.10,511.10 L267.60,511.28 L268.10,511.46 L268.60,511.64 L269.10,511.82 L269.60,511.99 L270.10,512.16 L270.60,512.34 L271.10,512.51 L271.60,512.68 L272.10,512.84 L272.60,513.01 L273.10,513.17 L273.60,513.33 L274.10,513.49 L274.60,513.65 L275.10,513.81 L275.60,513.96 L276.10,514.11 L276.60,514.26 L277.10,514.41 L277.60,514.56 L278.10,514.70 L278.60,514.84 L279.10,514.98 L279.60,515.12 L280.10,515.26 L280.60,515.39 L281.10,515.52 L281.60,515.65 L282.10,515.78 L282.60,515.90 L283.10,516.02 L283.60,516.14 L284.10,516.26 L284.60,516.37 L285.10,516.48 L285.60,516.59 L286.10,516.70 L286.60,516.80 L287.10,516.91 L287.60,517.00 L288.10,517.10 L288.60,517.19 L289.10,517.28 L289.60,517.37 L290.10,517.46 L290.60,517.54 L291.10,517.62 L291.60,517.70 L292.10,517.77 L292.60,517.84 L293.10,517.91 L293.60,517.97 L294.10,518.03 L294.60,518.09 L295.10,518.15 L295.60,518.20 L296.10,518.25 L296.60,518.30 L297.10,518.34 L297.60,518.38 L298.10,518.42 L298.60,518.45 L299.10,518.48 L299.60,518.51 L300.10,518.53 L300.60,518.55 L301.10,518.57 L301.60,518.58 L302.10,518.60 L302.60,518.61 L303.10,518.61 L303.60,518.61 L304.10,518.61 L304.60,518.61 L305.10,518.61 L305.60,518.60 L306.10,518.59 L306.60,518.57 L307.10,518.56 L307.60,518.54 L308.10,518.51 L308.60,518.49 L309.10,518.46 L309.60,518.43 L310.10,518.40 L310.60,518.36 L311.10,518.32 L311.60,518.28 L312.10,518.24 L312.60,518.19 L313.10,518.14 L313.60,518.09 L314.10,518.03 L314.60,517.98 L315.10,517.92 L315.60,517.86 L316.10,517.79 L316.60,517.72 L317.10,517.65 L317.60,517.58 L318.10,517.51 L318.60,517.43 L319.10,517.35 L319.60,517.27 L320.10,517.19 L320.60,517.11 L321.10,517.02 L321.60,516.93 L322.10,516.84 L322.60,516.75 L323.10,516.65 L323.60,516.56 L324.10,516.46 L324.60,516.36 L325.10,516.26 L325.60,516.15 L326.10,516.05 L326.60,515.94 L327.10,515.83 L327.60,515.72 L328.10,515.61 L328.60,515.50 L329.10,515.39 L329.60,515.27 L330.10,515.16 L330.60,515.04 L331.10,514.92 L331.60,514.80 L332.10,514.68 L332.60,514.56 L333.10,514.44 L333.60,514.31 L334.10,514.19 L334.60,514.06 L335.10,513.94 L335.60,513.81 L336.10,513.68 L336.60,513.55 L337.10,513.42 L337.60,513.30 L338.10,513.17 L338.60,513.03 L339.10,512.90 L339.60,512.77 L340.10,512.64 L340.60,512.51 L341.10,512.37 L341.60,512.24 L342.10,512.11 L342.60,511.97 L343.10,511.84 L343.60,511.70 L344.10,511.56 L344.60,511.43 L345.10,511.29 L345.60,511.15 L346.10,511.02 L346.60,510.88 L347.10,510.74 L347.60,510.60 L348.10,510.46 L348.60,510.32 L349.10,510.18 L349.60,510.04 L350.10,509.90 L350.60,509.76 L351.10,509.61 L351.60,509.47 L352.10,509.33 L352.60,509.19 L353.10,509.04 L353.60,508.90 L354.10,508.76 L354.60,508.61 L355.10,508.47 L355.60,508.32 L356.10,508.18 L356.60,508.03 L357.10,507.89 L357.60,507.74 L358.10,507.60 L358.60,507.45 L359.10,507.30 L359.60,507.16 L360.10,507.01 L360.60,506.86 L361.10,506.72 L361.60,506.57 L362.10,506.42 L362.60,506.28 L363.10,506.13 L363.60,505.98 L364.10,505.83 L364.60,505.68 L365.10,505.54 L365.60,505.39 L366.10,505.24 L366.60,505.09 L367.10,504.94 L367.60,504.80 L368.10,504.65 L368.60,504.50 L369.10,504.35 L369.60,504.20 L370.10,504.05 L370.60,503.91 L371.10,503.76 L371.60,503.61 L372.10,503.46 L372.60,503.31 L373.10,503.16 L373.60,503.01 L374.10,502.87 L374.60,502.72 L375.10,502.57 L375.60,502.42 L376.10,502.27 L376.60,502.13 L377.10,501.98 L377.60,501.83 L378.10,501.68 L378.60,501.54 L379.10,501.39 L379.60,501.24 L380.10,501.10 L380.60,500.95 L381.10,500.80 L381.60,500.66 L382.10,500.51 L382.60,500.36 L383.10,500.22 L383.60,500.07 L384.10,499.93 L384.60,499.78 L385.10,499.64 L385.60,499.49 L386.10,499.35 L386.60,499.21 L387.10,499.06 L387.60,498.92 L388.10,498.78 L388.60,498.63 L389.10,498.49 L389.60,498.35 L390.10,498.21 L390.60,498.07 L391.10,497.93 L391.60,497.79 L392.10,497.65 L392.60,497.51 L393.10,497.37 L393.60,497.23 L394.10,497.09 L394.60,496.95 L395.10,496.81 L395.60,496.68 L396.10,496.54 L396.60,496.40 L397.10,496.27 L397.60,496.13 L398.10,496.00 L398.60,495.86 L399.10,495.73 L399.60,495.59 L400.10,495.46 L400.60,495.33 L401.10,495.20 L401.60,495.07 L402.10,494.94 L402.60,494.81 L403.10,494.68 L403.60,494.55 L404.10,494.42 L404.60,494.29 L405.10,494.16 L405.60,494.04 L406.10,493.91 L406.60,493.78 L407.10,493.66 L407.60,493.53 L408.10,493.41 L408.60,493.29 L409.10,493.16 L409.60,493.04 L410.10,492.92 L410.60,492.80 L411.10,492.68 L411.60,492.56 L412.10,492.44 L412.60,492.32 L413.10,492.20 L413.60,492.08 L414.10,491.96 L414.60,491.85 L415.10,491.73 L415.60,491.62 L416.10,491.50 L416.60,491.39 L417.10,491.27 L417.60,491.16 L418.10,491.05 L418.60,490.94 L419.10,490.82 L419.60,490.71 L420.10,490.60 L420.60,490.49 L421.10,490.38 L421.60,490.28 L422.10,490.17 L422.60,490.06 L423.10,489.96 L423.60,489.85 L424.10,489.74 L424.60,489.64 L425.10,489.54 L425.60,489.43 L426.10,489.33 L426.60,489.23 L427.10,489.13 L427.60,489.03 L428.10,488.93 L428.60,488.83 L429.10,488.73 L429.60,488.63 L430.10,488.53 L430.60,488.44 L431.10,488.34 L431.60,488.24 L432.10,488.15 L432.60,488.05 L433.10,487.96 L433.60,487.87 L434.10,487.78 L434.60,487.68 L435.10,487.59 L435.60,487.50 L436.10,487.41 L436.60,487.32 L437.10,487.24 L437.60,487.15 L438.10,487.06 L438.60,486.98 L439.10,486.89 L439.60,486.81 L440.10,486.72 L440.60,486.64 L441.10,486.56 L441.60,486.47 L442.10,486.39 L442.60,486.31 L443.10,486.23 L443.60,486.15 L444.10,486.07 L444.60,486.00 L445.10,485.92 L445.60,485.84 L446.10,485.77 L446.60,485.69 L447.10,485.62 L447.60,485.54 L448.10,485.47 L448.60,485.40 L449.10,485.33 L449.60,485.26 L450.10,485.19 L450.60,485.12 L451.10,485.05 L451.60,484.98 L452.10,484.92 L452.60,484.85 L453.10,484.78 L453.60,484.72 L454.10,484.66 L454.60,484.59 L455.10,484.53 L455.60,484.47 L456.10,484.41 L456.60,484.35 L457.10,484.29 L457.60,484.23 L458.10,484.17 L458.60,484.11 L459.10,484.06 L459.60,484.00 L460.10,483.95 L460.60,483.89 L461.10,483.84 L461.60,483.79 L462.10,483.74 L462.60,483.69 L463.10,483.64 L463.60,483.59 L464.10,483.54 L464.60,483.49 L465.10,483.44 L465.60,483.40 L466.10,483.35 L466.60,483.31 L467.10,483.26 L467.60,483.22 L468.10,483.17 L468.60,483.13 L469.10,483.09 L469.60,483.05 L470.10,483.01 L470.60,482.97 L471.10,482.93 L471.60,482.90 L472.10,482.86 L472.60,482.82 L473.10,482.79 L473.60,482.75 L474.10,482.72 L474.60,482.69 L475.10,482.65 L475.60,482.62 L476.10,482.59 L476.60,482.56 L477.10,482.53 L477.60,482.50 L478.10,482.47 L478.60,482.44 L479.10,482.42 L479.60,482.39 L480.10,482.37 L480.60,482.34 L481.10,482.32 L481.60,482.29 L482.10,482.27 L482.60,482.25 L483.10,482.23 L483.60,482.20 L484.10,482.18 L484.60,482.16 L485.10,482.15 L485.60,482.13 L486.10,482.11 L486.60,482.09 L487.10,482.08 L487.60,482.06 L488.10,482.05 L488.60,482.03 L489.10,482.02 L489.60,482.00 L490.10,481.99 L490.60,481.98 L491.10,481.97 L491.60,481.96 L492.10,481.95 L492.60,481.94 L493.10,481.93 L493.60,481.92 L494.10,481.91 L494.60,481.91 L495.10,481.90 L495.60,481.89 L496.10,481.89 L496.60,481.89 L497.10,481.88 L497.60,481.88 L498.10,481.88 L498.60,481.87 L499.10,481.87 L499.60,481.87 L500.10,481.87 L500.60,481.87 L501.10,481.87 L501.60,481.87 L502.10,481.88 L502.60,481.88 L503.10,481.88 L503.60,481.89 L504.10,481.89 L504.60,481.89 L505.10,481.90 L505.60,481.91 L506.10,481.91 L506.60,481.92 L507.10,481.93 L507.60,481.94 L508.10,481.95 L508.60,481.95 L509.10,481.96 L509.60,481.98 L510.10,481.99 L510.60,482.00 L511.10,482.01 L511.60,482.02 L512.10,482.04 L512.60,482.05 L513.10,482.06 L513.60,482.08 L514.10,482.09 L514.60,482.11 L515.10,482.13 L515.60,482.14 L516.10,482.16 L516.60,482.18 L517.10,482.20 L517.60,482.22 L518.10,482.24 L518.60,482.26 L519.10,482.28 L519.60,482.30 L520.10,482.32 L520.60,482.34 L521.10,482.36 L521.60,482.39 L522.10,482.41 L522.60,482.43 L523.10,482.46 L523.60,482.48 L524.10,482.51 L524.60,482.53 L525.10,482.56 L525.60,482.59 L526.10,482.61 L526.60,482.64 L527.10,482.67 L527.60,482.70 L528.10,482.73 L528.60,482.76 L529.10,482.79 L529.60,482.82 L530.10,482.85 L530.60,482.88 L531.10,482.91 L531.60,482.94 L532.10,482.98 L532.60,483.01 L533.10,483.04 L533.60,483.08 L534.10,483.11 L534.60,483.15 L535.10,483.18 L535.60,483.22 L536.10,483.26 L536.60,483.29 L537.10,483.33 L537.60,483.37 L538.10,483.40 L538.60,483.44 L539.10,483.48 L539.60,483.52 L540.10,483.56 L540.60,483.60 L541.10,483.64 L541.60,483.68 L542.10,483.72 L542.60,483.76 L543.10,483.81 L543.60,483.85 L544.10,483.89 L544.60,483.93 L545.10,483.98 L545.60,484.02 L546.10,484.06 L546.60,484.11 L547.10,484.15 L547.60,484.20 L548.10,484.24 L548.60,484.29 L549.10,484.33 L549.60,484.37 L550.10,484.42 L550.60,484.46 L551.10,484.51 L551.60,484.55 L552.10,484.59 L552.60,484.64 L553.10,484.68 L553.60,484.72 L554.10,484.76 L554.60,484.80 L555.10,484.84 L555.60,484.88 L556.10,484.92 L556.60,484.96 L557.10,485.00 L557.60,485.04 L558.10,485.07 L558.60,485.11 L559.10,485.14 L559.60,485.18 L560.10,485.21 L560.60,485.24 L561.10,485.27 L561.60,485.30 L562.10,485.33 L562.60,485.35 L563.10,485.38 L563.60,485.40 L564.10,485.43 L564.60,485.45 L565.10,485.47 L565.60,485.48 L566.10,485.50 L566.60,485.52 L567.10,485.53 L567.60,485.54 L568.10,485.55 L568.60,485.56 L569.10,485.56 L569.60,485.57 L570.10,485.57 L570.60,485.57 L571.10,485.57 L571.60,485.57 L572.10,485.56 L572.60,485.55 L573.10,485.54 L573.60,485.53 L574.10,485.52 L574.60,485.50 L575.10,485.48 L575.60,485.46 L576.10,485.43 L576.60,485.41 L577.10,485.38 L577.60,485.35 L578.10,485.31 L578.60,485.27 L579.10,485.23 L579.60,485.19 L580.10,485.14 L580.60,485.10 L581.10,485.04 L581.60,484.99 L582.10,484.93 L582.60,484.87 L583.10,484.81 L583.60,484.74 L584.10,484.67 L584.60,484.60 L585.10,484.52 L585.60,484.44 L586.10,484.36 L586.60,484.27 L587.10,484.18 L587.60,484.09 L588.10,483.99 L588.60,483.89 L589.10,483.79 L589.60,483.68 L590.10,483.57 L590.60,483.45 L591.00,483.36" fill="none" stroke="#000" stroke-width="3.2" stroke-linecap="round" stroke-dasharray="0.1 15.6" stroke-dashoffset="7.8"/>
<path d="M76.00,491.78 L79.00,491.39 L82.00,490.83 L85.00,490.11 L88.00,489.27 L91.00,488.31 L92.60,487.76 L93.10,487.70 L93.60,487.64 L94.10,487.58 L94.60,487.52 L95.10,487.46 L95.60,487.39 L96.10,487.32 L96.60,487.25 L97.10,487.18 L97.60,487.11 L98.10,487.03 L98.60,486.96 L99.10,486.88 L99.60,486.80 L100.10,486.72 L100.60,486.63 L101.10,486.55 L101.60,486.46 L102.10,486.37 L102.60,486.28 L103.10,486.19 L103.60,486.10 L104.10,486.00 L104.60,485.91 L105.10,485.81 L105.60,485.71 L106.10,485.61 L106.60,485.51 L107.10,485.41 L107.60,485.30 L108.10,485.20 L108.60,485.09 L109.10,484.99 L109.60,484.88 L110.10,484.77 L110.60,484.66 L111.10,484.55 L111.60,484.44 L112.10,484.33 L112.60,484.21 L113.10,484.10 L113.60,483.99 L114.10,483.87 L114.60,483.75 L115.10,483.64 L115.60,483.52 L116.10,483.40 L116.60,483.28 L117.10,483.17 L117.60,483.05 L118.10,482.93 L118.60,482.81 L119.10,482.68 L119.60,482.56 L120.10,482.44 L120.60,482.32 L121.10,482.20 L121.60,482.08 L122.10,481.95 L122.60,481.83 L123.10,481.71 L123.60,481.59 L124.10,481.46 L124.60,481.34 L125.10,481.22 L125.60,481.10 L126.10,480.97 L126.60,480.85 L127.10,480.73 L127.60,480.61 L128.10,480.48 L128.60,480.36 L129.10,480.24 L129.60,480.12 L130.10,480.00 L130.60,479.88 L131.10,479.76 L131.60,479.64 L132.10,479.52 L132.60,479.40 L133.10,479.29 L133.60,479.17 L134.10,479.05 L134.60,478.94 L135.10,478.82 L135.60,478.71 L136.10,478.60 L136.60,478.48 L137.10,478.37 L137.60,478.26 L138.10,478.15 L138.60,478.04 L139.10,477.93 L139.60,477.83 L140.10,477.72 L140.60,477.62 L141.10,477.51 L141.60,477.41 L142.10,477.31 L142.60,477.21 L143.10,477.11 L143.60,477.01 L144.10,476.92 L144.60,476.82 L145.10,476.73 L145.60,476.63 L146.10,476.54 L146.60,476.45 L147.10,476.37 L147.60,476.28 L148.10,476.20 L148.60,476.11 L149.10,476.03 L149.60,475.95 L150.10,475.88 L150.60,475.80 L151.10,475.73 L151.60,475.65 L152.10,475.58 L152.60,475.51 L153.10,475.45 L153.60,475.38 L154.10,475.32 L154.60,475.26 L155.10,475.20 L155.60,475.15 L156.10,475.09 L156.60,475.04 L157.10,474.99 L157.60,474.94 L158.10,474.90 L158.60,474.85 L159.10,474.81 L159.60,474.78 L160.10,474.74 L160.60,474.71 L161.10,474.68 L161.60,474.65 L162.10,474.62 L162.60,474.60 L163.10,474.58 L163.60,474.56 L164.10,474.55 L164.60,474.53 L165.10,474.52 L165.60,474.52 L166.10,474.51 L166.60,474.51 L167.10,474.51 L167.60,474.52 L168.10,474.53 L168.60,474.54 L169.10,474.55 L169.60,474.57 L170.10,474.59 L170.60,474.61 L171.10,474.64 L171.60,474.67 L172.10,474.70 L172.60,474.73 L173.10,474.77 L173.60,474.82 L174.10,474.86 L174.60,474.91 L175.10,474.96 L175.60,475.02 L176.10,475.08 L176.60,475.14 L177.10,475.21 L177.60,475.28 L178.10,475.36 L178.60,475.43 L179.10,475.52 L179.60,475.60 L180.10,475.69 L180.60,475.78 L181.10,475.88 L181.60,475.98 L182.10,476.08 L182.60,476.19 L183.10,476.30 L183.60,476.41 L184.10,476.52 L184.60,476.64 L185.10,476.77 L185.60,476.89 L186.10,477.02 L186.60,477.16 L187.10,477.29 L187.60,477.43 L188.10,477.57 L188.60,477.72 L189.10,477.87 L189.60,478.02 L190.10,478.17 L190.60,478.33 L191.10,478.49 L191.60,478.65 L192.10,478.82 L192.60,478.99 L193.10,479.16 L193.60,479.33 L194.10,479.51 L194.60,479.69 L195.10,479.87 L195.60,480.05 L196.10,480.24 L196.60,480.43 L197.10,480.62 L197.60,480.82 L198.10,481.02 L198.60,481.22 L199.10,481.42 L199.60,481.63 L200.10,481.83 L200.60,482.04 L201.10,482.25 L201.60,482.47 L202.10,482.69 L202.60,482.90 L203.10,483.13 L203.60,483.35 L204.10,483.57 L204.60,483.80 L205.10,484.03 L205.60,484.26 L206.10,484.50 L206.60,484.73 L207.10,484.97 L207.60,485.21 L208.10,485.45 L208.60,485.69 L209.10,485.94 L209.60,486.19 L210.10,486.44 L210.60,486.69 L211.10,486.94 L211.60,487.19 L212.10,487.45 L212.60,487.71 L213.10,487.96 L213.60,488.23 L214.10,488.49 L214.60,488.75 L215.10,489.02 L215.60,489.28 L216.10,489.55 L216.60,489.82 L217.10,490.10 L217.60,490.37 L218.10,490.64 L218.60,490.92 L219.10,491.20 L219.60,491.48 L220.10,491.76 L220.60,492.04 L221.10,492.32 L221.60,492.61 L222.10,492.89 L222.60,493.18 L223.10,493.47 L223.60,493.76 L224.10,494.05 L224.60,494.34 L225.10,494.63 L225.60,494.93 L226.10,495.22 L226.60,495.52 L227.10,495.82 L227.60,496.12 L228.10,496.42 L228.60,496.72 L229.10,497.02 L229.60,497.32 L230.10,497.62 L230.60,497.93 L231.10,498.23 L231.60,498.54 L232.10,498.85 L232.60,499.16 L233.10,499.46 L233.60,499.77 L234.10,500.08 L234.60,500.40 L235.10,500.71 L235.60,501.02 L236.10,501.33 L236.60,501.65 L237.10,501.96 L237.60,502.28 L238.10,502.59 L238.60,502.91 L239.10,503.23 L239.60,503.54 L240.10,503.86 L240.60,504.18 L241.10,504.50 L241.60,504.82 L242.10,505.14 L242.60,505.45 L243.10,505.77 L243.60,506.09 L244.10,506.41 L244.60,506.73 L245.10,507.05 L245.60,507.37 L246.10,507.69 L246.60,508.00 L247.10,508.32 L247.60,508.64 L248.10,508.96 L248.60,509.27 L249.10,509.59 L249.60,509.91 L250.10,510.22 L250.60,510.54 L251.10,510.85 L251.60,511.16 L252.10,511.48 L252.60,511.79 L253.10,512.10 L253.60,512.41 L254.10,512.72 L254.60,513.03 L255.10,513.34 L255.60,513.64 L256.10,513.95 L256.60,514.25 L257.10,514.55 L257.60,514.86 L258.10,515.16 L258.60,515.46 L259.10,515.75 L259.60,516.05 L260.10,516.35 L260.60,516.64 L261.10,516.93 L261.60,517.22 L262.10,517.51 L262.60,517.80 L263.10,518.08 L263.60,518.37 L264.10,518.65 L264.60,518.93 L265.10,519.21 L265.60,519.48 L266.10,519.76 L266.60,520.03 L267.10,520.30 L267.60,520.57 L268.10,520.83 L268.60,521.10 L269.10,521.36 L269.60,521.62 L270.10,521.87 L270.60,522.13 L271.10,522.38 L271.60,522.63 L272.10,522.88 L272.60,523.12 L273.10,523.36 L273.60,523.60 L274.10,523.84 L274.60,524.07 L275.10,524.30 L275.60,524.53 L276.10,524.76 L276.60,524.98 L277.10,525.20 L277.60,525.41 L278.10,525.63 L278.60,525.84 L279.10,526.04 L279.60,526.25 L280.10,526.45 L280.60,526.65 L281.10,526.84 L281.60,527.03 L282.10,527.22 L282.60,527.40 L283.10,527.58 L283.60,527.76 L284.10,527.93 L284.60,528.10 L285.10,528.26 L285.60,528.43 L286.10,528.58 L286.60,528.74 L287.10,528.89 L287.60,529.03 L288.10,529.18 L288.60,529.31 L289.10,529.45 L289.60,529.58 L290.10,529.70 L290.60,529.83 L291.10,529.94 L291.60,530.06 L292.10,530.17 L292.60,530.27 L293.10,530.37 L293.60,530.47 L294.10,530.56 L294.60,530.64 L295.10,530.73 L295.60,530.80 L296.10,530.88 L296.60,530.94 L297.10,531.01 L297.60,531.07 L298.10,531.12 L298.60,531.17 L299.10,531.21 L299.60,531.25 L300.10,531.29 L300.60,531.32 L301.10,531.35 L301.60,531.37 L302.10,531.39 L302.60,531.40 L303.10,531.41 L303.60,531.42 L304.10,531.42 L304.60,531.41 L305.10,531.40 L305.60,531.39 L306.10,531.37 L306.60,531.35 L307.10,531.33 L307.60,531.30 L308.10,531.27 L308.60,531.23 L309.10,531.19 L309.60,531.14 L310.10,531.09 L310.60,531.04 L311.10,530.98 L311.60,530.92 L312.10,530.86 L312.60,530.79 L313.10,530.71 L313.60,530.64 L314.10,530.56 L314.60,530.47 L315.10,530.38 L315.60,530.29 L316.10,530.20 L316.60,530.10 L317.10,530.00 L317.60,529.89 L318.10,529.78 L318.60,529.67 L319.10,529.55 L319.60,529.43 L320.10,529.31 L320.60,529.18 L321.10,529.06 L321.60,528.92 L322.10,528.79 L322.60,528.65 L323.10,528.51 L323.60,528.37 L324.10,528.22 L324.60,528.08 L325.10,527.93 L325.60,527.77 L326.10,527.62 L326.60,527.46 L327.10,527.30 L327.60,527.14 L328.10,526.97 L328.60,526.81 L329.10,526.64 L329.60,526.47 L330.10,526.30 L330.60,526.12 L331.10,525.95 L331.60,525.77 L332.10,525.59 L332.60,525.41 L333.10,525.23 L333.60,525.05 L334.10,524.87 L334.60,524.68 L335.10,524.49 L335.60,524.31 L336.10,524.12 L336.60,523.93 L337.10,523.74 L337.60,523.55 L338.10,523.35 L338.60,523.16 L339.10,522.97 L339.60,522.77 L340.10,522.58 L340.60,522.38 L341.10,522.18 L341.60,521.99 L342.10,521.79 L342.60,521.59 L343.10,521.39 L343.60,521.19 L344.10,520.99 L344.60,520.78 L345.10,520.58 L345.60,520.38 L346.10,520.17 L346.60,519.97 L347.10,519.76 L347.60,519.56 L348.10,519.35 L348.60,519.14 L349.10,518.94 L349.60,518.73 L350.10,518.52 L350.60,518.31 L351.10,518.10 L351.60,517.89 L352.10,517.68 L352.60,517.47 L353.10,517.26 L353.60,517.04 L354.10,516.83 L354.60,516.62 L355.10,516.41 L355.60,516.19 L356.10,515.98 L356.60,515.76 L357.10,515.55 L357.60,515.33 L358.10,515.12 L358.60,514.90 L359.10,514.68 L359.60,514.47 L360.10,514.25 L360.60,514.03 L361.10,513.82 L361.60,513.60 L362.10,513.38 L362.60,513.16 L363.10,512.95 L363.60,512.73 L364.10,512.51 L364.60,512.29 L365.10,512.07 L365.60,511.85 L366.10,511.63 L366.60,511.41 L367.10,511.19 L367.60,510.97 L368.10,510.76 L368.60,510.54 L369.10,510.32 L369.60,510.10 L370.10,509.88 L370.60,509.66 L371.10,509.44 L371.60,509.22 L372.10,509.00 L372.60,508.78 L373.10,508.56 L373.60,508.34 L374.10,508.12 L374.60,507.90 L375.10,507.68 L375.60,507.46 L376.10,507.25 L376.60,507.03 L377.10,506.81 L377.60,506.59 L378.10,506.37 L378.60,506.15 L379.10,505.94 L379.60,505.72 L380.10,505.50 L380.60,505.28 L381.10,505.07 L381.60,504.85 L382.10,504.64 L382.60,504.42 L383.10,504.20 L383.60,503.99 L384.10,503.77 L384.60,503.56 L385.10,503.35 L385.60,503.13 L386.10,502.92 L386.60,502.71 L387.10,502.49 L387.60,502.28 L388.10,502.07 L388.60,501.86 L389.10,501.65 L389.60,501.44 L390.10,501.23 L390.60,501.02 L391.10,500.81 L391.60,500.61 L392.10,500.40 L392.60,500.19 L393.10,499.99 L393.60,499.78 L394.10,499.57 L394.60,499.37 L395.10,499.17 L395.60,498.96 L396.10,498.76 L396.60,498.56 L397.10,498.36 L397.60,498.16 L398.10,497.96 L398.60,497.76 L399.10,497.56 L399.60,497.36 L400.10,497.17 L400.60,496.97 L401.10,496.78 L401.60,496.58 L402.10,496.39 L402.60,496.20 L403.10,496.01 L403.60,495.81 L404.10,495.62 L404.60,495.44 L405.10,495.25 L405.60,495.06 L406.10,494.87 L406.60,494.69 L407.10,494.50 L407.60,494.32 L408.10,494.13 L408.60,493.95 L409.10,493.77 L409.60,493.59 L410.10,493.41 L410.60,493.23 L411.10,493.05 L411.60,492.87 L412.10,492.69 L412.60,492.52 L413.10,492.34 L413.60,492.17 L414.10,491.99 L414.60,491.82 L415.10,491.65 L415.60,491.48 L416.10,491.31 L416.60,491.14 L417.10,490.97 L417.60,490.80 L418.10,490.64 L418.60,490.47 L419.10,490.31 L419.60,490.14 L420.10,489.98 L420.60,489.82 L421.10,489.66 L421.60,489.50 L422.10,489.34 L422.60,489.18 L423.10,489.02 L423.60,488.87 L424.10,488.71 L424.60,488.56 L425.10,488.40 L425.60,488.25 L426.10,488.10 L426.60,487.95 L427.10,487.80 L427.60,487.65 L428.10,487.50 L428.60,487.35 L429.10,487.21 L429.60,487.06 L430.10,486.92 L430.60,486.78 L431.10,486.63 L431.60,486.49 L432.10,486.35 L432.60,486.21 L433.10,486.07 L433.60,485.94 L434.10,485.80 L434.60,485.66 L435.10,485.53 L435.60,485.40 L436.10,485.26 L436.60,485.13 L437.10,485.00 L437.60,484.87 L438.10,484.74 L438.60,484.62 L439.10,484.49 L439.60,484.36 L440.10,484.24 L440.60,484.12 L441.10,483.99 L441.60,483.87 L442.10,483.75 L442.60,483.63 L443.10,483.52 L443.60,483.40 L444.10,483.28 L444.60,483.17 L445.10,483.05 L445.60,482.94 L446.10,482.83 L446.60,482.72 L447.10,482.61 L447.60,482.50 L448.10,482.39 L448.60,482.29 L449.10,482.18 L449.60,482.08 L450.10,481.97 L450.60,481.87 L451.10,481.77 L451.60,481.67 L452.10,481.57 L452.60,481.47 L453.10,481.38 L453.60,481.28 L454.10,481.19 L454.60,481.09 L455.10,481.00 L455.60,480.91 L456.10,480.82 L456.60,480.73 L457.10,480.64 L457.60,480.55 L458.10,480.47 L458.60,480.38 L459.10,480.30 L459.60,480.22 L460.10,480.14 L460.60,480.06 L461.10,479.98 L461.60,479.90 L462.10,479.82 L462.60,479.75 L463.10,479.68 L463.60,479.60 L464.10,479.53 L464.60,479.46 L465.10,479.39 L465.60,479.32 L466.10,479.25 L466.60,479.19 L467.10,479.12 L467.60,479.06 L468.10,478.99 L468.60,478.93 L469.10,478.87 L469.60,478.81 L470.10,478.75 L470.60,478.69 L471.10,478.64 L471.60,478.58 L472.10,478.53 L472.60,478.47 L473.10,478.42 L473.60,478.37 L474.10,478.32 L474.60,478.27 L475.10,478.22 L475.60,478.17 L476.10,478.13 L476.60,478.08 L477.10,478.04 L477.60,478.00 L478.10,477.95 L478.60,477.91 L479.10,477.87 L479.60,477.83 L480.10,477.80 L480.60,477.76 L481.10,477.72 L481.60,477.69 L482.10,477.65 L482.60,477.62 L483.10,477.59 L483.60,477.56 L484.10,477.53 L484.60,477.50 L485.10,477.47 L485.60,477.44 L486.10,477.42 L486.60,477.39 L487.10,477.37 L487.60,477.35 L488.10,477.32 L488.60,477.30 L489.10,477.28 L489.60,477.26 L490.10,477.24 L490.60,477.23 L491.10,477.21 L491.60,477.19 L492.10,477.18 L492.60,477.16 L493.10,477.15 L493.60,477.14 L494.10,477.13 L494.60,477.12 L495.10,477.11 L495.60,477.10 L496.10,477.09 L496.60,477.09 L497.10,477.08 L497.60,477.08 L498.10,477.07 L498.60,477.07 L499.10,477.07 L499.60,477.07 L500.10,477.07 L500.60,477.07 L501.10,477.07 L501.60,477.07 L502.10,477.07 L502.60,477.08 L503.10,477.08 L503.60,477.09 L504.10,477.09 L504.60,477.10 L505.10,477.11 L505.60,477.12 L506.10,477.13 L506.60,477.14 L507.10,477.15 L507.60,477.16 L508.10,477.18 L508.60,477.19 L509.10,477.20 L509.60,477.22 L510.10,477.24 L510.60,477.25 L511.10,477.27 L511.60,477.29 L512.10,477.31 L512.60,477.33 L513.10,477.35 L513.60,477.37 L514.10,477.40 L514.60,477.42 L515.10,477.44 L515.60,477.47 L516.10,477.49 L516.60,477.52 L517.10,477.55 L517.60,477.58 L518.10,477.60 L518.60,477.63 L519.10,477.66 L519.60,477.70 L520.10,477.73 L520.60,477.76 L521.10,477.79 L521.60,477.83 L522.10,477.86 L522.60,477.90 L523.10,477.93 L523.60,477.97 L524.10,478.01 L524.60,478.05 L525.10,478.08 L525.60,478.12 L526.10,478.16 L526.60,478.21 L527.10,478.25 L527.60,478.29 L528.10,478.33 L528.60,478.38 L529.10,478.42 L529.60,478.47 L530.10,478.51 L530.60,478.56 L531.10,478.61 L531.60,478.65 L532.10,478.70 L532.60,478.75 L533.10,478.80 L533.60,478.85 L534.10,478.90 L534.60,478.95 L535.10,479.01 L535.60,479.06 L536.10,479.11 L536.60,479.17 L537.10,479.22 L537.60,479.28 L538.10,479.33 L538.60,479.39 L539.10,479.45 L539.60,479.50 L540.10,479.56 L540.60,479.62 L541.10,479.68 L541.60,479.74 L542.10,479.80 L542.60,479.86 L543.10,479.93 L543.60,479.99 L544.10,480.05 L544.60,480.12 L545.10,480.18 L545.60,480.24 L546.10,480.31 L546.60,480.38 L547.10,480.44 L547.60,480.51 L548.10,480.57 L548.60,480.64 L549.10,480.70 L549.60,480.77 L550.10,480.83 L550.60,480.90 L551.10,480.96 L551.60,481.03 L552.10,481.09 L552.60,481.16 L553.10,481.22 L553.60,481.28 L554.10,481.34 L554.60,481.40 L555.10,481.46 L555.60,481.52 L556.10,481.58 L556.60,481.64 L557.10,481.69 L557.60,481.75 L558.10,481.80 L558.60,481.85 L559.10,481.91 L559.60,481.96 L560.10,482.00 L560.60,482.05 L561.10,482.09 L561.60,482.14 L562.10,482.18 L562.60,482.22 L563.10,482.25 L563.60,482.29 L564.10,482.32 L564.60,482.35 L565.10,482.38 L565.60,482.41 L566.10,482.43 L566.60,482.46 L567.10,482.48 L567.60,482.49 L568.10,482.51 L568.60,482.52 L569.10,482.53 L569.60,482.54 L570.10,482.54 L570.60,482.54 L571.10,482.54 L571.60,482.53 L572.10,482.52 L572.60,482.51 L573.10,482.50 L573.60,482.48 L574.10,482.46 L574.60,482.43 L575.10,482.40 L575.60,482.37 L576.10,482.33 L576.60,482.30 L577.10,482.25 L577.60,482.20 L578.10,482.15 L578.60,482.10 L579.10,482.04 L579.60,481.98 L580.10,481.91 L580.60,481.84 L581.10,481.76 L581.60,481.68 L582.10,481.59 L582.60,481.51 L583.10,481.41 L583.60,481.31 L584.10,481.21 L584.60,481.10 L585.10,480.99 L585.60,480.87 L586.10,480.75 L586.60,480.62 L587.10,480.49 L587.60,480.35 L588.10,480.20 L588.60,480.05 L589.10,479.90 L589.60,479.74 L590.10,479.58 L590.60,479.40 L591.00,479.26" fill="none" stroke="#606060" stroke-width="1.4" stroke-dasharray="4 2.4"/>
<path d="M76.00,491.74 L79.00,491.21 L82.00,490.43 L85.00,489.46 L88.00,488.31 L91.00,487.00 L92.60,486.24 L93.10,486.16 L93.60,486.08 L94.10,486.00 L94.60,485.92 L95.10,485.83 L95.60,485.74 L96.10,485.65 L96.60,485.55 L97.10,485.46 L97.60,485.36 L98.10,485.25 L98.60,485.15 L99.10,485.04 L99.60,484.93 L100.10,484.82 L100.60,484.70 L101.10,484.59 L101.60,484.47 L102.10,484.35 L102.60,484.22 L103.10,484.10 L103.60,483.97 L104.10,483.84 L104.60,483.71 L105.10,483.58 L105.60,483.44 L106.10,483.31 L106.60,483.17 L107.10,483.03 L107.60,482.89 L108.10,482.75 L108.60,482.60 L109.10,482.46 L109.60,482.31 L110.10,482.16 L110.60,482.01 L111.10,481.86 L111.60,481.71 L112.10,481.55 L112.60,481.40 L113.10,481.24 L113.60,481.09 L114.10,480.93 L114.60,480.77 L115.10,480.61 L115.60,480.45 L116.10,480.29 L116.60,480.13 L117.10,479.97 L117.60,479.80 L118.10,479.64 L118.60,479.47 L119.10,479.31 L119.60,479.14 L120.10,478.98 L120.60,478.81 L121.10,478.65 L121.60,478.48 L122.10,478.31 L122.60,478.14 L123.10,477.98 L123.60,477.81 L124.10,477.64 L124.60,477.47 L125.10,477.31 L125.60,477.14 L126.10,476.97 L126.60,476.80 L127.10,476.64 L127.60,476.47 L128.10,476.30 L128.60,476.14 L129.10,475.97 L129.60,475.81 L130.10,475.64 L130.60,475.48 L131.10,475.32 L131.60,475.15 L132.10,474.99 L132.60,474.83 L133.10,474.67 L133.60,474.51 L134.10,474.35 L134.60,474.19 L135.10,474.03 L135.60,473.88 L136.10,473.72 L136.60,473.57 L137.10,473.42 L137.60,473.27 L138.10,473.12 L138.60,472.97 L139.10,472.82 L139.60,472.67 L140.10,472.53 L140.60,472.38 L141.10,472.24 L141.60,472.10 L142.10,471.96 L142.60,471.83 L143.10,471.69 L143.60,471.56 L144.10,471.43 L144.60,471.30 L145.10,471.17 L145.60,471.04 L146.10,470.92 L146.60,470.80 L147.10,470.68 L147.60,470.56 L148.10,470.45 L148.60,470.33 L149.10,470.22 L149.60,470.11 L150.10,470.01 L150.60,469.90 L151.10,469.80 L151.60,469.70 L152.10,469.61 L152.60,469.51 L153.10,469.42 L153.60,469.34 L154.10,469.25 L154.60,469.17 L155.10,469.09 L155.60,469.01 L156.10,468.94 L156.60,468.87 L157.10,468.80 L157.60,468.73 L158.10,468.67 L158.60,468.61 L159.10,468.56 L159.60,468.51 L160.10,468.46 L160.60,468.41 L161.10,468.37 L161.60,468.33 L162.10,468.30 L162.60,468.26 L163.10,468.24 L163.60,468.21 L164.10,468.19 L164.60,468.17 L165.10,468.16 L165.60,468.15 L166.10,468.15 L166.60,468.14 L167.10,468.15 L167.60,468.15 L168.10,468.16 L168.60,468.18 L169.10,468.20 L169.60,468.22 L170.10,468.25 L170.60,468.28 L171.10,468.31 L171.60,468.35 L172.10,468.40 L172.60,468.45 L173.10,468.50 L173.60,468.56 L174.10,468.62 L174.60,468.69 L175.10,468.76 L175.60,468.84 L176.10,468.92 L176.60,469.01 L177.10,469.10 L177.60,469.20 L178.10,469.30 L178.60,469.40 L179.10,469.52 L179.60,469.63 L180.10,469.75 L180.60,469.88 L181.10,470.01 L181.60,470.15 L182.10,470.29 L182.60,470.43 L183.10,470.58 L183.60,470.74 L184.10,470.89 L184.60,471.06 L185.10,471.23 L185.60,471.40 L186.10,471.57 L186.60,471.76 L187.10,471.94 L187.60,472.13 L188.10,472.33 L188.60,472.52 L189.10,472.73 L189.60,472.93 L190.10,473.14 L190.60,473.36 L191.10,473.58 L191.60,473.80 L192.10,474.03 L192.60,474.26 L193.10,474.49 L193.60,474.73 L194.10,474.97 L194.60,475.21 L195.10,475.46 L195.60,475.72 L196.10,475.97 L196.60,476.23 L197.10,476.50 L197.60,476.76 L198.10,477.03 L198.60,477.31 L199.10,477.58 L199.60,477.86 L200.10,478.15 L200.60,478.43 L201.10,478.72 L201.60,479.02 L202.10,479.31 L202.60,479.61 L203.10,479.91 L203.60,480.22 L204.10,480.53 L204.60,480.84 L205.10,481.15 L205.60,481.47 L206.10,481.79 L206.60,482.11 L207.10,482.43 L207.60,482.76 L208.10,483.09 L208.60,483.42 L209.10,483.76 L209.60,484.09 L210.10,484.43 L210.60,484.78 L211.10,485.12 L211.60,485.47 L212.10,485.82 L212.60,486.17 L213.10,486.52 L213.60,486.88 L214.10,487.24 L214.60,487.60 L215.10,487.96 L215.60,488.33 L216.10,488.69 L216.60,489.06 L217.10,489.44 L217.60,489.81 L218.10,490.18 L218.60,490.56 L219.10,490.94 L219.60,491.32 L220.10,491.71 L220.60,492.09 L221.10,492.48 L221.60,492.87 L222.10,493.26 L222.60,493.65 L223.10,494.04 L223.60,494.44 L224.10,494.83 L224.60,495.23 L225.10,495.63 L225.60,496.04 L226.10,496.44 L226.60,496.84 L227.10,497.25 L227.60,497.66 L228.10,498.07 L228.60,498.48 L229.10,498.89 L229.60,499.31 L230.10,499.72 L230.60,500.14 L231.10,500.55 L231.60,500.97 L232.10,501.39 L232.60,501.81 L233.10,502.23 L233.60,502.66 L234.10,503.08 L234.60,503.51 L235.10,503.93 L235.60,504.36 L236.10,504.79 L236.60,505.22 L237.10,505.65 L237.60,506.08 L238.10,506.51 L238.60,506.94 L239.10,507.38 L239.60,507.81 L240.10,508.24 L240.60,508.68 L241.10,509.11 L241.60,509.55 L242.10,509.98 L242.60,510.42 L243.10,510.85 L243.60,511.29 L244.10,511.72 L244.60,512.16 L245.10,512.60 L245.60,513.03 L246.10,513.47 L246.60,513.90 L247.10,514.34 L247.60,514.77 L248.10,515.20 L248.60,515.64 L249.10,516.07 L249.60,516.50 L250.10,516.93 L250.60,517.36 L251.10,517.79 L251.60,518.22 L252.10,518.65 L252.60,519.07 L253.10,519.50 L253.60,519.92 L254.10,520.34 L254.60,520.76 L255.10,521.18 L255.60,521.60 L256.10,522.02 L256.60,522.44 L257.10,522.85 L257.60,523.26 L258.10,523.67 L258.60,524.08 L259.10,524.49 L259.60,524.89 L260.10,525.30 L260.60,525.70 L261.10,526.10 L261.60,526.49 L262.10,526.89 L262.60,527.28 L263.10,527.67 L263.60,528.06 L264.10,528.44 L264.60,528.83 L265.10,529.21 L265.60,529.58 L266.10,529.96 L266.60,530.33 L267.10,530.70 L267.60,531.07 L268.10,531.43 L268.60,531.79 L269.10,532.15 L269.60,532.50 L270.10,532.85 L270.60,533.20 L271.10,533.54 L271.60,533.88 L272.10,534.22 L272.60,534.56 L273.10,534.89 L273.60,535.21 L274.10,535.54 L274.60,535.85 L275.10,536.17 L275.60,536.48 L276.10,536.79 L276.60,537.09 L277.10,537.39 L277.60,537.69 L278.10,537.98 L278.60,538.27 L279.10,538.55 L279.60,538.83 L280.10,539.10 L280.60,539.37 L281.10,539.63 L281.60,539.89 L282.10,540.15 L282.60,540.40 L283.10,540.65 L283.60,540.89 L284.10,541.12 L284.60,541.35 L285.10,541.58 L285.60,541.80 L286.10,542.02 L286.60,542.23 L287.10,542.43 L287.60,542.63 L288.10,542.83 L288.60,543.02 L289.10,543.20 L289.60,543.38 L290.10,543.55 L290.60,543.71 L291.10,543.88 L291.60,544.03 L292.10,544.18 L292.60,544.32 L293.10,544.46 L293.60,544.59 L294.10,544.71 L294.60,544.83 L295.10,544.94 L295.60,545.05 L296.10,545.15 L296.60,545.24 L297.10,545.33 L297.60,545.41 L298.10,545.48 L298.60,545.55 L299.10,545.61 L299.60,545.67 L300.10,545.71 L300.60,545.76 L301.10,545.79 L301.60,545.82 L302.10,545.85 L302.60,545.87 L303.10,545.88 L303.60,545.89 L304.10,545.89 L304.60,545.88 L305.10,545.87 L305.60,545.85 L306.10,545.83 L306.60,545.80 L307.10,545.77 L307.60,545.73 L308.10,545.68 L308.60,545.63 L309.10,545.57 L309.60,545.51 L310.10,545.44 L310.60,545.37 L311.10,545.29 L311.60,545.21 L312.10,545.12 L312.60,545.03 L313.10,544.93 L313.60,544.82 L314.10,544.71 L314.60,544.60 L315.10,544.48 L315.60,544.35 L316.10,544.22 L316.60,544.09 L317.10,543.95 L317.60,543.80 L318.10,543.65 L318.60,543.50 L319.10,543.34 L319.60,543.18 L320.10,543.01 L320.60,542.84 L321.10,542.66 L321.60,542.48 L322.10,542.30 L322.60,542.11 L323.10,541.92 L323.60,541.72 L324.10,541.53 L324.60,541.32 L325.10,541.12 L325.60,540.91 L326.10,540.70 L326.60,540.48 L327.10,540.26 L327.60,540.04 L328.10,539.82 L328.60,539.59 L329.10,539.36 L329.60,539.13 L330.10,538.90 L330.60,538.66 L331.10,538.42 L331.60,538.18 L332.10,537.93 L332.60,537.69 L333.10,537.44 L333.60,537.19 L334.10,536.94 L334.60,536.69 L335.10,536.43 L335.60,536.17 L336.10,535.92 L336.60,535.66 L337.10,535.40 L337.60,535.14 L338.10,534.87 L338.60,534.61 L339.10,534.35 L339.60,534.08 L340.10,533.81 L340.60,533.54 L341.10,533.27 L341.60,533.00 L342.10,532.73 L342.60,532.46 L343.10,532.19 L343.60,531.91 L344.10,531.64 L344.60,531.36 L345.10,531.09 L345.60,530.81 L346.10,530.53 L346.60,530.25 L347.10,529.97 L347.60,529.69 L348.10,529.40 L348.60,529.12 L349.10,528.84 L349.60,528.55 L350.10,528.27 L350.60,527.98 L351.10,527.70 L351.60,527.41 L352.10,527.12 L352.60,526.83 L353.10,526.54 L353.60,526.25 L354.10,525.96 L354.60,525.67 L355.10,525.38 L355.60,525.09 L356.10,524.79 L356.60,524.50 L357.10,524.21 L357.60,523.91 L358.10,523.62 L358.60,523.32 L359.10,523.03 L359.60,522.73 L360.10,522.44 L360.60,522.14 L361.10,521.84 L361.60,521.55 L362.10,521.25 L362.60,520.95 L363.10,520.65 L363.60,520.35 L364.10,520.06 L364.60,519.76 L365.10,519.46 L365.60,519.16 L366.10,518.86 L366.60,518.56 L367.10,518.26 L367.60,517.96 L368.10,517.66 L368.60,517.36 L369.10,517.06 L369.60,516.76 L370.10,516.46 L370.60,516.16 L371.10,515.86 L371.60,515.56 L372.10,515.26 L372.60,514.96 L373.10,514.66 L373.60,514.36 L374.10,514.06 L374.60,513.76 L375.10,513.46 L375.60,513.16 L376.10,512.86 L376.60,512.57 L377.10,512.27 L377.60,511.97 L378.10,511.67 L378.60,511.37 L379.10,511.08 L379.60,510.78 L380.10,510.48 L380.60,510.19 L381.10,509.89 L381.60,509.59 L382.10,509.30 L382.60,509.00 L383.10,508.71 L383.60,508.42 L384.10,508.12 L384.60,507.83 L385.10,507.54 L385.60,507.25 L386.10,506.96 L386.60,506.66 L387.10,506.37 L387.60,506.08 L388.10,505.80 L388.60,505.51 L389.10,505.22 L389.60,504.93 L390.10,504.65 L390.60,504.36 L391.10,504.08 L391.60,503.79 L392.10,503.51 L392.60,503.23 L393.10,502.95 L393.60,502.67 L394.10,502.39 L394.60,502.11 L395.10,501.83 L395.60,501.55 L396.10,501.27 L396.60,501.00 L397.10,500.72 L397.60,500.45 L398.10,500.18 L398.60,499.91 L399.10,499.64 L399.60,499.37 L400.10,499.10 L400.60,498.83 L401.10,498.56 L401.60,498.30 L402.10,498.03 L402.60,497.77 L403.10,497.51 L403.60,497.25 L404.10,496.99 L404.60,496.73 L405.10,496.47 L405.60,496.22 L406.10,495.96 L406.60,495.71 L407.10,495.45 L407.60,495.20 L408.10,494.95 L408.60,494.70 L409.10,494.45 L409.60,494.20 L410.10,493.96 L410.60,493.71 L411.10,493.47 L411.60,493.23 L412.10,492.98 L412.60,492.74 L413.10,492.50 L413.60,492.27 L414.10,492.03 L414.60,491.79 L415.10,491.56 L415.60,491.33 L416.10,491.09 L416.60,490.86 L417.10,490.63 L417.60,490.40 L418.10,490.18 L418.60,489.95 L419.10,489.73 L419.60,489.50 L420.10,489.28 L420.60,489.06 L421.10,488.84 L421.60,488.62 L422.10,488.40 L422.60,488.19 L423.10,487.97 L423.60,487.76 L424.10,487.54 L424.60,487.33 L425.10,487.12 L425.60,486.91 L426.10,486.71 L426.60,486.50 L427.10,486.30 L427.60,486.09 L428.10,485.89 L428.60,485.69 L429.10,485.49 L429.60,485.29 L430.10,485.09 L430.60,484.90 L431.10,484.70 L431.60,484.51 L432.10,484.32 L432.60,484.13 L433.10,483.94 L433.60,483.75 L434.10,483.57 L434.60,483.38 L435.10,483.20 L435.60,483.01 L436.10,482.83 L436.60,482.65 L437.10,482.48 L437.60,482.30 L438.10,482.12 L438.60,481.95 L439.10,481.78 L439.60,481.61 L440.10,481.44 L440.60,481.27 L441.10,481.10 L441.60,480.93 L442.10,480.77 L442.60,480.61 L443.10,480.45 L443.60,480.29 L444.10,480.13 L444.60,479.97 L445.10,479.81 L445.60,479.66 L446.10,479.51 L446.60,479.36 L447.10,479.21 L447.60,479.06 L448.10,478.91 L448.60,478.76 L449.10,478.62 L449.60,478.48 L450.10,478.34 L450.60,478.20 L451.10,478.06 L451.60,477.92 L452.10,477.79 L452.60,477.65 L453.10,477.52 L453.60,477.39 L454.10,477.26 L454.60,477.13 L455.10,477.01 L455.60,476.88 L456.10,476.76 L456.60,476.64 L457.10,476.52 L457.60,476.40 L458.10,476.28 L458.60,476.17 L459.10,476.05 L459.60,475.94 L460.10,475.83 L460.60,475.72 L461.10,475.61 L461.60,475.51 L462.10,475.40 L462.60,475.30 L463.10,475.20 L463.60,475.10 L464.10,475.00 L464.60,474.90 L465.10,474.81 L465.60,474.71 L466.10,474.62 L466.60,474.53 L467.10,474.44 L467.60,474.35 L468.10,474.27 L468.60,474.18 L469.10,474.10 L469.60,474.02 L470.10,473.94 L470.60,473.86 L471.10,473.78 L471.60,473.70 L472.10,473.63 L472.60,473.56 L473.10,473.49 L473.60,473.42 L474.10,473.35 L474.60,473.28 L475.10,473.21 L475.60,473.15 L476.10,473.09 L476.60,473.02 L477.10,472.96 L477.60,472.91 L478.10,472.85 L478.60,472.79 L479.10,472.74 L479.60,472.68 L480.10,472.63 L480.60,472.58 L481.10,472.53 L481.60,472.48 L482.10,472.44 L482.60,472.39 L483.10,472.35 L483.60,472.31 L484.10,472.27 L484.60,472.23 L485.10,472.19 L485.60,472.15 L486.10,472.11 L486.60,472.08 L487.10,472.05 L487.60,472.02 L488.10,471.98 L488.60,471.96 L489.10,471.93 L489.60,471.90 L490.10,471.88 L490.60,471.85 L491.10,471.83 L491.60,471.81 L492.10,471.79 L492.60,471.77 L493.10,471.75 L493.60,471.73 L494.10,471.72 L494.60,471.71 L495.10,471.69 L495.60,471.68 L496.10,471.67 L496.60,471.66 L497.10,471.65 L497.60,471.65 L498.10,471.64 L498.60,471.64 L499.10,471.64 L499.60,471.63 L500.10,471.63 L500.60,471.63 L501.10,471.64 L501.60,471.64 L502.10,471.64 L502.60,471.65 L503.10,471.65 L503.60,471.66 L504.10,471.67 L504.60,471.68 L505.10,471.69 L505.60,471.70 L506.10,471.72 L506.60,471.73 L507.10,471.75 L507.60,471.77 L508.10,471.78 L508.60,471.80 L509.10,471.82 L509.60,471.84 L510.10,471.87 L510.60,471.89 L511.10,471.91 L511.60,471.94 L512.10,471.97 L512.60,471.99 L513.10,472.02 L513.60,472.05 L514.10,472.08 L514.60,472.12 L515.10,472.15 L515.60,472.18 L516.10,472.22 L516.60,472.25 L517.10,472.29 L517.60,472.33 L518.10,472.37 L518.60,472.41 L519.10,472.45 L519.60,472.49 L520.10,472.54 L520.60,472.58 L521.10,472.63 L521.60,472.67 L522.10,472.72 L522.60,472.77 L523.10,472.82 L523.60,472.87 L524.10,472.92 L524.60,472.97 L525.10,473.03 L525.60,473.08 L526.10,473.13 L526.60,473.19 L527.10,473.25 L527.60,473.31 L528.10,473.36 L528.60,473.42 L529.10,473.49 L529.60,473.55 L530.10,473.61 L530.60,473.67 L531.10,473.74 L531.60,473.80 L532.10,473.87 L532.60,473.94 L533.10,474.00 L533.60,474.07 L534.10,474.14 L534.60,474.21 L535.10,474.28 L535.60,474.36 L536.10,474.43 L536.60,474.50 L537.10,474.58 L537.60,474.65 L538.10,474.73 L538.60,474.81 L539.10,474.89 L539.60,474.97 L540.10,475.05 L540.60,475.13 L541.10,475.21 L541.60,475.29 L542.10,475.37 L542.60,475.46 L543.10,475.54 L543.60,475.63 L544.10,475.71 L544.60,475.80 L545.10,475.89 L545.60,475.98 L546.10,476.07 L546.60,476.15 L547.10,476.24 L547.60,476.33 L548.10,476.42 L548.60,476.51 L549.10,476.60 L549.60,476.69 L550.10,476.78 L550.60,476.87 L551.10,476.96 L551.60,477.05 L552.10,477.14 L552.60,477.22 L553.10,477.31 L553.60,477.39 L554.10,477.48 L554.60,477.56 L555.10,477.64 L555.60,477.72 L556.10,477.80 L556.60,477.88 L557.10,477.96 L557.60,478.03 L558.10,478.11 L558.60,478.18 L559.10,478.25 L559.60,478.31 L560.10,478.38 L560.60,478.44 L561.10,478.50 L561.60,478.56 L562.10,478.62 L562.60,478.67 L563.10,478.72 L563.60,478.77 L564.10,478.82 L564.60,478.86 L565.10,478.90 L565.60,478.93 L566.10,478.97 L566.60,479.00 L567.10,479.03 L567.60,479.05 L568.10,479.07 L568.60,479.08 L569.10,479.10 L569.60,479.11 L570.10,479.11 L570.60,479.11 L571.10,479.11 L571.60,479.10 L572.10,479.09 L572.60,479.07 L573.10,479.05 L573.60,479.03 L574.10,479.00 L574.60,478.96 L575.10,478.92 L575.60,478.88 L576.10,478.83 L576.60,478.78 L577.10,478.72 L577.60,478.65 L578.10,478.58 L578.60,478.51 L579.10,478.43 L579.60,478.34 L580.10,478.25 L580.60,478.15 L581.10,478.05 L581.60,477.94 L582.10,477.82 L582.60,477.70 L583.10,477.57 L583.60,477.44 L584.10,477.29 L584.60,477.15 L585.10,476.99 L585.60,476.83 L586.10,476.66 L586.60,476.49 L587.10,476.31 L587.60,476.12 L588.10,475.92 L588.60,475.72 L589.10,475.51 L589.60,475.29 L590.10,475.06 L590.60,474.83 L591.00,474.64" fill="none" stroke="#505050" stroke-width="2.1" stroke-dasharray="9.5 4 2 4"/>
<path d="M76.00,491.69 L79.00,490.99 L82.00,489.98 L85.00,488.70 L88.00,487.20 L91.00,485.48 L92.60,484.49 L93.10,484.39 L93.60,484.29 L94.10,484.18 L94.60,484.07 L95.10,483.95 L95.60,483.84 L96.10,483.71 L96.60,483.59 L97.10,483.46 L97.60,483.33 L98.10,483.20 L98.60,483.06 L99.10,482.92 L99.60,482.77 L100.10,482.63 L100.60,482.48 L101.10,482.32 L101.60,482.17 L102.10,482.01 L102.60,481.85 L103.10,481.68 L103.60,481.52 L104.10,481.35 L104.60,481.18 L105.10,481.00 L105.60,480.83 L106.10,480.65 L106.60,480.47 L107.10,480.29 L107.60,480.10 L108.10,479.92 L108.60,479.73 L109.10,479.54 L109.60,479.34 L110.10,479.15 L110.60,478.95 L111.10,478.76 L111.60,478.56 L112.10,478.36 L112.60,478.15 L113.10,477.95 L113.60,477.74 L114.10,477.54 L114.60,477.33 L115.10,477.12 L115.60,476.91 L116.10,476.70 L116.60,476.49 L117.10,476.28 L117.60,476.06 L118.10,475.85 L118.60,475.63 L119.10,475.42 L119.60,475.20 L120.10,474.98 L120.60,474.76 L121.10,474.55 L121.60,474.33 L122.10,474.11 L122.60,473.89 L123.10,473.67 L123.60,473.45 L124.10,473.23 L124.60,473.01 L125.10,472.79 L125.60,472.57 L126.10,472.35 L126.60,472.14 L127.10,471.92 L127.60,471.70 L128.10,471.48 L128.60,471.26 L129.10,471.05 L129.60,470.83 L130.10,470.61 L130.60,470.40 L131.10,470.19 L131.60,469.97 L132.10,469.76 L132.60,469.55 L133.10,469.34 L133.60,469.13 L134.10,468.92 L134.60,468.71 L135.10,468.51 L135.60,468.30 L136.10,468.10 L136.60,467.90 L137.10,467.70 L137.60,467.50 L138.10,467.31 L138.60,467.11 L139.10,466.92 L139.60,466.73 L140.10,466.54 L140.60,466.35 L141.10,466.16 L141.60,465.98 L142.10,465.80 L142.60,465.62 L143.10,465.44 L143.60,465.27 L144.10,465.10 L144.60,464.93 L145.10,464.76 L145.60,464.59 L146.10,464.43 L146.60,464.27 L147.10,464.12 L147.60,463.96 L148.10,463.81 L148.60,463.66 L149.10,463.52 L149.60,463.38 L150.10,463.24 L150.60,463.10 L151.10,462.97 L151.60,462.84 L152.10,462.71 L152.60,462.59 L153.10,462.47 L153.60,462.36 L154.10,462.25 L154.60,462.14 L155.10,462.03 L155.60,461.93 L156.10,461.83 L156.60,461.74 L157.10,461.65 L157.60,461.57 L158.10,461.49 L158.60,461.41 L159.10,461.34 L159.60,461.27 L160.10,461.21 L160.60,461.15 L161.10,461.09 L161.60,461.04 L162.10,460.99 L162.60,460.95 L163.10,460.92 L163.60,460.89 L164.10,460.86 L164.60,460.84 L165.10,460.82 L165.60,460.81 L166.10,460.80 L166.60,460.80 L167.10,460.80 L167.60,460.81 L168.10,460.82 L168.60,460.84 L169.10,460.87 L169.60,460.90 L170.10,460.93 L170.60,460.97 L171.10,461.02 L171.60,461.07 L172.10,461.13 L172.60,461.20 L173.10,461.27 L173.60,461.34 L174.10,461.42 L174.60,461.51 L175.10,461.61 L175.60,461.71 L176.10,461.81 L176.60,461.93 L177.10,462.05 L177.60,462.17 L178.10,462.31 L178.60,462.45 L179.10,462.59 L179.60,462.74 L180.10,462.90 L180.60,463.07 L181.10,463.24 L181.60,463.42 L182.10,463.60 L182.60,463.79 L183.10,463.99 L183.60,464.19 L184.10,464.40 L184.60,464.61 L185.10,464.83 L185.60,465.06 L186.10,465.29 L186.60,465.53 L187.10,465.77 L187.60,466.02 L188.10,466.27 L188.60,466.53 L189.10,466.80 L189.60,467.07 L190.10,467.34 L190.60,467.62 L191.10,467.91 L191.60,468.20 L192.10,468.50 L192.60,468.80 L193.10,469.11 L193.60,469.42 L194.10,469.73 L194.60,470.05 L195.10,470.38 L195.60,470.71 L196.10,471.05 L196.60,471.39 L197.10,471.73 L197.60,472.08 L198.10,472.43 L198.60,472.79 L199.10,473.16 L199.60,473.52 L200.10,473.89 L200.60,474.27 L201.10,474.65 L201.60,475.03 L202.10,475.42 L202.60,475.81 L203.10,476.21 L203.60,476.60 L204.10,477.01 L204.60,477.42 L205.10,477.83 L205.60,478.24 L206.10,478.66 L206.60,479.08 L207.10,479.50 L207.60,479.93 L208.10,480.36 L208.60,480.80 L209.10,481.24 L209.60,481.68 L210.10,482.13 L210.60,482.57 L211.10,483.02 L211.60,483.48 L212.10,483.94 L212.60,484.40 L213.10,484.86 L213.60,485.33 L214.10,485.80 L214.60,486.27 L215.10,486.74 L215.60,487.22 L216.10,487.70 L216.60,488.19 L217.10,488.67 L217.60,489.16 L218.10,489.65 L218.60,490.15 L219.10,490.64 L219.60,491.14 L220.10,491.64 L220.60,492.15 L221.10,492.66 L221.60,493.16 L222.10,493.68 L222.60,494.19 L223.10,494.70 L223.60,495.22 L224.10,495.74 L224.60,496.26 L225.10,496.79 L225.60,497.32 L226.10,497.84 L226.60,498.37 L227.10,498.91 L227.60,499.44 L228.10,499.98 L228.60,500.51 L229.10,501.05 L229.60,501.60 L230.10,502.14 L230.60,502.68 L231.10,503.23 L231.60,503.78 L232.10,504.33 L232.60,504.88 L233.10,505.43 L233.60,505.98 L234.10,506.54 L234.60,507.10 L235.10,507.66 L235.60,508.21 L236.10,508.78 L236.60,509.34 L237.10,509.90 L237.60,510.46 L238.10,511.03 L238.60,511.60 L239.10,512.16 L239.60,512.73 L240.10,513.30 L240.60,513.87 L241.10,514.44 L241.60,515.01 L242.10,515.58 L242.60,516.15 L243.10,516.72 L243.60,517.29 L244.10,517.86 L244.60,518.43 L245.10,519.00 L245.60,519.57 L246.10,520.14 L246.60,520.71 L247.10,521.27 L247.60,521.84 L248.10,522.41 L248.60,522.98 L249.10,523.54 L249.60,524.11 L250.10,524.67 L250.60,525.23 L251.10,525.80 L251.60,526.36 L252.10,526.92 L252.60,527.48 L253.10,528.03 L253.60,528.59 L254.10,529.14 L254.60,529.69 L255.10,530.24 L255.60,530.79 L256.10,531.34 L256.60,531.88 L257.10,532.42 L257.60,532.96 L258.10,533.50 L258.60,534.04 L259.10,534.57 L259.60,535.10 L260.10,535.63 L260.60,536.15 L261.10,536.67 L261.60,537.19 L262.10,537.71 L262.60,538.22 L263.10,538.73 L263.60,539.24 L264.10,539.75 L264.60,540.25 L265.10,540.75 L265.60,541.24 L266.10,541.73 L266.60,542.22 L267.10,542.70 L267.60,543.18 L268.10,543.66 L268.60,544.13 L269.10,544.59 L269.60,545.06 L270.10,545.52 L270.60,545.97 L271.10,546.42 L271.60,546.87 L272.10,547.31 L272.60,547.75 L273.10,548.18 L273.60,548.61 L274.10,549.03 L274.60,549.45 L275.10,549.86 L275.60,550.27 L276.10,550.67 L276.60,551.07 L277.10,551.46 L277.60,551.85 L278.10,552.23 L278.60,552.60 L279.10,552.97 L279.60,553.34 L280.10,553.70 L280.60,554.05 L281.10,554.40 L281.60,554.74 L282.10,555.07 L282.60,555.40 L283.10,555.72 L283.60,556.04 L284.10,556.35 L284.60,556.65 L285.10,556.94 L285.60,557.23 L286.10,557.52 L286.60,557.79 L287.10,558.06 L287.60,558.32 L288.10,558.58 L288.60,558.82 L289.10,559.06 L289.60,559.30 L290.10,559.52 L290.60,559.74 L291.10,559.95 L291.60,560.15 L292.10,560.35 L292.60,560.53 L293.10,560.71 L293.60,560.89 L294.10,561.05 L294.60,561.20 L295.10,561.35 L295.60,561.49 L296.10,561.62 L296.60,561.74 L297.10,561.85 L297.60,561.96 L298.10,562.05 L298.60,562.14 L299.10,562.22 L299.60,562.29 L300.10,562.36 L300.60,562.41 L301.10,562.46 L301.60,562.50 L302.10,562.53 L302.60,562.56 L303.10,562.57 L303.60,562.58 L304.10,562.58 L304.60,562.58 L305.10,562.56 L305.60,562.54 L306.10,562.51 L306.60,562.47 L307.10,562.43 L307.60,562.37 L308.10,562.32 L308.60,562.25 L309.10,562.17 L309.60,562.09 L310.10,562.00 L310.60,561.91 L311.10,561.81 L311.60,561.70 L312.10,561.58 L312.60,561.46 L313.10,561.33 L313.60,561.19 L314.10,561.05 L314.60,560.90 L315.10,560.74 L315.60,560.57 L316.10,560.40 L316.60,560.23 L317.10,560.04 L317.60,559.85 L318.10,559.66 L318.60,559.46 L319.10,559.25 L319.60,559.04 L320.10,558.82 L320.60,558.59 L321.10,558.36 L321.60,558.13 L322.10,557.89 L322.60,557.64 L323.10,557.39 L323.60,557.13 L324.10,556.87 L324.60,556.61 L325.10,556.34 L325.60,556.07 L326.10,555.79 L326.60,555.51 L327.10,555.22 L327.60,554.93 L328.10,554.64 L328.60,554.34 L329.10,554.04 L329.60,553.74 L330.10,553.43 L330.60,553.12 L331.10,552.81 L331.60,552.49 L332.10,552.17 L332.60,551.85 L333.10,551.52 L333.60,551.20 L334.10,550.87 L334.60,550.54 L335.10,550.20 L335.60,549.87 L336.10,549.53 L336.60,549.19 L337.10,548.85 L337.60,548.51 L338.10,548.16 L338.60,547.82 L339.10,547.47 L339.60,547.12 L340.10,546.77 L340.60,546.42 L341.10,546.07 L341.60,545.72 L342.10,545.36 L342.60,545.01 L343.10,544.65 L343.60,544.29 L344.10,543.93 L344.60,543.57 L345.10,543.20 L345.60,542.84 L346.10,542.48 L346.60,542.11 L347.10,541.74 L347.60,541.37 L348.10,541.00 L348.60,540.63 L349.10,540.26 L349.60,539.89 L350.10,539.52 L350.60,539.14 L351.10,538.77 L351.60,538.39 L352.10,538.01 L352.60,537.64 L353.10,537.26 L353.60,536.88 L354.10,536.50 L354.60,536.12 L355.10,535.73 L355.60,535.35 L356.10,534.97 L356.60,534.58 L357.10,534.20 L357.60,533.81 L358.10,533.43 L358.60,533.04 L359.10,532.66 L359.60,532.27 L360.10,531.88 L360.60,531.49 L361.10,531.10 L361.60,530.71 L362.10,530.33 L362.60,529.94 L363.10,529.54 L363.60,529.15 L364.10,528.76 L364.60,528.37 L365.10,527.98 L365.60,527.59 L366.10,527.20 L366.60,526.80 L367.10,526.41 L367.60,526.02 L368.10,525.63 L368.60,525.23 L369.10,524.84 L369.60,524.45 L370.10,524.06 L370.60,523.66 L371.10,523.27 L371.60,522.88 L372.10,522.48 L372.60,522.09 L373.10,521.70 L373.60,521.31 L374.10,520.92 L374.60,520.52 L375.10,520.13 L375.60,519.74 L376.10,519.35 L376.60,518.96 L377.10,518.57 L377.60,518.18 L378.10,517.79 L378.60,517.40 L379.10,517.01 L379.60,516.62 L380.10,516.23 L380.60,515.84 L381.10,515.45 L381.60,515.07 L382.10,514.68 L382.60,514.30 L383.10,513.91 L383.60,513.53 L384.10,513.14 L384.60,512.76 L385.10,512.37 L385.60,511.99 L386.10,511.61 L386.60,511.23 L387.10,510.85 L387.60,510.47 L388.10,510.09 L388.60,509.72 L389.10,509.34 L389.60,508.96 L390.10,508.59 L390.60,508.22 L391.10,507.84 L391.60,507.47 L392.10,507.10 L392.60,506.73 L393.10,506.36 L393.60,505.99 L394.10,505.63 L394.60,505.26 L395.10,504.90 L395.60,504.54 L396.10,504.17 L396.60,503.81 L397.10,503.45 L397.60,503.09 L398.10,502.74 L398.60,502.38 L399.10,502.03 L399.60,501.68 L400.10,501.32 L400.60,500.97 L401.10,500.62 L401.60,500.28 L402.10,499.93 L402.60,499.59 L403.10,499.24 L403.60,498.90 L404.10,498.56 L404.60,498.22 L405.10,497.89 L405.60,497.55 L406.10,497.22 L406.60,496.88 L407.10,496.55 L407.60,496.22 L408.10,495.89 L408.60,495.57 L409.10,495.24 L409.60,494.92 L410.10,494.59 L410.60,494.27 L411.10,493.95 L411.60,493.64 L412.10,493.32 L412.60,493.00 L413.10,492.69 L413.60,492.38 L414.10,492.07 L414.60,491.76 L415.10,491.45 L415.60,491.15 L416.10,490.84 L416.60,490.54 L417.10,490.24 L417.60,489.94 L418.10,489.64 L418.60,489.35 L419.10,489.05 L419.60,488.76 L420.10,488.47 L420.60,488.18 L421.10,487.89 L421.60,487.60 L422.10,487.32 L422.60,487.04 L423.10,486.75 L423.60,486.48 L424.10,486.20 L424.60,485.92 L425.10,485.65 L425.60,485.37 L426.10,485.10 L426.60,484.83 L427.10,484.56 L427.60,484.30 L428.10,484.03 L428.60,483.77 L429.10,483.51 L429.60,483.25 L430.10,482.99 L430.60,482.73 L431.10,482.48 L431.60,482.23 L432.10,481.97 L432.60,481.73 L433.10,481.48 L433.60,481.23 L434.10,480.99 L434.60,480.75 L435.10,480.51 L435.60,480.27 L436.10,480.03 L436.60,479.79 L437.10,479.56 L437.60,479.33 L438.10,479.10 L438.60,478.87 L439.10,478.65 L439.60,478.42 L440.10,478.20 L440.60,477.98 L441.10,477.76 L441.60,477.54 L442.10,477.33 L442.60,477.11 L443.10,476.90 L443.60,476.69 L444.10,476.49 L444.60,476.28 L445.10,476.08 L445.60,475.87 L446.10,475.67 L446.60,475.48 L447.10,475.28 L447.60,475.09 L448.10,474.89 L448.60,474.70 L449.10,474.51 L449.60,474.33 L450.10,474.14 L450.60,473.96 L451.10,473.78 L451.60,473.60 L452.10,473.42 L452.60,473.25 L453.10,473.07 L453.60,472.90 L454.10,472.73 L454.60,472.57 L455.10,472.40 L455.60,472.24 L456.10,472.08 L456.60,471.92 L457.10,471.76 L457.60,471.61 L458.10,471.45 L458.60,471.30 L459.10,471.15 L459.60,471.01 L460.10,470.86 L460.60,470.72 L461.10,470.58 L461.60,470.44 L462.10,470.30 L462.60,470.17 L463.10,470.03 L463.60,469.90 L464.10,469.77 L464.60,469.65 L465.10,469.52 L465.60,469.40 L466.10,469.28 L466.60,469.16 L467.10,469.04 L467.60,468.93 L468.10,468.81 L468.60,468.70 L469.10,468.59 L469.60,468.49 L470.10,468.38 L470.60,468.28 L471.10,468.18 L471.60,468.08 L472.10,467.98 L472.60,467.88 L473.10,467.79 L473.60,467.70 L474.10,467.61 L474.60,467.52 L475.10,467.43 L475.60,467.35 L476.10,467.27 L476.60,467.19 L477.10,467.11 L477.60,467.03 L478.10,466.96 L478.60,466.88 L479.10,466.81 L479.60,466.74 L480.10,466.67 L480.60,466.61 L481.10,466.54 L481.60,466.48 L482.10,466.42 L482.60,466.36 L483.10,466.30 L483.60,466.25 L484.10,466.19 L484.60,466.14 L485.10,466.09 L485.60,466.04 L486.10,466.00 L486.60,465.95 L487.10,465.91 L487.60,465.87 L488.10,465.83 L488.60,465.79 L489.10,465.75 L489.60,465.72 L490.10,465.68 L490.60,465.65 L491.10,465.62 L491.60,465.59 L492.10,465.57 L492.60,465.54 L493.10,465.52 L493.60,465.50 L494.10,465.48 L494.60,465.46 L495.10,465.44 L495.60,465.43 L496.10,465.41 L496.60,465.40 L497.10,465.39 L497.60,465.38 L498.10,465.38 L498.60,465.37 L499.10,465.37 L499.60,465.37 L500.10,465.37 L500.60,465.37 L501.10,465.37 L501.60,465.37 L502.10,465.38 L502.60,465.38 L503.10,465.39 L503.60,465.40 L504.10,465.42 L504.60,465.43 L505.10,465.44 L505.60,465.46 L506.10,465.48 L506.60,465.50 L507.10,465.52 L507.60,465.54 L508.10,465.56 L508.60,465.59 L509.10,465.61 L509.60,465.64 L510.10,465.67 L510.60,465.70 L511.10,465.73 L511.60,465.77 L512.10,465.80 L512.60,465.84 L513.10,465.88 L513.60,465.91 L514.10,465.96 L514.60,466.00 L515.10,466.04 L515.60,466.09 L516.10,466.13 L516.60,466.18 L517.10,466.23 L517.60,466.28 L518.10,466.33 L518.60,466.38 L519.10,466.44 L519.60,466.49 L520.10,466.55 L520.60,466.61 L521.10,466.67 L521.60,466.73 L522.10,466.79 L522.60,466.85 L523.10,466.92 L523.60,466.98 L524.10,467.05 L524.60,467.12 L525.10,467.19 L525.60,467.26 L526.10,467.33 L526.60,467.40 L527.10,467.48 L527.60,467.56 L528.10,467.63 L528.60,467.71 L529.10,467.79 L529.60,467.87 L530.10,467.95 L530.60,468.04 L531.10,468.12 L531.60,468.21 L532.10,468.29 L532.60,468.38 L533.10,468.47 L533.60,468.56 L534.10,468.65 L534.60,468.74 L535.10,468.84 L535.60,468.93 L536.10,469.03 L536.60,469.12 L537.10,469.22 L537.60,469.32 L538.10,469.42 L538.60,469.52 L539.10,469.63 L539.60,469.73 L540.10,469.83 L540.60,469.94 L541.10,470.05 L541.60,470.15 L542.10,470.26 L542.60,470.37 L543.10,470.48 L543.60,470.59 L544.10,470.71 L544.60,470.82 L545.10,470.94 L545.60,471.05 L546.10,471.17 L546.60,471.29 L547.10,471.40 L547.60,471.52 L548.10,471.64 L548.60,471.75 L549.10,471.87 L549.60,471.99 L550.10,472.11 L550.60,472.22 L551.10,472.34 L551.60,472.45 L552.10,472.57 L552.60,472.68 L553.10,472.80 L553.60,472.91 L554.10,473.02 L554.60,473.13 L555.10,473.23 L555.60,473.34 L556.10,473.44 L556.60,473.54 L557.10,473.65 L557.60,473.74 L558.10,473.84 L558.60,473.93 L559.10,474.02 L559.60,474.11 L560.10,474.20 L560.60,474.28 L561.10,474.36 L561.60,474.44 L562.10,474.51 L562.60,474.58 L563.10,474.65 L563.60,474.71 L564.10,474.77 L564.60,474.83 L565.10,474.88 L565.60,474.93 L566.10,474.97 L566.60,475.01 L567.10,475.04 L567.60,475.07 L568.10,475.10 L568.60,475.12 L569.10,475.14 L569.60,475.15 L570.10,475.16 L570.60,475.16 L571.10,475.15 L571.60,475.14 L572.10,475.13 L572.60,475.11 L573.10,475.08 L573.60,475.05 L574.10,475.01 L574.60,474.96 L575.10,474.91 L575.60,474.85 L576.10,474.79 L576.60,474.72 L577.10,474.64 L577.60,474.56 L578.10,474.47 L578.60,474.37 L579.10,474.26 L579.60,474.15 L580.10,474.03 L580.60,473.90 L581.10,473.76 L581.60,473.62 L582.10,473.47 L582.60,473.31 L583.10,473.14 L583.60,472.96 L584.10,472.78 L584.60,472.58 L585.10,472.38 L585.60,472.17 L586.10,471.95 L586.60,471.72 L587.10,471.48 L587.60,471.24 L588.10,470.98 L588.60,470.71 L589.10,470.44 L589.60,470.15 L590.10,469.85 L590.60,469.55 L591.00,469.30" fill="none" stroke="#505050" stroke-width="2.1" stroke-dasharray="7.5 5 2 5.5 2 5"/>
<path d="M76.00,491.63 L79.00,490.75 L82.00,489.46 L85.00,487.85 L88.00,485.94 L91.00,483.76 L92.60,482.50 L93.10,482.38 L93.60,482.25 L94.10,482.11 L94.60,481.97 L95.10,481.83 L95.60,481.68 L96.10,481.52 L96.60,481.37 L97.10,481.20 L97.60,481.04 L98.10,480.87 L98.60,480.69 L99.10,480.51 L99.60,480.33 L100.10,480.14 L100.60,479.95 L101.10,479.76 L101.60,479.56 L102.10,479.36 L102.60,479.16 L103.10,478.95 L103.60,478.74 L104.10,478.53 L104.60,478.31 L105.10,478.09 L105.60,477.86 L106.10,477.64 L106.60,477.41 L107.10,477.18 L107.60,476.94 L108.10,476.71 L108.60,476.47 L109.10,476.23 L109.60,475.98 L110.10,475.74 L110.60,475.49 L111.10,475.24 L111.60,474.98 L112.10,474.73 L112.60,474.47 L113.10,474.21 L113.60,473.95 L114.10,473.69 L114.60,473.43 L115.10,473.16 L115.60,472.90 L116.10,472.63 L116.60,472.36 L117.10,472.09 L117.60,471.82 L118.10,471.55 L118.60,471.28 L119.10,471.00 L119.60,470.73 L120.10,470.45 L120.60,470.18 L121.10,469.90 L121.60,469.62 L122.10,469.35 L122.60,469.07 L123.10,468.79 L123.60,468.51 L124.10,468.23 L124.60,467.96 L125.10,467.68 L125.60,467.40 L126.10,467.12 L126.60,466.84 L127.10,466.57 L127.60,466.29 L128.10,466.01 L128.60,465.74 L129.10,465.46 L129.60,465.19 L130.10,464.92 L130.60,464.64 L131.10,464.37 L131.60,464.10 L132.10,463.83 L132.60,463.57 L133.10,463.30 L133.60,463.03 L134.10,462.77 L134.60,462.51 L135.10,462.25 L135.60,461.99 L136.10,461.73 L136.60,461.48 L137.10,461.22 L137.60,460.97 L138.10,460.72 L138.60,460.47 L139.10,460.23 L139.60,459.99 L140.10,459.75 L140.60,459.51 L141.10,459.27 L141.60,459.04 L142.10,458.81 L142.60,458.58 L143.10,458.36 L143.60,458.14 L144.10,457.92 L144.60,457.71 L145.10,457.49 L145.60,457.28 L146.10,457.08 L146.60,456.88 L147.10,456.68 L147.60,456.48 L148.10,456.29 L148.60,456.10 L149.10,455.92 L149.60,455.74 L150.10,455.56 L150.60,455.39 L151.10,455.22 L151.60,455.06 L152.10,454.90 L152.60,454.75 L153.10,454.59 L153.60,454.45 L154.10,454.31 L154.60,454.17 L155.10,454.04 L155.60,453.91 L156.10,453.79 L156.60,453.67 L157.10,453.56 L157.60,453.45 L158.10,453.35 L158.60,453.25 L159.10,453.16 L159.60,453.07 L160.10,452.99 L160.60,452.91 L161.10,452.84 L161.60,452.78 L162.10,452.72 L162.60,452.67 L163.10,452.62 L163.60,452.58 L164.10,452.55 L164.60,452.52 L165.10,452.50 L165.60,452.48 L166.10,452.47 L166.60,452.47 L167.10,452.47 L167.60,452.49 L168.10,452.50 L168.60,452.53 L169.10,452.56 L169.60,452.60 L170.10,452.64 L170.60,452.69 L171.10,452.75 L171.60,452.82 L172.10,452.89 L172.60,452.98 L173.10,453.06 L173.60,453.16 L174.10,453.27 L174.60,453.38 L175.10,453.50 L175.60,453.62 L176.10,453.76 L176.60,453.90 L177.10,454.06 L177.60,454.22 L178.10,454.38 L178.60,454.56 L179.10,454.75 L179.60,454.94 L180.10,455.14 L180.60,455.35 L181.10,455.57 L181.60,455.79 L182.10,456.03 L182.60,456.27 L183.10,456.51 L183.60,456.77 L184.10,457.03 L184.60,457.31 L185.10,457.59 L185.60,457.87 L186.10,458.16 L186.60,458.47 L187.10,458.77 L187.60,459.09 L188.10,459.41 L188.60,459.74 L189.10,460.08 L189.60,460.42 L190.10,460.77 L190.60,461.12 L191.10,461.49 L191.60,461.86 L192.10,462.23 L192.60,462.61 L193.10,463.00 L193.60,463.40 L194.10,463.80 L194.60,464.21 L195.10,464.62 L195.60,465.04 L196.10,465.46 L196.60,465.90 L197.10,466.33 L197.60,466.77 L198.10,467.22 L198.60,467.68 L199.10,468.14 L199.60,468.60 L200.10,469.07 L200.60,469.55 L201.10,470.03 L201.60,470.51 L202.10,471.01 L202.60,471.50 L203.10,472.00 L203.60,472.51 L204.10,473.02 L204.60,473.54 L205.10,474.06 L205.60,474.58 L206.10,475.11 L206.60,475.65 L207.10,476.19 L207.60,476.73 L208.10,477.28 L208.60,477.83 L209.10,478.38 L209.60,478.94 L210.10,479.51 L210.60,480.08 L211.10,480.65 L211.60,481.22 L212.10,481.80 L212.60,482.39 L213.10,482.98 L213.60,483.57 L214.10,484.16 L214.60,484.76 L215.10,485.36 L215.60,485.97 L216.10,486.58 L216.60,487.19 L217.10,487.81 L217.60,488.43 L218.10,489.05 L218.60,489.68 L219.10,490.31 L219.60,490.94 L220.10,491.58 L220.60,492.22 L221.10,492.86 L221.60,493.50 L222.10,494.15 L222.60,494.80 L223.10,495.46 L223.60,496.11 L224.10,496.77 L224.60,497.43 L225.10,498.10 L225.60,498.76 L226.10,499.43 L226.60,500.11 L227.10,500.78 L227.60,501.46 L228.10,502.14 L228.60,502.82 L229.10,503.50 L229.60,504.19 L230.10,504.88 L230.60,505.57 L231.10,506.26 L231.60,506.96 L232.10,507.65 L232.60,508.35 L233.10,509.05 L233.60,509.76 L234.10,510.46 L234.60,511.17 L235.10,511.87 L235.60,512.58 L236.10,513.29 L236.60,514.01 L237.10,514.72 L237.60,515.43 L238.10,516.15 L238.60,516.87 L239.10,517.59 L239.60,518.31 L240.10,519.03 L240.60,519.75 L241.10,520.47 L241.60,521.19 L242.10,521.91 L242.60,522.64 L243.10,523.36 L243.60,524.08 L244.10,524.81 L244.60,525.53 L245.10,526.25 L245.60,526.97 L246.10,527.70 L246.60,528.42 L247.10,529.14 L247.60,529.86 L248.10,530.58 L248.60,531.30 L249.10,532.01 L249.60,532.73 L250.10,533.45 L250.60,534.16 L251.10,534.87 L251.60,535.58 L252.10,536.29 L252.60,537.00 L253.10,537.70 L253.60,538.41 L254.10,539.11 L254.60,539.81 L255.10,540.51 L255.60,541.20 L256.10,541.89 L256.60,542.58 L257.10,543.27 L257.60,543.96 L258.10,544.64 L258.60,545.32 L259.10,545.99 L259.60,546.66 L260.10,547.33 L260.60,548.00 L261.10,548.66 L261.60,549.32 L262.10,549.97 L262.60,550.63 L263.10,551.27 L263.60,551.92 L264.10,552.56 L264.60,553.19 L265.10,553.82 L265.60,554.45 L266.10,555.07 L266.60,555.69 L267.10,556.30 L267.60,556.91 L268.10,557.51 L268.60,558.11 L269.10,558.70 L269.60,559.29 L270.10,559.87 L270.60,560.45 L271.10,561.02 L271.60,561.58 L272.10,562.14 L272.60,562.70 L273.10,563.25 L273.60,563.79 L274.10,564.33 L274.60,564.86 L275.10,565.38 L275.60,565.90 L276.10,566.41 L276.60,566.91 L277.10,567.41 L277.60,567.90 L278.10,568.38 L278.60,568.86 L279.10,569.33 L279.60,569.79 L280.10,570.24 L280.60,570.69 L281.10,571.13 L281.60,571.56 L282.10,571.98 L282.60,572.40 L283.10,572.81 L283.60,573.21 L284.10,573.60 L284.60,573.98 L285.10,574.36 L285.60,574.72 L286.10,575.08 L286.60,575.43 L287.10,575.77 L287.60,576.10 L288.10,576.43 L288.60,576.74 L289.10,577.05 L289.60,577.34 L290.10,577.63 L290.60,577.90 L291.10,578.17 L291.60,578.43 L292.10,578.67 L292.60,578.91 L293.10,579.14 L293.60,579.35 L294.10,579.56 L294.60,579.76 L295.10,579.94 L295.60,580.12 L296.10,580.28 L296.60,580.44 L297.10,580.58 L297.60,580.71 L298.10,580.84 L298.60,580.95 L299.10,581.05 L299.60,581.14 L300.10,581.22 L300.60,581.29 L301.10,581.35 L301.60,581.40 L302.10,581.44 L302.60,581.47 L303.10,581.49 L303.60,581.50 L304.10,581.51 L304.60,581.50 L305.10,581.48 L305.60,581.45 L306.10,581.41 L306.60,581.36 L307.10,581.31 L307.60,581.24 L308.10,581.17 L308.60,581.08 L309.10,580.99 L309.60,580.88 L310.10,580.77 L310.60,580.65 L311.10,580.52 L311.60,580.38 L312.10,580.24 L312.60,580.08 L313.10,579.91 L313.60,579.74 L314.10,579.56 L314.60,579.37 L315.10,579.17 L315.60,578.96 L316.10,578.74 L316.60,578.52 L317.10,578.29 L317.60,578.05 L318.10,577.80 L318.60,577.54 L319.10,577.28 L319.60,577.01 L320.10,576.73 L320.60,576.45 L321.10,576.15 L321.60,575.86 L322.10,575.55 L322.60,575.24 L323.10,574.92 L323.60,574.60 L324.10,574.27 L324.60,573.93 L325.10,573.59 L325.60,573.25 L326.10,572.89 L326.60,572.54 L327.10,572.17 L327.60,571.81 L328.10,571.43 L328.60,571.06 L329.10,570.68 L329.60,570.29 L330.10,569.90 L330.60,569.51 L331.10,569.11 L331.60,568.71 L332.10,568.31 L332.60,567.90 L333.10,567.49 L333.60,567.07 L334.10,566.65 L334.60,566.23 L335.10,565.81 L335.60,565.39 L336.10,564.96 L336.60,564.53 L337.10,564.10 L337.60,563.66 L338.10,563.23 L338.60,562.79 L339.10,562.35 L339.60,561.91 L340.10,561.47 L340.60,561.02 L341.10,560.57 L341.60,560.12 L342.10,559.67 L342.60,559.22 L343.10,558.77 L343.60,558.31 L344.10,557.86 L344.60,557.40 L345.10,556.94 L345.60,556.48 L346.10,556.02 L346.60,555.55 L347.10,555.09 L347.60,554.62 L348.10,554.15 L348.60,553.68 L349.10,553.21 L349.60,552.74 L350.10,552.26 L350.60,551.79 L351.10,551.31 L351.60,550.84 L352.10,550.36 L352.60,549.88 L353.10,549.40 L353.60,548.92 L354.10,548.44 L354.60,547.95 L355.10,547.47 L355.60,546.98 L356.10,546.50 L356.60,546.01 L357.10,545.52 L357.60,545.04 L358.10,544.55 L358.60,544.06 L359.10,543.57 L359.60,543.08 L360.10,542.58 L360.60,542.09 L361.10,541.60 L361.60,541.11 L362.10,540.61 L362.60,540.12 L363.10,539.62 L363.60,539.13 L364.10,538.63 L364.60,538.14 L365.10,537.64 L365.60,537.14 L366.10,536.65 L366.60,536.15 L367.10,535.65 L367.60,535.15 L368.10,534.66 L368.60,534.16 L369.10,533.66 L369.60,533.16 L370.10,532.66 L370.60,532.17 L371.10,531.67 L371.60,531.17 L372.10,530.67 L372.60,530.18 L373.10,529.68 L373.60,529.18 L374.10,528.68 L374.60,528.19 L375.10,527.69 L375.60,527.19 L376.10,526.70 L376.60,526.20 L377.10,525.71 L377.60,525.21 L378.10,524.72 L378.60,524.22 L379.10,523.73 L379.60,523.24 L380.10,522.74 L380.60,522.25 L381.10,521.76 L381.60,521.27 L382.10,520.78 L382.60,520.29 L383.10,519.80 L383.60,519.31 L384.10,518.83 L384.60,518.34 L385.10,517.86 L385.60,517.37 L386.10,516.89 L386.60,516.41 L387.10,515.92 L387.60,515.44 L388.10,514.96 L388.60,514.49 L389.10,514.01 L389.60,513.53 L390.10,513.06 L390.60,512.58 L391.10,512.11 L391.60,511.64 L392.10,511.17 L392.60,510.70 L393.10,510.23 L393.60,509.77 L394.10,509.30 L394.60,508.84 L395.10,508.38 L395.60,507.92 L396.10,507.46 L396.60,507.00 L397.10,506.55 L397.60,506.09 L398.10,505.64 L398.60,505.19 L399.10,504.74 L399.60,504.29 L400.10,503.85 L400.60,503.40 L401.10,502.96 L401.60,502.52 L402.10,502.08 L402.60,501.65 L403.10,501.21 L403.60,500.78 L404.10,500.35 L404.60,499.92 L405.10,499.49 L405.60,499.06 L406.10,498.64 L406.60,498.22 L407.10,497.80 L407.60,497.38 L408.10,496.96 L408.60,496.55 L409.10,496.14 L409.60,495.72 L410.10,495.32 L410.60,494.91 L411.10,494.50 L411.60,494.10 L412.10,493.70 L412.60,493.30 L413.10,492.90 L413.60,492.51 L414.10,492.11 L414.60,491.72 L415.10,491.33 L415.60,490.95 L416.10,490.56 L416.60,490.18 L417.10,489.80 L417.60,489.42 L418.10,489.04 L418.60,488.66 L419.10,488.29 L419.60,487.92 L420.10,487.55 L420.60,487.18 L421.10,486.82 L421.60,486.45 L422.10,486.09 L422.60,485.73 L423.10,485.38 L423.60,485.02 L424.10,484.67 L424.60,484.32 L425.10,483.97 L425.60,483.62 L426.10,483.28 L426.60,482.94 L427.10,482.60 L427.60,482.26 L428.10,481.92 L428.60,481.59 L429.10,481.26 L429.60,480.93 L430.10,480.60 L430.60,480.28 L431.10,479.96 L431.60,479.64 L432.10,479.32 L432.60,479.00 L433.10,478.69 L433.60,478.38 L434.10,478.07 L434.60,477.76 L435.10,477.45 L435.60,477.15 L436.10,476.85 L436.60,476.55 L437.10,476.26 L437.60,475.96 L438.10,475.67 L438.60,475.38 L439.10,475.10 L439.60,474.81 L440.10,474.53 L440.60,474.25 L441.10,473.97 L441.60,473.70 L442.10,473.43 L442.60,473.16 L443.10,472.89 L443.60,472.62 L444.10,472.36 L444.60,472.10 L445.10,471.84 L445.60,471.58 L446.10,471.33 L446.60,471.08 L447.10,470.83 L447.60,470.58 L448.10,470.34 L448.60,470.10 L449.10,469.86 L449.60,469.62 L450.10,469.39 L450.60,469.16 L451.10,468.93 L451.60,468.70 L452.10,468.48 L452.60,468.25 L453.10,468.03 L453.60,467.82 L454.10,467.60 L454.60,467.39 L455.10,467.18 L455.60,466.97 L456.10,466.77 L456.60,466.57 L457.10,466.37 L457.60,466.17 L458.10,465.98 L458.60,465.79 L459.10,465.60 L459.60,465.41 L460.10,465.23 L460.60,465.05 L461.10,464.87 L461.60,464.69 L462.10,464.52 L462.60,464.35 L463.10,464.18 L463.60,464.01 L464.10,463.85 L464.60,463.69 L465.10,463.53 L465.60,463.38 L466.10,463.22 L466.60,463.07 L467.10,462.92 L467.60,462.78 L468.10,462.63 L468.60,462.49 L469.10,462.36 L469.60,462.22 L470.10,462.09 L470.60,461.95 L471.10,461.83 L471.60,461.70 L472.10,461.58 L472.60,461.45 L473.10,461.34 L473.60,461.22 L474.10,461.11 L474.60,460.99 L475.10,460.88 L475.60,460.78 L476.10,460.67 L476.60,460.57 L477.10,460.47 L477.60,460.37 L478.10,460.28 L478.60,460.18 L479.10,460.09 L479.60,460.00 L480.10,459.92 L480.60,459.83 L481.10,459.75 L481.60,459.67 L482.10,459.60 L482.60,459.52 L483.10,459.45 L483.60,459.38 L484.10,459.31 L484.60,459.24 L485.10,459.18 L485.60,459.12 L486.10,459.06 L486.60,459.00 L487.10,458.95 L487.60,458.90 L488.10,458.85 L488.60,458.80 L489.10,458.75 L489.60,458.71 L490.10,458.66 L490.60,458.62 L491.10,458.59 L491.60,458.55 L492.10,458.52 L492.60,458.49 L493.10,458.46 L493.60,458.43 L494.10,458.40 L494.60,458.38 L495.10,458.36 L495.60,458.34 L496.10,458.32 L496.60,458.31 L497.10,458.30 L497.60,458.29 L498.10,458.28 L498.60,458.27 L499.10,458.27 L499.60,458.26 L500.10,458.26 L500.60,458.26 L501.10,458.27 L501.60,458.27 L502.10,458.28 L502.60,458.29 L503.10,458.30 L503.60,458.31 L504.10,458.32 L504.60,458.34 L505.10,458.36 L505.60,458.38 L506.10,458.40 L506.60,458.43 L507.10,458.45 L507.60,458.48 L508.10,458.51 L508.60,458.54 L509.10,458.58 L509.60,458.61 L510.10,458.65 L510.60,458.69 L511.10,458.73 L511.60,458.77 L512.10,458.81 L512.60,458.86 L513.10,458.91 L513.60,458.96 L514.10,459.01 L514.60,459.06 L515.10,459.12 L515.60,459.17 L516.10,459.23 L516.60,459.29 L517.10,459.36 L517.60,459.42 L518.10,459.48 L518.60,459.55 L519.10,459.62 L519.60,459.69 L520.10,459.76 L520.60,459.84 L521.10,459.91 L521.60,459.99 L522.10,460.07 L522.60,460.15 L523.10,460.23 L523.60,460.31 L524.10,460.40 L524.60,460.48 L525.10,460.57 L525.60,460.66 L526.10,460.75 L526.60,460.85 L527.10,460.94 L527.60,461.04 L528.10,461.14 L528.60,461.23 L529.10,461.34 L529.60,461.44 L530.10,461.54 L530.60,461.65 L531.10,461.75 L531.60,461.86 L532.10,461.97 L532.60,462.08 L533.10,462.20 L533.60,462.31 L534.10,462.43 L534.60,462.54 L535.10,462.66 L535.60,462.78 L536.10,462.90 L536.60,463.03 L537.10,463.15 L537.60,463.28 L538.10,463.40 L538.60,463.53 L539.10,463.66 L539.60,463.79 L540.10,463.93 L540.60,464.06 L541.10,464.19 L541.60,464.33 L542.10,464.47 L542.60,464.61 L543.10,464.75 L543.60,464.89 L544.10,465.03 L544.60,465.18 L545.10,465.32 L545.60,465.47 L546.10,465.62 L546.60,465.77 L547.10,465.91 L547.60,466.06 L548.10,466.21 L548.60,466.36 L549.10,466.51 L549.60,466.66 L550.10,466.81 L550.60,466.96 L551.10,467.10 L551.60,467.25 L552.10,467.39 L552.60,467.54 L553.10,467.68 L553.60,467.82 L554.10,467.96 L554.60,468.10 L555.10,468.24 L555.60,468.37 L556.10,468.50 L556.60,468.63 L557.10,468.76 L557.60,468.88 L558.10,469.00 L558.60,469.12 L559.10,469.24 L559.60,469.35 L560.10,469.46 L560.60,469.56 L561.10,469.66 L561.60,469.76 L562.10,469.85 L562.60,469.94 L563.10,470.03 L563.60,470.11 L564.10,470.18 L564.60,470.25 L565.10,470.32 L565.60,470.38 L566.10,470.44 L566.60,470.49 L567.10,470.53 L567.60,470.57 L568.10,470.60 L568.60,470.63 L569.10,470.65 L569.60,470.66 L570.10,470.67 L570.60,470.67 L571.10,470.67 L571.60,470.66 L572.10,470.64 L572.60,470.61 L573.10,470.58 L573.60,470.54 L574.10,470.49 L574.60,470.43 L575.10,470.36 L575.60,470.29 L576.10,470.21 L576.60,470.12 L577.10,470.02 L577.60,469.91 L578.10,469.80 L578.60,469.67 L579.10,469.54 L579.60,469.40 L580.10,469.24 L580.60,469.08 L581.10,468.91 L581.60,468.72 L582.10,468.53 L582.60,468.33 L583.10,468.12 L583.60,467.89 L584.10,467.66 L584.60,467.41 L585.10,467.16 L585.60,466.89 L586.10,466.61 L586.60,466.32 L587.10,466.02 L587.60,465.70 L588.10,465.38 L588.60,465.04 L589.10,464.69 L589.60,464.33 L590.10,463.95 L590.60,463.57 L591.00,463.25" fill="none" stroke="#505050" stroke-width="2.1" stroke-dasharray="7 3.5 2 3.5"/>
<path d="M71.50,491.11 L72.00,491.05 L72.50,490.99 L73.00,490.92 L73.50,490.86 L74.00,490.80 L74.50,490.74 L75.00,490.68 L75.50,490.63 L76.00,490.57 L76.50,490.51 L77.00,490.45 L77.50,490.40 L78.00,490.34 L78.50,490.28 L79.00,490.23 L79.50,490.17 L80.00,490.12 L80.50,490.06 L81.00,490.01 L81.50,489.95 L82.00,489.90 L82.50,489.85 L83.00,489.79 L83.50,489.74 L84.00,489.69 L84.50,489.63 L85.00,489.58 L85.50,489.53 L86.00,489.47 L86.50,489.42 L87.00,489.37 L87.50,489.31 L88.00,489.26 L88.50,489.21 L89.00,489.15 L89.50,489.10 L90.00,489.05 L90.50,488.99 L91.00,488.94 L91.50,488.89 L92.00,488.83 L92.50,488.78 L93.00,488.72 L93.50,488.67 L94.00,488.61 L94.50,488.56 L95.00,488.50 L95.50,488.44 L96.00,488.39 L96.50,488.33 L97.00,488.27 L97.50,488.22 L98.00,488.16 L98.50,488.10 L99.00,488.04 L99.50,487.98 L100.00,487.92 L100.50,487.86 L101.00,487.80 L101.50,487.74 L102.00,487.67 L102.50,487.61 L103.00,487.55 L103.50,487.48 L104.00,487.42 L104.50,487.35 L105.00,487.28 L105.50,487.22 L106.00,487.15 L106.50,487.08 L107.00,487.01 L107.50,486.94 L108.00,486.87 L108.50,486.79 L109.00,486.72 L109.50,486.65 L110.00,486.57 L110.50,486.50 L111.00,486.42 L111.50,486.34 L112.00,486.26 L112.50,486.18 L113.00,486.10 L113.50,486.02 L114.00,485.93 L114.50,485.85 L115.00,485.76 L115.50,485.68 L116.00,485.59 L116.50,485.50 L117.00,485.41 L117.50,485.32 L118.00,485.22 L118.50,485.13 L119.00,485.03 L119.50,484.94 L120.00,484.84 L120.50,484.74 L121.00,484.64 L121.50,484.53 L122.00,484.43 L122.50,484.32 L123.00,484.22 L123.50,484.11 L124.00,484.00 L124.50,483.88 L125.00,483.77 L125.50,483.66 L126.00,483.54 L126.50,483.42 L127.00,483.30 L127.50,483.18 L128.00,483.06 L128.50,482.93 L129.00,482.81 L129.50,482.68 L130.00,482.55 L130.50,482.42 L131.00,482.28 L131.50,482.15 L132.00,482.01 L132.50,481.87 L133.00,481.73 L133.50,481.58 L134.00,481.44 L134.50,481.29 L135.00,481.14 L135.50,480.99 L136.00,480.84 L136.50,480.68 L137.00,480.53 L137.50,480.37 L138.00,480.21 L138.50,480.04 L139.00,479.88 L139.50,479.71 L140.00,479.54 L140.50,479.37 L141.00,479.19 L141.50,479.01 L142.00,478.83 L142.50,478.65 L143.00,478.47 L143.50,478.28 L144.00,478.09 L144.50,477.90 L145.00,477.71 L145.50,477.51 L146.00,477.32 L146.50,477.12 L147.00,476.91 L147.50,476.71 L148.00,476.50 L148.50,476.29 L149.00,476.08 L149.50,475.86 L150.00,475.64 L150.50,475.42 L151.00,475.20 L151.50,474.97 L152.00,474.74 L152.50,474.51 L153.00,474.27 L153.50,474.04 L154.00,473.80 L154.50,473.56 L155.00,473.31 L155.50,473.06 L156.00,472.81 L156.50,472.56 L157.00,472.30 L157.50,472.05 L158.00,471.79 L158.50,471.52 L159.00,471.26 L159.50,470.99 L160.00,470.72 L160.50,470.45 L161.00,470.17 L161.50,469.89 L162.00,469.61 L162.50,469.33 L163.00,469.05 L163.50,468.76 L164.00,468.47 L164.50,468.18 L165.00,467.88 L165.50,467.59 L166.00,467.29 L166.50,466.99 L167.00,466.69 L167.50,466.38 L168.00,466.07 L168.50,465.77 L169.00,465.45 L169.50,465.14 L170.00,464.83 L170.50,464.51 L171.00,464.19 L171.50,463.87 L172.00,463.54 L172.50,463.22 L173.00,462.89 L173.50,462.56 L174.00,462.23 L174.50,461.90 L175.00,461.56 L175.50,461.23 L176.00,460.89 L176.50,460.55 L177.00,460.20 L177.50,459.86 L178.00,459.51 L178.50,459.17 L179.00,458.82 L179.50,458.47 L180.00,458.11 L180.50,457.76 L181.00,457.40 L181.50,457.04 L182.00,456.69 L182.50,456.32 L183.00,455.96 L183.50,455.60 L184.00,455.23 L184.50,454.86 L185.00,454.50 L185.50,454.13 L186.00,453.75 L186.50,453.38 L187.00,453.01 L187.50,452.63 L188.00,452.25 L188.50,451.87 L189.00,451.49 L189.50,451.11 L190.00,450.73 L190.50,450.35 L191.00,449.96 L191.50,449.57 L192.00,449.19 L192.50,448.80 L193.00,448.41 L193.50,448.02 L194.00,447.62 L194.50,447.23 L195.00,446.83 L195.50,446.44 L196.00,446.04 L196.50,445.64 L197.00,445.25 L197.50,444.85 L198.00,444.45 L198.50,444.04 L199.00,443.64 L199.50,443.24 L200.00,442.84 L200.50,442.43 L201.00,442.03 L201.50,441.62 L202.00,441.21 L202.50,440.81 L203.00,440.40 L203.50,439.99 L204.00,439.58 L204.50,439.17 L205.00,438.76 L205.50,438.35 L206.00,437.94 L206.50,437.53 L207.00,437.11 L207.50,436.70 L208.00,436.29 L208.50,435.87 L209.00,435.46 L209.50,435.05 L210.00,434.63 L210.50,434.22 L211.00,433.80 L211.50,433.39 L212.00,432.97 L212.50,432.56 L213.00,432.14 L213.50,431.73 L214.00,431.31 L214.50,430.90 L215.00,430.48 L215.50,430.07 L216.00,429.65 L216.50,429.24 L217.00,428.82 L217.50,428.41 L218.00,427.99 L218.50,427.58 L219.00,427.16 L219.50,426.75 L220.00,426.33 L220.50,425.92 L221.00,425.51 L221.50,425.09 L222.00,424.68 L222.50,424.27 L223.00,423.86 L223.50,423.45 L224.00,423.04 L224.50,422.63 L225.00,422.22 L225.50,421.81 L226.00,421.40 L226.50,420.99 L227.00,420.58 L227.50,420.18 L228.00,419.77 L228.50,419.37 L229.00,418.96 L229.50,418.56 L230.00,418.15 L230.50,417.75 L231.00,417.35 L231.50,416.95 L232.00,416.55 L232.50,416.15 L233.00,415.75 L233.50,415.36 L234.00,414.96 L234.50,414.57 L235.00,414.17 L235.50,413.78 L236.00,413.39 L236.50,413.00 L237.00,412.61 L237.50,412.22 L238.00,411.84 L238.50,411.45 L239.00,411.07 L239.50,410.69 L240.00,410.30 L240.50,409.92 L241.00,409.55 L241.50,409.17 L242.00,408.79 L242.50,408.42 L243.00,408.05 L243.50,407.67 L244.00,407.31 L244.50,406.94 L245.00,406.57 L245.50,406.21 L246.00,405.84 L246.50,405.48 L247.00,405.12 L247.50,404.76 L248.00,404.41 L248.50,404.05 L249.00,403.70 L249.50,403.35 L250.00,403.00 L250.50,402.65 L251.00,402.31 L251.50,401.96 L252.00,401.62 L252.50,401.28 L253.00,400.95 L253.50,400.61 L254.00,400.28 L254.50,399.95 L255.00,399.62 L255.50,399.29 L256.00,398.97 L256.50,398.64 L257.00,398.32 L257.50,398.01 L258.00,397.69 L258.50,397.38 L259.00,397.07 L259.50,396.76 L260.00,396.45 L260.50,396.15 L261.00,395.85 L261.50,395.55 L262.00,395.25 L262.50,394.96 L263.00,394.67 L263.50,394.38 L264.00,394.09 L264.50,393.81 L265.00,393.53 L265.50,393.25 L266.00,392.97 L266.50,392.70 L267.00,392.43 L267.50,392.16 L268.00,391.90 L268.50,391.64 L269.00,391.38 L269.50,391.13 L270.00,390.87 L270.50,390.62 L271.00,390.38 L271.50,390.13 L272.00,389.89 L272.50,389.66 L273.00,389.42 L273.50,389.19 L274.00,388.96 L274.50,388.74 L275.00,388.51 L275.50,388.30 L276.00,388.08 L276.50,387.87 L277.00,387.66 L277.50,387.45 L278.00,387.25 L278.50,387.05 L279.00,386.86 L279.50,386.67 L280.00,386.48 L280.50,386.29 L281.00,386.11 L281.50,385.93 L282.00,385.76 L282.50,385.59 L283.00,385.42 L283.50,385.26 L284.00,385.10 L284.50,384.94 L285.00,384.79 L285.50,384.64 L286.00,384.50 L286.50,384.36 L287.00,384.22 L287.50,384.09 L288.00,383.96 L288.50,383.83 L289.00,383.71 L289.50,383.59 L290.00,383.48 L290.50,383.37 L291.00,383.27 L291.50,383.16 L292.00,383.07 L292.50,382.97 L293.00,382.88 L293.50,382.80 L294.00,382.72 L294.50,382.64 L295.00,382.56 L295.50,382.49 L296.00,382.43 L296.50,382.36 L297.00,382.31 L297.50,382.25 L298.00,382.20 L298.50,382.15 L299.00,382.11 L299.50,382.07 L300.00,382.03 L300.50,382.00 L301.00,381.97 L301.50,381.94 L302.00,381.92 L302.50,381.90 L303.00,381.88 L303.50,381.87 L304.00,381.86 L304.50,381.86 L305.00,381.86 L305.50,381.86 L306.00,381.86 L306.50,381.87 L307.00,381.88 L307.50,381.90 L308.00,381.92 L308.50,381.94 L309.00,381.96 L309.50,381.99 L310.00,382.02 L310.50,382.06 L311.00,382.10 L311.50,382.14 L312.00,382.18 L312.50,382.23 L313.00,382.28 L313.50,382.33 L314.00,382.39 L314.50,382.45 L315.00,382.51 L315.50,382.58 L316.00,382.65 L316.50,382.72 L317.00,382.79 L317.50,382.87 L318.00,382.95 L318.50,383.03 L319.00,383.12 L319.50,383.21 L320.00,383.30 L320.50,383.39 L321.00,383.49 L321.50,383.59 L322.00,383.69 L322.50,383.80 L323.00,383.91 L323.50,384.02 L324.00,384.13 L324.50,384.25 L325.00,384.37 L325.50,384.49 L326.00,384.61 L326.50,384.74 L327.00,384.87 L327.50,385.00 L328.00,385.13 L328.50,385.27 L329.00,385.41 L329.50,385.55 L330.00,385.69 L330.50,385.84 L331.00,385.99 L331.50,386.14 L332.00,386.29 L332.50,386.45 L333.00,386.60 L333.50,386.76 L334.00,386.93 L334.50,387.09 L335.00,387.26 L335.50,387.43 L336.00,387.60 L336.50,387.77 L337.00,387.95 L337.50,388.12 L338.00,388.30 L338.50,388.48 L339.00,388.67 L339.50,388.85 L340.00,389.04 L340.50,389.23 L341.00,389.42 L341.50,389.62 L342.00,389.81 L342.50,390.01 L343.00,390.21 L343.50,390.41 L344.00,390.61 L344.50,390.81 L345.00,391.02 L345.50,391.23 L346.00,391.44 L346.50,391.65 L347.00,391.86 L347.50,392.08 L348.00,392.30 L348.50,392.51 L349.00,392.73 L349.50,392.96 L350.00,393.18 L350.50,393.40 L351.00,393.63 L351.50,393.86 L352.00,394.09 L352.50,394.32 L353.00,394.55 L353.50,394.78 L354.00,395.02 L354.50,395.25 L355.00,395.49 L355.50,395.73 L356.00,395.97 L356.50,396.21 L357.00,396.46 L357.50,396.70 L358.00,396.95 L358.50,397.19 L359.00,397.44 L359.50,397.69 L360.00,397.94 L360.50,398.19 L361.00,398.45 L361.50,398.70 L362.00,398.95 L362.50,399.21 L363.00,399.47 L363.50,399.73 L364.00,399.99 L364.50,400.25 L365.00,400.51 L365.50,400.77 L366.00,401.03 L366.50,401.30 L367.00,401.56 L367.50,401.83 L368.00,402.09 L368.50,402.36 L369.00,402.63 L369.50,402.90 L370.00,403.17 L370.50,403.44 L371.00,403.71 L371.50,403.98 L372.00,404.25 L372.50,404.53 L373.00,404.80 L373.50,405.07 L374.00,405.35 L374.50,405.62 L375.00,405.90 L375.50,406.18 L376.00,406.45 L376.50,406.73 L377.00,407.01 L377.50,407.29 L378.00,407.57 L378.50,407.85 L379.00,408.13 L379.50,408.41 L380.00,408.69 L380.50,408.97 L381.00,409.25 L381.50,409.53 L382.00,409.82 L382.50,410.10 L383.00,410.38 L383.50,410.66 L384.00,410.95 L384.50,411.23 L385.00,411.51 L385.50,411.79 L386.00,412.08 L386.50,412.36 L387.00,412.64 L387.50,412.93 L388.00,413.21 L388.50,413.50 L389.00,413.78 L389.50,414.06 L390.00,414.35 L390.50,414.63 L391.00,414.91 L391.50,415.20 L392.00,415.48 L392.50,415.76 L393.00,416.05 L393.50,416.33 L394.00,416.61 L394.50,416.89 L395.00,417.17 L395.50,417.46 L396.00,417.74 L396.50,418.02 L397.00,418.30 L397.50,418.58 L398.00,418.86 L398.50,419.14 L399.00,419.42 L399.50,419.70 L400.00,419.97 L400.50,420.25 L401.00,420.53 L401.50,420.80 L402.00,421.08 L402.50,421.36 L403.00,421.63 L403.50,421.91 L404.00,422.18 L404.50,422.45 L405.00,422.73 L405.50,423.00 L406.00,423.27 L406.50,423.54 L407.00,423.81 L407.50,424.08 L408.00,424.35 L408.50,424.62 L409.00,424.89 L409.50,425.15 L410.00,425.42 L410.50,425.69 L411.00,425.95 L411.50,426.22 L412.00,426.48 L412.50,426.75 L413.00,427.01 L413.50,427.27 L414.00,427.54 L414.50,427.80 L415.00,428.06 L415.50,428.32 L416.00,428.58 L416.50,428.84 L417.00,429.10 L417.50,429.36 L418.00,429.62 L418.50,429.87 L419.00,430.13 L419.50,430.39 L420.00,430.64 L420.50,430.90 L421.00,431.15 L421.50,431.41 L422.00,431.66 L422.50,431.91 L423.00,432.16 L423.50,432.42 L424.00,432.67 L424.50,432.92 L425.00,433.17 L425.50,433.42 L426.00,433.67 L426.50,433.92 L427.00,434.16 L427.50,434.41 L428.00,434.66 L428.50,434.90 L429.00,435.15 L429.50,435.39 L430.00,435.64 L430.50,435.88 L431.00,436.13 L431.50,436.37 L432.00,436.61 L432.50,436.85 L433.00,437.09 L433.50,437.33 L434.00,437.57 L434.50,437.81 L435.00,438.05 L435.50,438.29 L436.00,438.53 L436.50,438.77 L437.00,439.00 L437.50,439.24 L438.00,439.47 L438.50,439.71 L439.00,439.94 L439.50,440.18 L440.00,440.41 L440.50,440.64 L441.00,440.88 L441.50,441.11 L442.00,441.34 L442.50,441.57 L443.00,441.80 L443.50,442.03 L444.00,442.26 L444.50,442.49 L445.00,442.71 L445.50,442.94 L446.00,443.17 L446.50,443.39 L447.00,443.62 L447.50,443.85 L448.00,444.07 L448.50,444.29 L449.00,444.52 L449.50,444.74 L450.00,444.96 L450.50,445.18 L451.00,445.41 L451.50,445.63 L452.00,445.85 L452.50,446.07 L453.00,446.28 L453.50,446.50 L454.00,446.72 L454.50,446.94 L455.00,447.15 L455.50,447.37 L456.00,447.59 L456.50,447.80 L457.00,448.02 L457.50,448.23 L458.00,448.44 L458.50,448.66 L459.00,448.87 L459.50,449.08 L460.00,449.29 L460.50,449.50 L461.00,449.71 L461.50,449.92 L462.00,450.13 L462.50,450.34 L463.00,450.55 L463.50,450.75 L464.00,450.96 L464.50,451.17 L465.00,451.37 L465.50,451.58 L466.00,451.78 L466.50,451.99 L467.00,452.19 L467.50,452.39 L468.00,452.60 L468.50,452.80 L469.00,453.00 L469.50,453.20 L470.00,453.40 L470.50,453.60 L471.00,453.80 L471.50,454.00 L472.00,454.20 L472.50,454.39 L473.00,454.59 L473.50,454.79 L474.00,454.98 L474.50,455.18 L475.00,455.37 L475.50,455.57 L476.00,455.76 L476.50,455.95 L477.00,456.15 L477.50,456.34 L478.00,456.53 L478.50,456.72 L479.00,456.91 L479.50,457.10 L480.00,457.29 L480.50,457.48 L481.00,457.67 L481.50,457.86 L482.00,458.04 L482.50,458.23 L483.00,458.41 L483.50,458.60 L484.00,458.79 L484.50,458.97 L485.00,459.15 L485.50,459.34 L486.00,459.52 L486.50,459.70 L487.00,459.88 L487.50,460.06 L488.00,460.25 L488.50,460.43 L489.00,460.60 L489.50,460.78 L490.00,460.96 L490.50,461.14 L491.00,461.32 L491.50,461.49 L492.00,461.67 L492.50,461.85 L493.00,462.02 L493.50,462.20 L494.00,462.37 L494.50,462.54 L495.00,462.72 L495.50,462.89 L496.00,463.06 L496.50,463.23 L497.00,463.40 L497.50,463.57 L498.00,463.74 L498.50,463.91 L499.00,464.08 L499.50,464.25 L500.00,464.42 L500.50,464.59 L501.00,464.75 L501.50,464.92 L502.00,465.08 L502.50,465.25 L503.00,465.41 L503.50,465.58 L504.00,465.74 L504.50,465.90 L505.00,466.07 L505.50,466.23 L506.00,466.39 L506.50,466.55 L507.00,466.71 L507.50,466.87 L508.00,467.03 L508.50,467.19 L509.00,467.35 L509.50,467.50 L510.00,467.66 L510.50,467.82 L511.00,467.97 L511.50,468.13 L512.00,468.29 L512.50,468.44 L513.00,468.59 L513.50,468.75 L514.00,468.90 L514.50,469.05 L515.00,469.21 L515.50,469.36 L516.00,469.51 L516.50,469.66 L517.00,469.81 L517.50,469.96 L518.00,470.11 L518.50,470.25 L519.00,470.40 L519.50,470.55 L520.00,470.70 L520.50,470.84 L521.00,470.99 L521.50,471.13 L522.00,471.28 L522.50,471.42 L523.00,471.57 L523.50,471.71 L524.00,471.85 L524.50,472.00 L525.00,472.14 L525.50,472.28 L526.00,472.42 L526.50,472.56 L527.00,472.70 L527.50,472.84 L528.00,472.98 L528.50,473.12 L529.00,473.26 L529.50,473.39 L530.00,473.53 L530.50,473.67 L531.00,473.80 L531.50,473.94 L532.00,474.07 L532.50,474.21 L533.00,474.34 L533.50,474.47 L534.00,474.61 L534.50,474.74 L535.00,474.87 L535.50,475.00 L536.00,475.13 L536.50,475.26 L537.00,475.39 L537.50,475.52 L538.00,475.65 L538.50,475.78 L539.00,475.91 L539.50,476.04 L540.00,476.16 L540.50,476.29 L541.00,476.42 L541.50,476.54 L542.00,476.67 L542.50,476.79 L543.00,476.91 L543.50,477.04 L544.00,477.16 L544.50,477.28 L545.00,477.41 L545.50,477.53 L546.00,477.65 L546.50,477.77 L547.00,477.89 L547.50,478.01 L548.00,478.13 L548.50,478.25 L549.00,478.37 L549.50,478.48 L550.00,478.60 L550.50,478.72 L551.00,478.84 L551.50,478.95 L552.00,479.07 L552.50,479.18 L553.00,479.30 L553.50,479.41 L554.00,479.52 L554.50,479.64 L555.00,479.75 L555.50,479.86 L556.00,479.97 L556.50,480.08 L557.00,480.20 L557.50,480.31 L558.00,480.42 L558.50,480.53 L559.00,480.63 L559.50,480.74 L560.00,480.85 L560.50,480.96 L561.00,481.07 L561.50,481.17 L562.00,481.28 L562.50,481.38 L563.00,481.49 L563.50,481.59 L564.00,481.70 L564.50,481.80 L565.00,481.90 L565.50,482.01 L566.00,482.11 L566.50,482.21 L567.00,482.31 L567.50,482.41 L568.00,482.52 L568.50,482.62 L569.00,482.72 L569.50,482.81 L570.00,482.91 L570.50,483.01 L571.00,483.11 L571.50,483.21 L572.00,483.30 L572.50,483.40 L573.00,483.50 L573.50,483.59 L574.00,483.69 L574.50,483.78 L575.00,483.88 L575.50,483.97 L576.00,484.06 L576.50,484.16 L577.00,484.25 L577.50,484.34 L578.00,484.43 L578.50,484.52 L579.00,484.61 L579.50,484.71 L580.00,484.79 L580.50,484.88 L581.00,484.97 L581.50,485.06 L582.00,485.15 L582.50,485.24 L583.00,485.32 L583.50,485.41 L584.00,485.50 L584.50,485.58 L585.00,485.67 L585.50,485.75 L586.00,485.84 L586.50,485.92 L587.00,486.01 L587.50,486.09 L588.00,486.17 L588.50,486.25 L589.00,486.34 L589.50,486.42 L590.00,486.50 L590.50,486.58 L591.00,486.66" fill="none" stroke="#0000ff" stroke-width="1.9"/>
<path d="M91.4,478.0 L98.1,484.7 L91.4,491.4 L84.7,484.7Z" fill="#525252"/>
<path d="M131.7,464.7 L138.4,471.4 L131.7,478.1 L125.0,471.4Z" fill="#525252"/>
<path d="M141.9,450.3 L148.6,457.0 L141.9,463.7 L135.2,457.0Z" fill="#525252"/>
<path d="M150.9,434.7 L157.6,441.4 L150.9,448.1 L144.2,441.4Z" fill="#525252"/>
<path d="M160.8,419.8 L167.5,426.5 L160.8,433.2 L154.1,426.5Z" fill="#525252"/>
<path d="M171.4,411.9 L178.1,418.6 L171.4,425.3 L164.7,418.6Z" fill="#525252"/>
<path d="M181.6,427.5 L188.3,434.2 L181.6,440.9 L174.9,434.2Z" fill="#525252"/>
<path d="M191.2,448.0 L197.9,454.7 L191.2,461.4 L184.5,454.7Z" fill="#525252"/>
<path d="M203.2,445.0 L209.9,451.7 L203.2,458.4 L196.5,451.7Z" fill="#525252"/>
<path d="M214.7,462.3 L221.4,469.0 L214.7,475.7 L208.0,469.0Z" fill="#525252"/>
<path d="M227.0,474.8 L233.7,481.5 L227.0,488.2 L220.3,481.5Z" fill="#525252"/>
<path d="M241.0,489.5 L247.7,496.2 L241.0,502.9 L234.3,496.2Z" fill="#525252"/>
<path d="M255.4,514.3 L262.1,521.0 L255.4,527.7 L248.7,521.0Z" fill="#525252"/>
<path d="M268.4,543.2 L275.1,549.9 L268.4,556.6 L261.7,549.9Z" fill="#525252"/>
<path d="M283.2,546.5 L289.9,553.2 L283.2,559.9 L276.5,553.2Z" fill="#525252"/>
<path d="M298.5,564.3 L305.2,571.0 L298.5,577.7 L291.8,571.0Z" fill="#525252"/>
<path d="M313.1,563.3 L319.8,570.0 L313.1,576.7 L306.4,570.0Z" fill="#525252"/>
<path d="M327.7,550.5 L334.4,557.2 L327.7,563.9 L321.0,557.2Z" fill="#525252"/>
<path d="M344.7,548.0 L351.4,554.7 L344.7,561.4 L338.0,554.7Z" fill="#525252"/>
<path d="M360.8,533.8 L367.5,540.5 L360.8,547.2 L354.1,540.5Z" fill="#525252"/>
<path d="M379.3,533.8 L386.0,540.5 L379.3,547.2 L372.6,540.5Z" fill="#525252"/>
<path d="M396.6,515.8 L403.3,522.5 L396.6,529.2 L389.9,522.5Z" fill="#525252"/>
<path d="M414.5,499.0 L421.2,505.7 L414.5,512.4 L407.8,505.7Z" fill="#525252"/>
<path d="M434.8,486.2 L441.5,492.9 L434.8,499.6 L428.1,492.9Z" fill="#525252"/>
<path d="M455.3,469.9 L462.0,476.6 L455.3,483.3 L448.6,476.6Z" fill="#525252"/>
<path d="M476.9,463.9 L483.6,470.6 L476.9,477.3 L470.2,470.6Z" fill="#525252"/>
<path d="M498.9,458.9 L505.6,465.6 L498.9,472.3 L492.2,465.6Z" fill="#525252"/>
<path d="M521.4,449.9 L528.1,456.6 L521.4,463.3 L514.7,456.6Z" fill="#525252"/>
<path d="M546.3,464.3 L553.0,471.0 L546.3,477.7 L539.6,471.0Z" fill="#525252"/>
<path d="M571.6,475.2 L578.3,481.9 L571.6,488.6 L564.9,481.9Z" fill="#525252"/>
<path d="M92.60,480.23 L93.10,480.07 L93.60,479.91 L94.10,479.74 L94.60,479.57 L95.10,479.39 L95.60,479.20 L96.10,479.01 L96.60,478.81 L97.10,478.61 L97.60,478.41 L98.10,478.19 L98.60,477.98 L99.10,477.75 L99.60,477.53 L100.10,477.30 L100.60,477.06 L101.10,476.82 L101.60,476.57 L102.10,476.32 L102.60,476.07 L103.10,475.81 L103.60,475.55 L104.10,475.29 L104.60,475.02 L105.10,474.74 L105.60,474.46 L106.10,474.18 L106.60,473.90 L107.10,473.61 L107.60,473.32 L108.10,473.03 L108.60,472.73 L109.10,472.43 L109.60,472.13 L110.10,471.82 L110.60,471.51 L111.10,471.20 L111.60,470.89 L112.10,470.57 L112.60,470.25 L113.10,469.93 L113.60,469.61 L114.10,469.28 L114.60,468.96 L115.10,468.63 L115.60,468.30 L116.10,467.96 L116.60,467.63 L117.10,467.29 L117.60,466.96 L118.10,466.62 L118.60,466.28 L119.10,465.94 L119.60,465.60 L120.10,465.26 L120.60,464.91 L121.10,464.57 L121.60,464.23 L122.10,463.88 L122.60,463.54 L123.10,463.19 L123.60,462.85 L124.10,462.50 L124.60,462.16 L125.10,461.81 L125.60,461.46 L126.10,461.12 L126.60,460.77 L127.10,460.43 L127.60,460.09 L128.10,459.74 L128.60,459.40 L129.10,459.06 L129.60,458.72 L130.10,458.38 L130.60,458.04 L131.10,457.70 L131.60,457.37 L132.10,457.03 L132.60,456.70 L133.10,456.37 L133.60,456.04 L134.10,455.71 L134.60,455.39 L135.10,455.06 L135.60,454.74 L136.10,454.42 L136.60,454.11 L137.10,453.79 L137.60,453.48 L138.10,453.17 L138.60,452.86 L139.10,452.56 L139.60,452.26 L140.10,451.96 L140.60,451.66 L141.10,451.37 L141.60,451.08 L142.10,450.80 L142.60,450.51 L143.10,450.24 L143.60,449.96 L144.10,449.69 L144.60,449.42 L145.10,449.16 L145.60,448.90 L146.10,448.64 L146.60,448.39 L147.10,448.15 L147.60,447.90 L148.10,447.67 L148.60,447.43 L149.10,447.20 L149.60,446.98 L150.10,446.76 L150.60,446.55 L151.10,446.34 L151.60,446.14 L152.10,445.94 L152.60,445.74 L153.10,445.56 L153.60,445.38 L154.10,445.20 L154.60,445.03 L155.10,444.86 L155.60,444.71 L156.10,444.55 L156.60,444.41 L157.10,444.27 L157.60,444.13 L158.10,444.01 L158.60,443.89 L159.10,443.77 L159.60,443.66 L160.10,443.56 L160.60,443.47 L161.10,443.38 L161.60,443.30 L162.10,443.23 L162.60,443.17 L163.10,443.11 L163.60,443.06 L164.10,443.01 L164.60,442.98 L165.10,442.95 L165.60,442.93 L166.10,442.92 L166.60,442.92 L167.10,442.92 L167.60,442.94 L168.10,442.96 L168.60,442.99 L169.10,443.03 L169.60,443.08 L170.10,443.13 L170.60,443.20 L171.10,443.27 L171.60,443.35 L172.10,443.44 L172.60,443.55 L173.10,443.66 L173.60,443.78 L174.10,443.91 L174.60,444.05 L175.10,444.19 L175.60,444.35 L176.10,444.52 L176.60,444.70 L177.10,444.89 L177.60,445.09 L178.10,445.30 L178.60,445.52 L179.10,445.75 L179.60,445.99 L180.10,446.24 L180.60,446.50 L181.10,446.77 L181.60,447.05 L182.10,447.34 L182.60,447.63 L183.10,447.94 L183.60,448.26 L184.10,448.59 L184.60,448.93 L185.10,449.27 L185.60,449.63 L186.10,449.99 L186.60,450.37 L187.10,450.75 L187.60,451.14 L188.10,451.54 L188.60,451.95 L189.10,452.37 L189.60,452.79 L190.10,453.23 L190.60,453.67 L191.10,454.12 L191.60,454.58 L192.10,455.04 L192.60,455.52 L193.10,456.00 L193.60,456.49 L194.10,456.99 L194.60,457.50 L195.10,458.01 L195.60,458.53 L196.10,459.06 L196.60,459.60 L197.10,460.14 L197.60,460.69 L198.10,461.25 L198.60,461.81 L199.10,462.38 L199.60,462.96 L200.10,463.54 L200.60,464.13 L201.10,464.73 L201.60,465.33 L202.10,465.94 L202.60,466.56 L203.10,467.18 L203.60,467.81 L204.10,468.45 L204.60,469.09 L205.10,469.74 L205.60,470.39 L206.10,471.05 L206.60,471.71 L207.10,472.38 L207.60,473.05 L208.10,473.73 L208.60,474.42 L209.10,475.11 L209.60,475.81 L210.10,476.51 L210.60,477.21 L211.10,477.92 L211.60,478.64 L212.10,479.36 L212.60,480.08 L213.10,480.81 L213.60,481.55 L214.10,482.29 L214.60,483.03 L215.10,483.78 L215.60,484.53 L216.10,485.29 L216.60,486.05 L217.10,486.82 L217.60,487.59 L218.10,488.36 L218.60,489.14 L219.10,489.92 L219.60,490.71 L220.10,491.50 L220.60,492.29 L221.10,493.09 L221.60,493.89 L222.10,494.70 L222.60,495.50 L223.10,496.32 L223.60,497.13 L224.10,497.95 L224.60,498.77 L225.10,499.60 L225.60,500.43 L226.10,501.26 L226.60,502.10 L227.10,502.93 L227.60,503.77 L228.10,504.62 L228.60,505.47 L229.10,506.32 L229.60,507.17 L230.10,508.02 L230.60,508.88 L231.10,509.74 L231.60,510.60 L232.10,511.47 L232.60,512.34 L233.10,513.21 L233.60,514.08 L234.10,514.96 L234.60,515.83 L235.10,516.71 L235.60,517.59 L236.10,518.48 L236.60,519.36 L237.10,520.25 L237.60,521.14 L238.10,522.03 L238.60,522.92 L239.10,523.81 L239.60,524.70 L240.10,525.60 L240.60,526.49 L241.10,527.39 L241.60,528.29 L242.10,529.18 L242.60,530.08 L243.10,530.98 L243.60,531.88 L244.10,532.78 L244.60,533.67 L245.10,534.57 L245.60,535.47 L246.10,536.37 L246.60,537.26 L247.10,538.16 L247.60,539.05 L248.10,539.95 L248.60,540.84 L249.10,541.73 L249.60,542.62 L250.10,543.51 L250.60,544.40 L251.10,545.28 L251.60,546.16 L252.10,547.04 L252.60,547.92 L253.10,548.80 L253.60,549.67 L254.10,550.55 L254.60,551.41 L255.10,552.28 L255.60,553.14 L256.10,554.00 L256.60,554.86 L257.10,555.72 L257.60,556.57 L258.10,557.41 L258.60,558.26 L259.10,559.09 L259.60,559.93 L260.10,560.76 L260.60,561.59 L261.10,562.41 L261.60,563.23 L262.10,564.04 L262.60,564.85 L263.10,565.66 L263.60,566.46 L264.10,567.25 L264.60,568.04 L265.10,568.82 L265.60,569.60 L266.10,570.37 L266.60,571.14 L267.10,571.90 L267.60,572.66 L268.10,573.40 L268.60,574.15 L269.10,574.88 L269.60,575.61 L270.10,576.34 L270.60,577.05 L271.10,577.76 L271.60,578.47 L272.10,579.16 L272.60,579.85 L273.10,580.53 L273.60,581.20 L274.10,581.87 L274.60,582.53 L275.10,583.18 L275.60,583.82 L276.10,584.45 L276.60,585.08 L277.10,585.70 L277.60,586.31 L278.10,586.91 L278.60,587.50 L279.10,588.08 L279.60,588.65 L280.10,589.22 L280.60,589.77 L281.10,590.32 L281.60,590.86 L282.10,591.38 L282.60,591.90 L283.10,592.41 L283.60,592.90 L284.10,593.39 L284.60,593.87 L285.10,594.33 L285.60,594.79 L286.10,595.23 L286.60,595.67 L287.10,596.09 L287.60,596.50 L288.10,596.90 L288.60,597.29 L289.10,597.67 L289.60,598.04 L290.10,598.39 L290.60,598.73 L291.10,599.07 L291.60,599.39 L292.10,599.69 L292.60,599.99 L293.10,600.27 L293.60,600.54 L294.10,600.79 L294.60,601.04 L295.10,601.27 L295.60,601.49 L296.10,601.69 L296.60,601.88 L297.10,602.06 L297.60,602.23 L298.10,602.38 L298.60,602.52 L299.10,602.64 L299.60,602.76 L300.10,602.86 L300.60,602.95 L301.10,603.02 L301.60,603.08 L302.10,603.13 L302.60,603.17 L303.10,603.20 L303.60,603.21 L304.10,603.21 L304.60,603.20 L305.10,603.18 L305.60,603.14 L306.10,603.09 L306.60,603.04 L307.10,602.97 L307.60,602.88 L308.10,602.79 L308.60,602.68 L309.10,602.57 L309.60,602.44 L310.10,602.30 L310.60,602.15 L311.10,601.99 L311.60,601.82 L312.10,601.63 L312.60,601.44 L313.10,601.23 L313.60,601.02 L314.10,600.79 L314.60,600.55 L315.10,600.31 L315.60,600.05 L316.10,599.78 L316.60,599.50 L317.10,599.21 L317.60,598.91 L318.10,598.61 L318.60,598.29 L319.10,597.96 L319.60,597.62 L320.10,597.28 L320.60,596.93 L321.10,596.56 L321.60,596.19 L322.10,595.81 L322.60,595.43 L323.10,595.03 L323.60,594.63 L324.10,594.22 L324.60,593.80 L325.10,593.38 L325.60,592.95 L326.10,592.51 L326.60,592.07 L327.10,591.62 L327.60,591.16 L328.10,590.70 L328.60,590.23 L329.10,589.76 L329.60,589.28 L330.10,588.80 L330.60,588.31 L331.10,587.81 L331.60,587.32 L332.10,586.81 L332.60,586.31 L333.10,585.80 L333.60,585.28 L334.10,584.76 L334.60,584.24 L335.10,583.72 L335.60,583.19 L336.10,582.66 L336.60,582.12 L337.10,581.59 L337.60,581.05 L338.10,580.51 L338.60,579.96 L339.10,579.42 L339.60,578.87 L340.10,578.32 L340.60,577.76 L341.10,577.21 L341.60,576.65 L342.10,576.09 L342.60,575.53 L343.10,574.97 L343.60,574.40 L344.10,573.83 L344.60,573.27 L345.10,572.69 L345.60,572.12 L346.10,571.55 L346.60,570.97 L347.10,570.39 L347.60,569.81 L348.10,569.23 L348.60,568.65 L349.10,568.06 L349.60,567.47 L350.10,566.89 L350.60,566.30 L351.10,565.71 L351.60,565.11 L352.10,564.52 L352.60,563.92 L353.10,563.33 L353.60,562.73 L354.10,562.13 L354.60,561.53 L355.10,560.93 L355.60,560.33 L356.10,559.72 L356.60,559.12 L357.10,558.51 L357.60,557.91 L358.10,557.30 L358.60,556.69 L359.10,556.08 L359.60,555.47 L360.10,554.86 L360.60,554.25 L361.10,553.64 L361.60,553.03 L362.10,552.41 L362.60,551.80 L363.10,551.18 L363.60,550.57 L364.10,549.95 L364.60,549.34 L365.10,548.72 L365.60,548.10 L366.10,547.49 L366.60,546.87 L367.10,546.25 L367.60,545.63 L368.10,545.01 L368.60,544.40 L369.10,543.78 L369.60,543.16 L370.10,542.54 L370.60,541.92 L371.10,541.30 L371.60,540.68 L372.10,540.07 L372.60,539.45 L373.10,538.83 L373.60,538.21 L374.10,537.59 L374.60,536.98 L375.10,536.36 L375.60,535.74 L376.10,535.13 L376.60,534.51 L377.10,533.89 L377.60,533.28 L378.10,532.67 L378.60,532.05 L379.10,531.44 L379.60,530.83 L380.10,530.21 L380.60,529.60 L381.10,528.99 L381.60,528.38 L382.10,527.78 L382.60,527.17 L383.10,526.56 L383.60,525.96 L384.10,525.35 L384.60,524.75 L385.10,524.14 L385.60,523.54 L386.10,522.94 L386.60,522.34 L387.10,521.74 L387.60,521.15 L388.10,520.55 L388.60,519.96 L389.10,519.36 L389.60,518.77 L390.10,518.18 L390.60,517.59 L391.10,517.01 L391.60,516.42 L392.10,515.84 L392.60,515.26 L393.10,514.67 L393.60,514.10 L394.10,513.52 L394.60,512.94 L395.10,512.37 L395.60,511.80 L396.10,511.23 L396.60,510.66 L397.10,510.09 L397.60,509.53 L398.10,508.97 L398.60,508.41 L399.10,507.85 L399.60,507.29 L400.10,506.74 L400.60,506.19 L401.10,505.64 L401.60,505.09 L402.10,504.55 L402.60,504.01 L403.10,503.47 L403.60,502.93 L404.10,502.39 L404.60,501.86 L405.10,501.33 L405.60,500.80 L406.10,500.27 L406.60,499.75 L407.10,499.23 L407.60,498.71 L408.10,498.19 L408.60,497.67 L409.10,497.16 L409.60,496.65 L410.10,496.14 L410.60,495.64 L411.10,495.13 L411.60,494.63 L412.10,494.14 L412.60,493.64 L413.10,493.15 L413.60,492.66 L414.10,492.17 L414.60,491.68 L415.10,491.20 L415.60,490.72 L416.10,490.24 L416.60,489.76 L417.10,489.29 L417.60,488.82 L418.10,488.35 L418.60,487.88 L419.10,487.42 L419.60,486.95 L420.10,486.50 L420.60,486.04 L421.10,485.59 L421.60,485.14 L422.10,484.69 L422.60,484.24 L423.10,483.80 L423.60,483.36 L424.10,482.92 L424.60,482.48 L425.10,482.05 L425.60,481.62 L426.10,481.19 L426.60,480.77 L427.10,480.35 L427.60,479.93 L428.10,479.51 L428.60,479.09 L429.10,478.68 L429.60,478.27 L430.10,477.87 L430.60,477.46 L431.10,477.06 L431.60,476.66 L432.10,476.27 L432.60,475.88 L433.10,475.49 L433.60,475.10 L434.10,474.72 L434.60,474.33 L435.10,473.96 L435.60,473.58 L436.10,473.21 L436.60,472.84 L437.10,472.47 L437.60,472.10 L438.10,471.74 L438.60,471.38 L439.10,471.03 L439.60,470.67 L440.10,470.32 L440.60,469.98 L441.10,469.63 L441.60,469.29 L442.10,468.95 L442.60,468.62 L443.10,468.28 L443.60,467.95 L444.10,467.63 L444.60,467.30 L445.10,466.98 L445.60,466.66 L446.10,466.35 L446.60,466.04 L447.10,465.73 L447.60,465.42 L448.10,465.12 L448.60,464.82 L449.10,464.52 L449.60,464.23 L450.10,463.93 L450.60,463.65 L451.10,463.36 L451.60,463.08 L452.10,462.80 L452.60,462.53 L453.10,462.25 L453.60,461.98 L454.10,461.72 L454.60,461.45 L455.10,461.19 L455.60,460.94 L456.10,460.68 L456.60,460.43 L457.10,460.19 L457.60,459.94 L458.10,459.70 L458.60,459.46 L459.10,459.23 L459.60,459.00 L460.10,458.77 L460.60,458.54 L461.10,458.32 L461.60,458.10 L462.10,457.89 L462.60,457.67 L463.10,457.46 L463.60,457.26 L464.10,457.06 L464.60,456.86 L465.10,456.66 L465.60,456.47 L466.10,456.28 L466.60,456.09 L467.10,455.90 L467.60,455.72 L468.10,455.54 L468.60,455.37 L469.10,455.20 L469.60,455.03 L470.10,454.86 L470.60,454.70 L471.10,454.54 L471.60,454.38 L472.10,454.23 L472.60,454.08 L473.10,453.93 L473.60,453.79 L474.10,453.65 L474.60,453.51 L475.10,453.37 L475.60,453.24 L476.10,453.11 L476.60,452.98 L477.10,452.86 L477.60,452.74 L478.10,452.62 L478.60,452.50 L479.10,452.39 L479.60,452.28 L480.10,452.17 L480.60,452.07 L481.10,451.97 L481.60,451.87 L482.10,451.77 L482.60,451.68 L483.10,451.59 L483.60,451.50 L484.10,451.42 L484.60,451.33 L485.10,451.26 L485.60,451.18 L486.10,451.11 L486.60,451.03 L487.10,450.97 L487.60,450.90 L488.10,450.84 L488.60,450.78 L489.10,450.72 L489.60,450.67 L490.10,450.61 L490.60,450.56 L491.10,450.52 L491.60,450.47 L492.10,450.43 L492.60,450.39 L493.10,450.36 L493.60,450.32 L494.10,450.29 L494.60,450.26 L495.10,450.24 L495.60,450.21 L496.10,450.19 L496.60,450.17 L497.10,450.16 L497.60,450.14 L498.10,450.13 L498.60,450.12 L499.10,450.12 L499.60,450.11 L500.10,450.11 L500.60,450.11 L501.10,450.12 L501.60,450.12 L502.10,450.13 L502.60,450.14 L503.10,450.16 L503.60,450.17 L504.10,450.19 L504.60,450.21 L505.10,450.24 L505.60,450.26 L506.10,450.29 L506.60,450.32 L507.10,450.35 L507.60,450.39 L508.10,450.42 L508.60,450.46 L509.10,450.50 L509.60,450.55 L510.10,450.59 L510.60,450.64 L511.10,450.69 L511.60,450.74 L512.10,450.80 L512.60,450.86 L513.10,450.92 L513.60,450.98 L514.10,451.04 L514.60,451.11 L515.10,451.18 L515.60,451.25 L516.10,451.32 L516.60,451.39 L517.10,451.47 L517.60,451.55 L518.10,451.63 L518.60,451.71 L519.10,451.80 L519.60,451.89 L520.10,451.98 L520.60,452.07 L521.10,452.16 L521.60,452.26 L522.10,452.36 L522.60,452.46 L523.10,452.56 L523.60,452.66 L524.10,452.77 L524.60,452.87 L525.10,452.98 L525.60,453.10 L526.10,453.21 L526.60,453.32 L527.10,453.44 L527.60,453.56 L528.10,453.68 L528.60,453.81 L529.10,453.93 L529.60,454.06 L530.10,454.19 L530.60,454.32 L531.10,454.45 L531.60,454.59 L532.10,454.72 L532.60,454.86 L533.10,455.00 L533.60,455.14 L534.10,455.29 L534.60,455.43 L535.10,455.58 L535.60,455.73 L536.10,455.88 L536.60,456.03 L537.10,456.19 L537.60,456.34 L538.10,456.50 L538.60,456.66 L539.10,456.82 L539.60,456.98 L540.10,457.15 L540.60,457.32 L541.10,457.48 L541.60,457.65 L542.10,457.82 L542.60,458.00 L543.10,458.17 L543.60,458.35 L544.10,458.53 L544.60,458.71 L545.10,458.89 L545.60,459.07 L546.10,459.25 L546.60,459.44 L547.10,459.62 L547.60,459.81 L548.10,459.99 L548.60,460.18 L549.10,460.36 L549.60,460.55 L550.10,460.73 L550.60,460.91 L551.10,461.10 L551.60,461.28 L552.10,461.46 L552.60,461.64 L553.10,461.81 L553.60,461.99 L554.10,462.16 L554.60,462.33 L555.10,462.50 L555.60,462.67 L556.10,462.83 L556.60,462.99 L557.10,463.15 L557.60,463.31 L558.10,463.46 L558.60,463.60 L559.10,463.75 L559.60,463.89 L560.10,464.02 L560.60,464.15 L561.10,464.28 L561.60,464.40 L562.10,464.51 L562.60,464.62 L563.10,464.73 L563.60,464.83 L564.10,464.92 L564.60,465.01 L565.10,465.09 L565.60,465.17 L566.10,465.24 L566.60,465.30 L567.10,465.35 L567.60,465.40 L568.10,465.44 L568.60,465.48 L569.10,465.50 L569.60,465.52 L570.10,465.53 L570.60,465.53 L571.10,465.53 L571.60,465.51 L572.10,465.49 L572.60,465.45 L573.10,465.41 L573.60,465.36 L574.10,465.30 L574.60,465.23 L575.10,465.15 L575.60,465.06 L576.10,464.96 L576.60,464.84 L577.10,464.72 L577.60,464.59 L578.10,464.44 L578.60,464.29 L579.10,464.12 L579.60,463.94 L580.10,463.75 L580.60,463.55 L581.10,463.34 L581.60,463.11 L582.10,462.87 L582.60,462.62 L583.10,462.35 L583.60,462.08 L584.10,461.79 L584.60,461.48 L585.10,461.16 L585.60,460.83 L586.10,460.48 L586.60,460.12 L587.10,459.75 L587.60,459.36 L588.10,458.95 L588.60,458.53 L589.10,458.10 L589.60,457.65 L590.10,457.18 L590.60,456.70 L591.00,456.31" fill="none" stroke="#000" stroke-width="2.7" stroke-linejoin="round"/>
</g>
<rect x="71.5" y="367.4" width="518.7" height="248.20000000000005" fill="none" stroke="#000" stroke-width="1.9"/>
<path d="M71.50,615.6 V609.60 M71.50,367.4 V373.40 M90.71,615.6 V612.40 M90.71,367.4 V370.60 M109.92,615.6 V612.40 M109.92,367.4 V370.60 M129.13,615.6 V612.40 M129.13,367.4 V370.60 M148.34,615.6 V612.40 M148.34,367.4 V370.60 M167.56,615.6 V609.60 M167.56,367.4 V373.40 M186.77,615.6 V612.40 M186.77,367.4 V370.60 M205.98,615.6 V612.40 M205.98,367.4 V370.60 M225.19,615.6 V612.40 M225.19,367.4 V370.60 M244.40,615.6 V612.40 M244.40,367.4 V370.60 M263.61,615.6 V609.60 M263.61,367.4 V373.40 M282.82,615.6 V612.40 M282.82,367.4 V370.60 M302.03,615.6 V612.40 M302.03,367.4 V370.60 M321.24,615.6 V612.40 M321.24,367.4 V370.60 M340.46,615.6 V612.40 M340.46,367.4 V370.60 M359.67,615.6 V609.60 M359.67,367.4 V373.40 M378.88,615.6 V612.40 M378.88,367.4 V370.60 M398.09,615.6 V612.40 M398.09,367.4 V370.60 M417.30,615.6 V612.40 M417.30,367.4 V370.60 M436.51,615.6 V612.40 M436.51,367.4 V370.60 M455.72,615.6 V609.60 M455.72,367.4 V373.40 M474.93,615.6 V612.40 M474.93,367.4 V370.60 M494.14,615.6 V612.40 M494.14,367.4 V370.60 M513.36,615.6 V612.40 M513.36,367.4 V370.60 M532.57,615.6 V612.40 M532.57,367.4 V370.60 M551.78,615.6 V609.60 M551.78,367.4 V373.40 M570.99,615.6 V612.40 M570.99,367.4 V370.60 M590.20,615.6 V612.40 M590.20,367.4 V370.60 M71.5,602.21 H77.50 M71.5,588.42 H74.70 M71.5,574.63 H74.70 M71.5,560.84 H74.70 M71.5,547.06 H77.50 M71.5,533.27 H74.70 M71.5,519.48 H74.70 M71.5,505.69 H74.70 M71.5,491.90 H77.50 M71.5,478.11 H74.70 M71.5,464.32 H74.70 M71.5,450.53 H74.70 M71.5,436.74 H77.50 M71.5,422.96 H74.70 M71.5,409.17 H74.70 M71.5,395.38 H74.70 M71.5,381.59 H77.50 M590.2,491.90 H584.20 M590.2,477.29 H587.00 M590.2,462.67 H587.00 M590.2,448.06 H587.00 M590.2,433.45 H584.20 M590.2,418.84 H587.00 M590.2,404.23 H587.00 M590.2,389.61 H587.00 M590.2,375.00 H584.20" stroke="#000" stroke-width="1.7" fill="none"/>
<text x="71.50" y="640" text-anchor="middle" class="t21">350</text>
<text x="167.56" y="640" text-anchor="middle" class="t21">400</text>
<text x="263.61" y="640" text-anchor="middle" class="t21">450</text>
<text x="359.67" y="640" text-anchor="middle" class="t21">500</text>
<text x="455.72" y="640" text-anchor="middle" class="t21">550</text>
<text x="551.78" y="640" text-anchor="middle" class="t21">600</text>
<text x="61.2" y="387.79" text-anchor="end" class="t21">8</text>
<text x="61.2" y="442.94" text-anchor="end" class="t21">4</text>
<text x="61.2" y="498.10" text-anchor="end" class="t21">0</text>
<text x="61.2" y="553.26" text-anchor="end" class="t21">-4</text>
<text x="61.2" y="608.41" text-anchor="end" class="t21">-8</text>
<text x="596.5" y="381.40" class="t21" style="fill:#0000ff">800</text>
<text x="596.5" y="439.85" class="t21" style="fill:#0000ff">400</text>
<text x="596.5" y="498.30" class="t21" style="fill:#0000ff">0</text>
<text x="331.5" y="667" text-anchor="middle" class="t21">Frequency (THz)</text>
<text x="89" y="401" class="t21">(b)</text>
<text x="259.5" y="510.4" style="font-size:19.5px"><tspan style="fill:#555">±</tspan>7.5 THz</text>
<text x="336.8" y="602" style="font-size:19.5px"><tspan style="fill:#555">±</tspan>15 THz</text>
<text transform="translate(661,455.5) rotate(-90)" text-anchor="middle" class="t21" style="fill:#0000ff">Absorbance (mOD)</text>
</g>
<g id="panelc">
<clipPath id="clipc"><rect x="63.5" y="678.6" width="526.7" height="224.0"/></clipPath>
<g clip-path="url(#clipc)">
<line x1="71.50" y1="758.60" x2="575.6" y2="701.4" stroke="#000" stroke-width="1.2"/>
<line x1="71.50" y1="758.60" x2="575" y2="890" stroke="#000" stroke-width="1.2"/>
<rect x="189.75" y="740.20" width="9.6" height="9.6" fill="#000"/>
<rect x="243.63" y="734.60" width="9.6" height="9.6" fill="#000"/>
<rect x="308.18" y="727.24" width="9.6" height="9.6" fill="#000"/>
<rect x="386.56" y="719.40" width="9.6" height="9.6" fill="#000"/>
<rect x="465.81" y="708.04" width="9.6" height="9.6" fill="#000"/>
<rect x="559.47" y="697.48" width="9.6" height="9.6" fill="#000"/>
<path d="M71.50,752.60 L77.00,758.60 L71.50,764.60 L66.00,758.60Z" fill="#fff" stroke="#0000ff" stroke-width="1.9"/>
<path d="M194.55,741.40 L200.05,747.40 L194.55,753.40 L189.05,747.40Z" fill="#fff" stroke="#0000ff" stroke-width="1.9"/>
<path d="M248.43,735.80 L253.93,741.80 L248.43,747.80 L242.93,741.80Z" fill="#fff" stroke="#0000ff" stroke-width="1.9"/>
<path d="M312.98,730.20 L318.48,736.20 L312.98,742.20 L307.48,736.20Z" fill="#fff" stroke="#0000ff" stroke-width="1.9"/>
<path d="M391.37,722.20 L396.87,728.20 L391.37,734.20 L385.87,728.20Z" fill="#fff" stroke="#0000ff" stroke-width="1.9"/>
<path d="M470.61,714.20 L476.11,720.20 L470.61,726.20 L465.11,720.20Z" fill="#fff" stroke="#0000ff" stroke-width="1.9"/>
<path d="M564.27,703.96 L569.77,709.96 L564.27,715.96 L558.77,709.96Z" fill="#fff" stroke="#0000ff" stroke-width="1.9"/>
<line x1="66" y1="759.6" x2="577" y2="708.4" stroke="#0000ff" stroke-width="1.2"/>
<circle cx="194.55" cy="789.64" r="5.4" fill="#000"/>
<circle cx="248.43" cy="802.76" r="5.4" fill="#000"/>
<circle cx="312.98" cy="819.88" r="5.4" fill="#000"/>
<circle cx="391.37" cy="838.92" r="5.4" fill="#000"/>
<circle cx="470.61" cy="860.68" r="5.4" fill="#000"/>
<circle cx="564.27" cy="885.48" r="5.4" fill="#000"/>
</g>
<rect x="71.5" y="678.6" width="518.7" height="224.0" fill="none" stroke="#000" stroke-width="1.9"/>
<path d="M71.50,902.6 V896.60 M71.50,678.6 V684.60 M100.32,902.6 V899.40 M100.32,678.6 V681.80 M129.13,902.6 V896.60 M129.13,678.6 V684.60 M157.95,902.6 V899.40 M157.95,678.6 V681.80 M186.77,902.6 V896.60 M186.77,678.6 V684.60 M215.58,902.6 V899.40 M215.58,678.6 V681.80 M244.40,902.6 V896.60 M244.40,678.6 V684.60 M273.22,902.6 V899.40 M273.22,678.6 V681.80 M302.03,902.6 V896.60 M302.03,678.6 V684.60 M330.85,902.6 V899.40 M330.85,678.6 V681.80 M359.67,902.6 V896.60 M359.67,678.6 V684.60 M388.48,902.6 V899.40 M388.48,678.6 V681.80 M417.30,902.6 V896.60 M417.30,678.6 V684.60 M446.12,902.6 V899.40 M446.12,678.6 V681.80 M474.93,902.6 V896.60 M474.93,678.6 V684.60 M503.75,902.6 V899.40 M503.75,678.6 V681.80 M532.57,902.6 V896.60 M532.57,678.6 V684.60 M561.38,902.6 V899.40 M561.38,678.6 V681.80 M590.20,902.6 V896.60 M590.20,678.6 V684.60 M71.5,886.60 H77.50 M590.2,886.60 H584.20 M71.5,870.60 H74.70 M590.2,870.60 H587.00 M71.5,854.60 H77.50 M590.2,854.60 H584.20 M71.5,838.60 H74.70 M590.2,838.60 H587.00 M71.5,822.60 H77.50 M590.2,822.60 H584.20 M71.5,806.60 H74.70 M590.2,806.60 H587.00 M71.5,790.60 H77.50 M590.2,790.60 H584.20 M71.5,774.60 H74.70 M590.2,774.60 H587.00 M71.5,758.60 H77.50 M590.2,758.60 H584.20 M71.5,742.60 H74.70 M590.2,742.60 H587.00 M71.5,726.60 H77.50 M590.2,726.60 H584.20 M71.5,710.60 H74.70 M590.2,710.60 H587.00 M71.5,694.60 H77.50 M590.2,694.60 H584.20" stroke="#000" stroke-width="1.7" fill="none"/>
<text x="71.50" y="927" text-anchor="middle" class="t21">0</text>
<text x="129.13" y="927" text-anchor="middle" class="t21">2</text>
<text x="186.77" y="927" text-anchor="middle" class="t21">4</text>
<text x="244.40" y="927" text-anchor="middle" class="t21">6</text>
<text x="302.03" y="927" text-anchor="middle" class="t21">8</text>
<text x="359.67" y="927" text-anchor="middle" class="t21">10</text>
<text x="417.30" y="927" text-anchor="middle" class="t21">12</text>
<text x="474.93" y="927" text-anchor="middle" class="t21">14</text>
<text x="532.57" y="927" text-anchor="middle" class="t21">16</text>
<text x="590.20" y="927" text-anchor="middle" class="t21">18</text>
<text x="58.6" y="892.80" text-anchor="end" class="t21">-8</text>
<text x="58.6" y="860.80" text-anchor="end" class="t21">-6</text>
<text x="58.6" y="828.80" text-anchor="end" class="t21">-4</text>
<text x="58.6" y="796.80" text-anchor="end" class="t21">-2</text>
<text x="58.6" y="764.80" text-anchor="end" class="t21">0</text>
<text x="58.6" y="732.80" text-anchor="end" class="t21">2</text>
<text x="58.6" y="700.80" text-anchor="end" class="t21">4</text>
<text x="91" y="707.5" class="t21">(c)</text>
<text x="341" y="710.5" class="t21">399 THz</text>
<text x="474.5" y="753" class="t21">572 THz</text>
<text x="475.5" y="844.5" class="t21">471 THz</text>
<text x="246" y="953.5" class="t21">(E<tspan class="sub" dy="5">loc</tspan><tspan dy="-5">)</tspan><tspan class="sup" dy="-8">2</tspan><tspan dy="8"> ((MV/cm)</tspan><tspan class="sup" dy="-8">2</tspan><tspan dy="8">)</tspan></text>
<text transform="translate(27,645) rotate(-90)" text-anchor="middle" class="t21">Absorbance Change ΔA (mOD)</text>
</g>
</svg></body></html>
